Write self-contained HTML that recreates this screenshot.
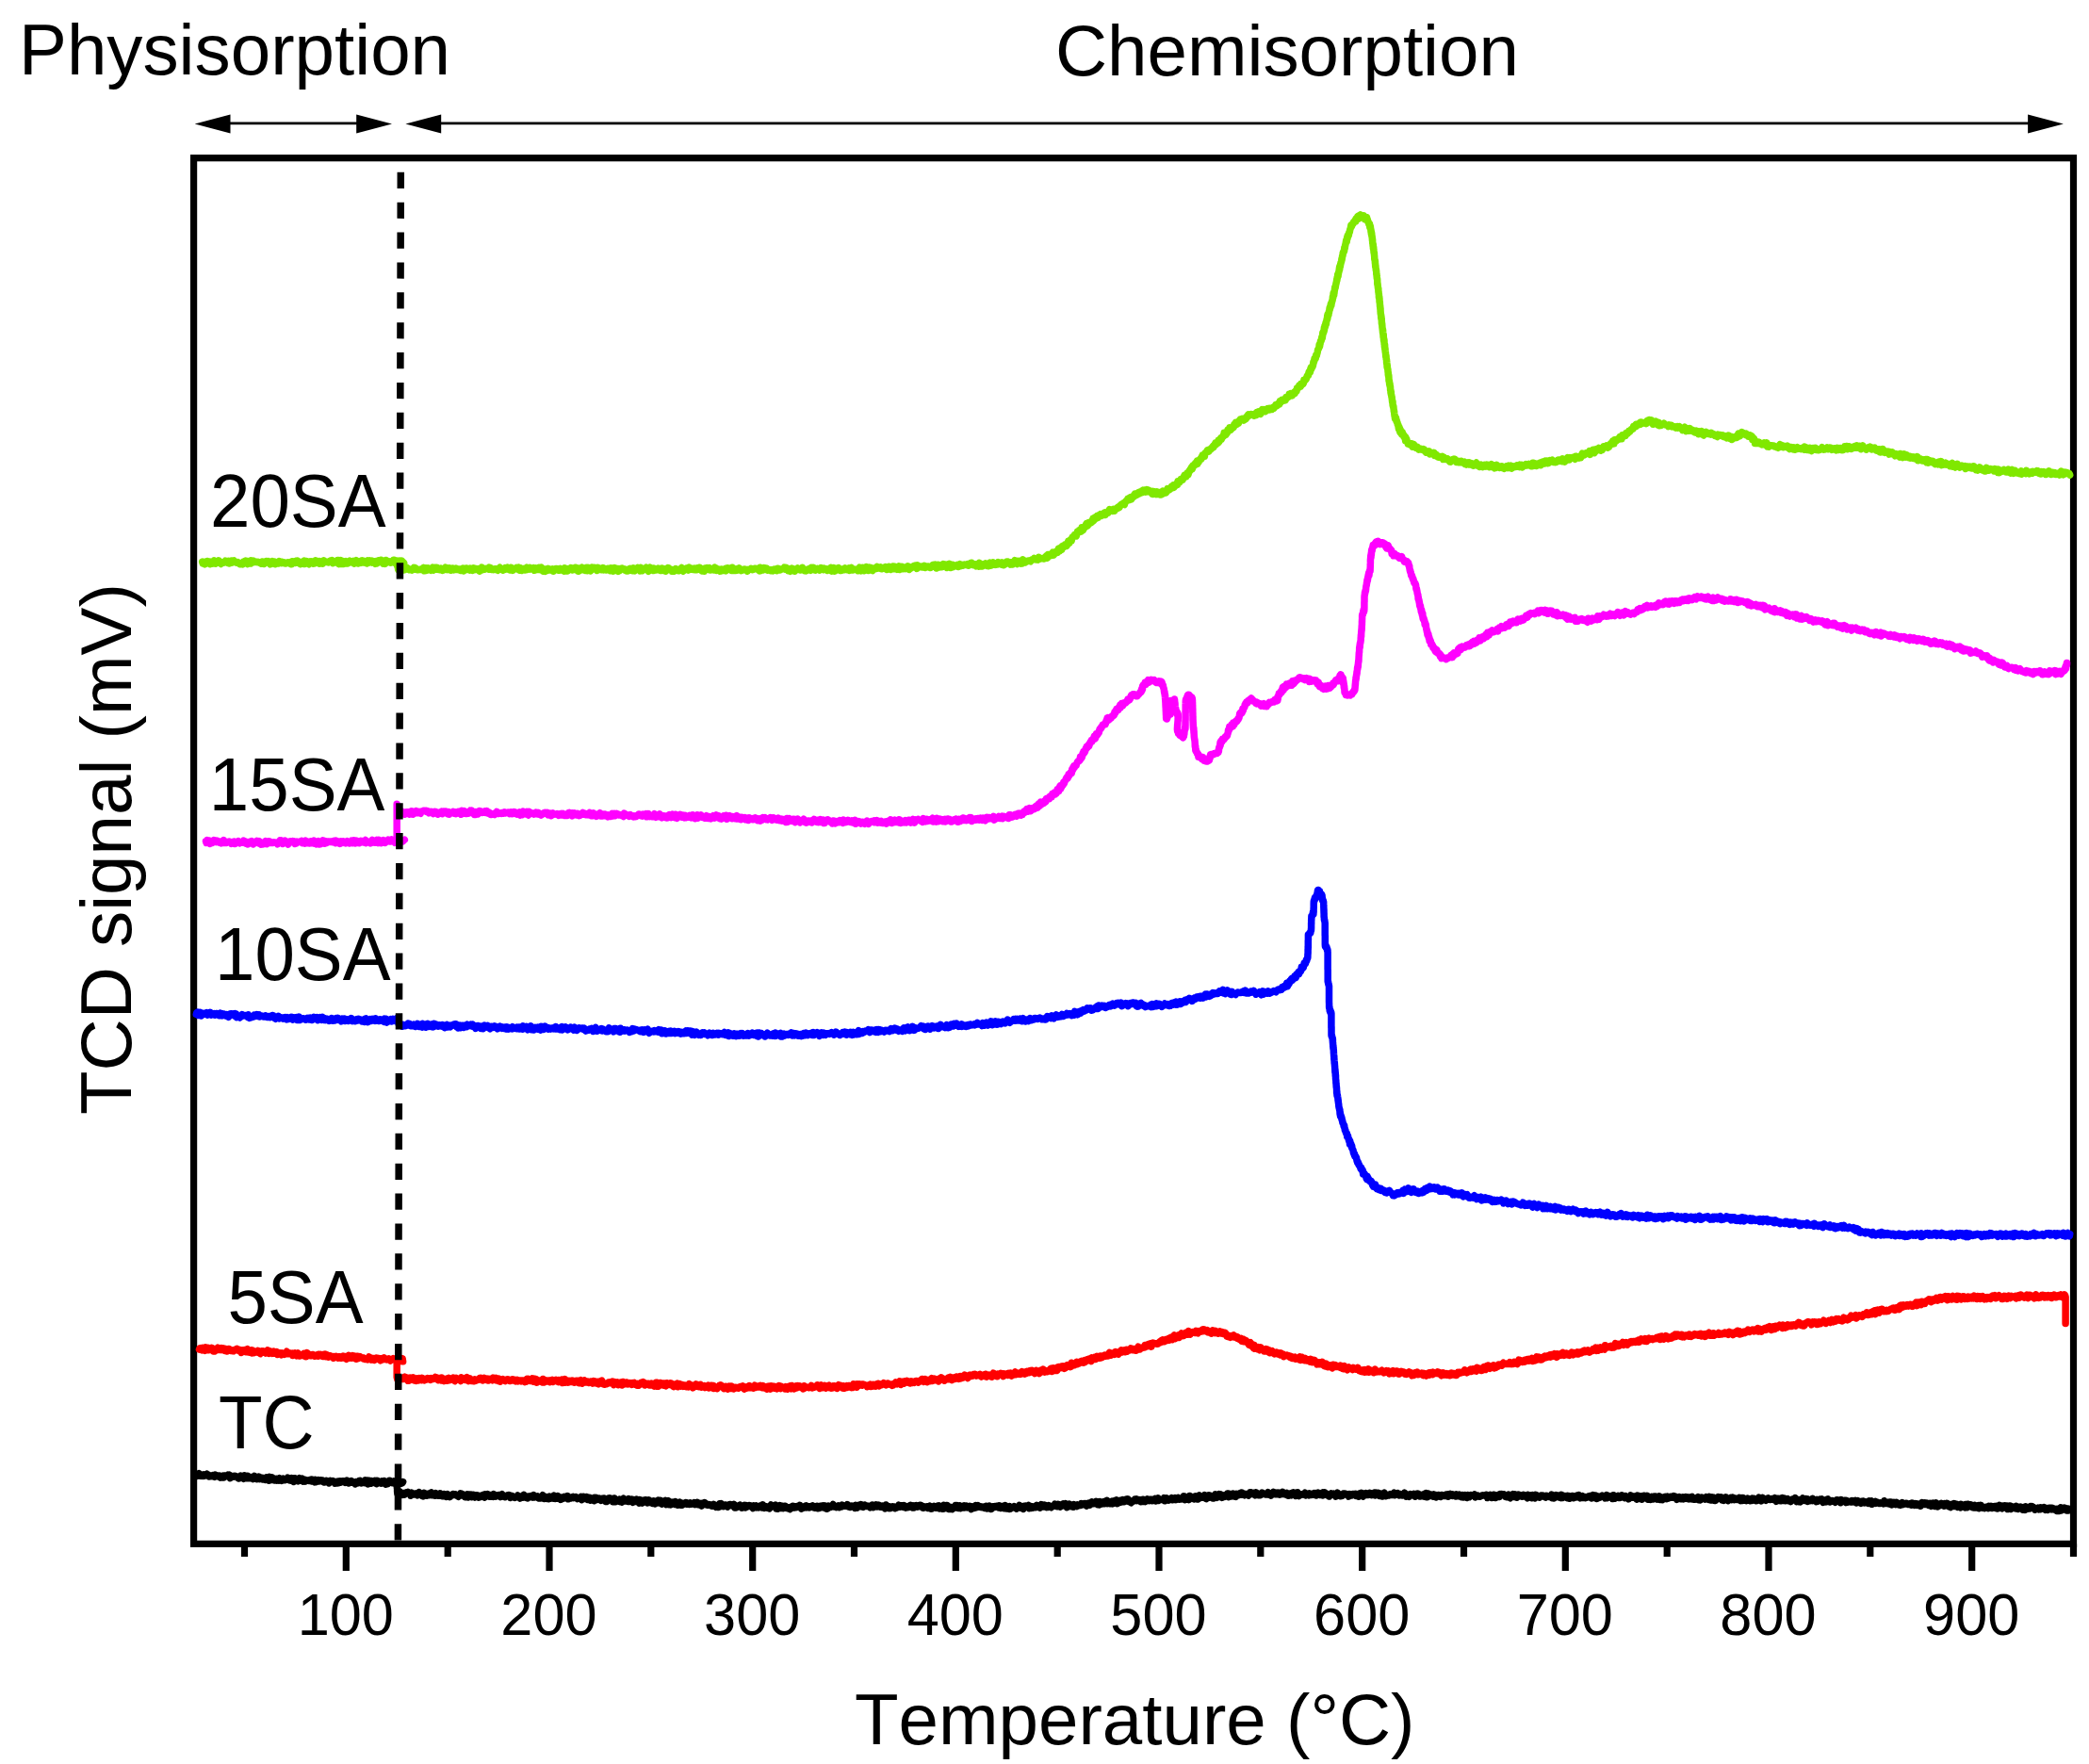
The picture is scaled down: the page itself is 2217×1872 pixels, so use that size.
<!DOCTYPE html>
<html lang="en"><head><meta charset="utf-8"><title>CO2-TPD profiles</title>
<style>
html,body{margin:0;padding:0;background:#fff}
body{width:2217px;height:1872px;overflow:hidden}
svg{display:block}
text{font-family:"Liberation Sans",Arial,Helvetica,sans-serif;fill:#000;font-kerning:none}
.big{font-size:76.3px}
.tick{font-size:61.3px;text-anchor:middle}
.curve{fill:none;stroke-width:7.5;stroke-linejoin:round;stroke-linecap:round}
</style></head><body>
<svg width="2217" height="1872" viewBox="0 0 2217 1872">
<rect x="0" y="0" width="2217" height="1872" fill="#fff"/>
<rect x="205.6" y="167.7" width="1994.9" height="1470.7" fill="none" stroke="#000" stroke-width="7.2"/>
<g stroke="#000" stroke-width="7.2">
<line x1="259.5" y1="1638.4" x2="259.5" y2="1652"/>
<line x1="367.3" y1="1638.4" x2="367.3" y2="1667"/>
<line x1="475.2" y1="1638.4" x2="475.2" y2="1652"/>
<line x1="583.0" y1="1638.4" x2="583.0" y2="1667"/>
<line x1="690.8" y1="1638.4" x2="690.8" y2="1652"/>
<line x1="798.7" y1="1638.4" x2="798.7" y2="1667"/>
<line x1="906.5" y1="1638.4" x2="906.5" y2="1652"/>
<line x1="1014.3" y1="1638.4" x2="1014.3" y2="1667"/>
<line x1="1122.2" y1="1638.4" x2="1122.2" y2="1652"/>
<line x1="1230.0" y1="1638.4" x2="1230.0" y2="1667"/>
<line x1="1337.8" y1="1638.4" x2="1337.8" y2="1652"/>
<line x1="1445.7" y1="1638.4" x2="1445.7" y2="1667"/>
<line x1="1553.5" y1="1638.4" x2="1553.5" y2="1652"/>
<line x1="1661.3" y1="1638.4" x2="1661.3" y2="1667"/>
<line x1="1769.2" y1="1638.4" x2="1769.2" y2="1652"/>
<line x1="1877.0" y1="1638.4" x2="1877.0" y2="1667"/>
<line x1="1984.8" y1="1638.4" x2="1984.8" y2="1652"/>
<line x1="2092.7" y1="1638.4" x2="2092.7" y2="1667"/>
<line x1="2200.5" y1="1638.4" x2="2200.5" y2="1652"/>
</g>
<text class="tick" transform="translate(366.8,1735.0) scale(1,1.035)">100</text>
<text class="tick" transform="translate(582.5,1735.0) scale(1,1.035)">200</text>
<text class="tick" transform="translate(798.2,1735.0) scale(1,1.035)">300</text>
<text class="tick" transform="translate(1013.8,1735.0) scale(1,1.035)">400</text>
<text class="tick" transform="translate(1229.5,1735.0) scale(1,1.035)">500</text>
<text class="tick" transform="translate(1445.2,1735.0) scale(1,1.035)">600</text>
<text class="tick" transform="translate(1660.8,1735.0) scale(1,1.035)">700</text>
<text class="tick" transform="translate(1876.5,1735.0) scale(1,1.035)">800</text>
<text class="tick" transform="translate(2092.2,1735.0) scale(1,1.035)">900</text>
<polyline class="curve" stroke="#000000" points="209.3,1564.8 209.8,1566.3 210.6,1565.2 211.4,1563.7 212.2,1566.3 213.0,1566.4 213.8,1565.2 214.6,1565.5 215.4,1566.3 216.2,1564.8 217.0,1566.2 217.8,1565.8 218.7,1564.9 219.5,1564.3 220.3,1565.7 221.1,1565.1 221.9,1566.8 222.7,1565.9 223.5,1566.7 224.3,1566.2 225.1,1566.5 225.9,1565.8 226.7,1567.0 227.5,1567.3 228.3,1565.1 229.1,1565.4 229.9,1566.1 230.7,1565.9 231.5,1566.1 232.3,1567.1 233.1,1566.2 233.9,1568.1 234.7,1567.2 235.5,1567.5 236.3,1567.9 237.1,1566.2 238.0,1567.8 238.8,1566.0 239.6,1565.9 240.4,1566.1 241.2,1566.5 242.0,1565.3 242.8,1566.7 243.6,1565.2 244.4,1568.6 245.2,1567.0 246.0,1566.5 246.8,1566.5 247.6,1567.2 248.4,1567.2 249.2,1566.2 250.0,1566.5 250.8,1567.3 251.6,1567.0 252.4,1568.5 253.2,1568.9 254.0,1567.6 254.8,1567.8 255.6,1566.1 256.4,1568.4 257.3,1567.7 258.1,1568.0 258.9,1569.2 259.7,1565.9 260.5,1568.2 261.3,1566.9 262.1,1568.7 262.9,1566.4 263.7,1567.6 264.5,1568.7 265.3,1568.8 266.1,1568.2 266.9,1567.6 267.7,1568.0 268.5,1569.5 269.3,1568.2 270.1,1566.4 270.9,1569.1 271.7,1568.9 272.5,1569.6 273.3,1568.2 274.1,1569.0 274.9,1567.2 275.8,1569.5 276.6,1568.5 277.4,1569.4 278.2,1569.9 279.0,1568.3 279.8,1569.2 280.6,1569.3 281.4,1570.4 282.2,1569.8 283.0,1567.9 283.8,1569.6 284.6,1569.5 285.4,1571.1 286.2,1567.3 287.0,1568.4 287.8,1570.6 288.6,1567.9 289.4,1568.3 290.2,1570.2 291.0,1570.9 291.8,1569.3 292.6,1570.3 293.4,1569.4 294.2,1571.0 295.1,1570.0 295.9,1570.9 296.7,1568.7 297.5,1569.6 298.3,1569.9 299.1,1571.3 299.9,1570.7 300.7,1569.1 301.5,1570.6 302.3,1570.8 303.1,1569.9 303.9,1570.1 304.7,1570.2 305.5,1568.2 306.3,1569.7 307.1,1570.7 307.9,1570.0 308.7,1571.0 309.5,1568.5 310.3,1569.7 311.1,1569.7 311.9,1572.3 312.8,1568.7 313.6,1571.1 314.4,1571.5 315.2,1571.0 316.0,1571.7 316.8,1569.3 317.6,1568.7 318.4,1571.2 319.2,1569.2 320.0,1570.0 320.8,1569.3 321.6,1572.2 322.4,1571.9 323.2,1570.2 324.0,1572.0 324.8,1571.0 325.6,1570.8 326.4,1571.2 327.2,1570.8 328.0,1571.6 328.8,1571.4 329.6,1570.6 330.5,1571.8 331.3,1570.2 332.1,1571.6 332.9,1571.9 333.7,1572.8 334.5,1570.4 335.3,1572.7 336.1,1571.4 336.9,1571.4 337.7,1570.7 338.5,1572.0 339.3,1571.7 340.1,1570.7 340.9,1570.9 341.7,1571.7 342.5,1571.2 343.3,1572.7 344.1,1573.1 344.9,1572.7 345.7,1572.2 346.5,1571.4 347.4,1571.8 348.2,1572.5 349.0,1573.9 349.8,1572.7 350.6,1571.4 351.4,1572.3 352.2,1572.0 353.0,1571.6 353.8,1571.9 354.6,1572.5 355.4,1574.2 356.2,1572.7 357.0,1573.4 357.8,1573.8 358.6,1572.1 359.4,1573.7 360.2,1572.9 361.0,1572.0 361.8,1573.1 362.6,1572.6 363.4,1571.7 364.2,1571.8 365.1,1572.5 365.9,1573.2 366.7,1572.0 367.5,1572.7 368.3,1571.1 369.1,1573.6 369.9,1574.0 370.7,1572.9 371.5,1572.9 372.3,1573.2 373.1,1571.8 373.9,1572.4 374.7,1573.5 375.5,1573.8 376.3,1573.1 377.1,1574.8 377.9,1572.6 378.7,1573.6 379.5,1573.9 380.4,1572.4 381.2,1571.6 382.0,1571.3 382.8,1572.9 383.6,1573.9 384.4,1573.1 385.2,1573.1 386.0,1572.6 386.8,1573.5 387.6,1570.9 388.4,1572.9 389.2,1572.6 390.0,1571.2 390.8,1574.9 391.6,1571.2 392.4,1571.5 393.2,1571.7 394.0,1574.2 394.8,1571.7 395.7,1573.2 396.5,1573.5 397.3,1573.2 398.1,1571.4 398.9,1572.3 399.7,1574.6 400.5,1571.3 401.3,1572.0 402.1,1572.9 402.9,1573.7 403.7,1573.2 404.5,1574.0 405.3,1571.9 406.1,1573.7 406.9,1573.6 407.7,1571.5 408.5,1574.7 409.3,1575.1 410.1,1572.3 411.0,1573.2 411.8,1574.6 412.6,1571.6 413.4,1571.2 414.2,1571.6 415.0,1572.6 415.8,1572.7 416.6,1573.7 417.4,1573.3 418.2,1571.8 419.0,1573.3 419.8,1574.7 420.6,1574.2 421.4,1574.0 422.2,1573.1 423.0,1574.4 423.8,1572.4 424.6,1573.9 425.4,1573.0 426.2,1574.2 427.1,1573.6 427.6,1572.6"/>
<polyline class="curve" stroke="#000000" points="421.2,1573.6 421.2,1574.6 421.3,1574.7 421.3,1576.8 421.4,1579.1 421.4,1578.4 421.5,1578.6 421.5,1578.7 421.6,1580.2 421.6,1582.9 421.7,1582.3 421.7,1582.8 421.8,1584.5 422.0,1585.5 422.4,1586.1 423.1,1584.8 423.9,1584.1 424.7,1583.2 425.5,1584.3 426.3,1584.9 427.1,1586.2 427.9,1585.7 428.7,1584.7 429.5,1586.1 430.3,1584.3 431.1,1584.6 431.9,1583.7 432.7,1583.4 433.5,1584.6 434.3,1584.5 435.1,1584.9 435.9,1587.2 436.7,1584.2 437.5,1584.6 438.3,1585.3 439.1,1586.1 439.9,1586.1 440.7,1585.0 441.5,1584.9 442.3,1585.5 443.1,1586.8 443.9,1584.5 444.7,1583.7 445.5,1585.7 446.3,1584.6 447.1,1585.9 447.9,1587.2 448.7,1585.7 449.5,1587.8 450.3,1584.3 451.1,1585.8 451.9,1586.2 452.7,1587.1 453.5,1585.4 454.3,1586.6 455.1,1586.8 455.9,1586.4 456.7,1584.4 457.5,1584.0 458.3,1586.6 459.1,1586.4 459.9,1586.0 460.7,1586.8 461.5,1587.2 462.3,1584.5 463.1,1586.1 463.9,1587.0 464.7,1587.2 465.5,1587.2 466.3,1587.3 467.1,1584.8 467.9,1585.6 468.7,1587.4 469.5,1587.7 470.3,1586.4 471.1,1585.7 471.9,1586.6 472.7,1587.7 473.5,1588.4 474.3,1587.2 475.1,1585.8 475.9,1587.3 476.7,1586.9 477.5,1588.5 478.3,1586.9 479.1,1586.4 479.9,1586.6 480.7,1585.5 481.5,1585.6 482.3,1586.3 483.1,1585.8 483.9,1586.7 484.7,1586.6 485.5,1587.6 486.3,1588.3 487.1,1586.7 487.9,1586.3 488.7,1584.8 489.5,1586.7 490.3,1587.0 491.1,1585.8 491.9,1586.7 492.7,1586.5 493.5,1588.6 494.3,1588.4 495.1,1588.6 495.9,1585.9 496.7,1589.0 497.5,1586.2 498.3,1586.0 499.1,1587.2 499.9,1586.2 500.7,1588.7 501.5,1586.6 502.3,1586.4 503.1,1588.1 503.9,1588.9 504.7,1586.7 505.5,1586.7 506.3,1586.7 507.1,1587.0 507.9,1589.1 508.7,1588.9 509.5,1588.6 510.3,1588.5 511.1,1587.1 511.9,1587.9 512.7,1586.8 513.5,1586.3 514.3,1589.1 515.1,1585.9 515.9,1587.8 516.7,1586.9 517.5,1585.7 518.3,1587.3 519.1,1588.1 519.9,1588.3 520.7,1586.7 521.5,1588.1 522.3,1587.6 523.1,1588.3 523.9,1585.6 524.7,1587.0 525.5,1586.7 526.3,1588.1 527.1,1587.0 527.9,1587.5 528.7,1586.8 529.5,1586.5 530.4,1586.6 531.2,1588.6 532.0,1586.4 532.8,1585.8 533.6,1588.0 534.4,1587.3 535.2,1588.6 536.0,1588.7 536.8,1587.8 537.6,1587.4 538.4,1586.9 539.2,1587.5 540.0,1586.7 540.8,1587.7 541.6,1589.3 542.4,1587.3 543.2,1587.4 544.0,1587.7 544.8,1589.0 545.6,1588.8 546.4,1589.4 547.2,1588.9 548.0,1588.3 548.8,1588.6 549.6,1587.0 550.4,1588.8 551.2,1588.0 552.0,1590.0 552.8,1589.6 553.6,1587.7 554.4,1587.9 555.2,1589.0 556.0,1586.4 556.8,1587.3 557.6,1588.9 558.4,1589.5 559.2,1589.0 560.0,1589.8 560.8,1588.0 561.6,1588.2 562.4,1588.2 563.2,1587.6 564.0,1588.6 564.8,1587.8 565.6,1589.0 566.4,1586.6 567.2,1588.9 568.0,1588.0 568.8,1588.0 569.6,1588.5 570.4,1588.0 571.2,1589.7 572.0,1590.1 572.8,1589.7 573.6,1590.0 574.4,1589.2 575.2,1588.2 576.0,1586.8 576.8,1588.3 577.6,1590.4 578.4,1589.9 579.2,1588.4 580.0,1589.1 580.8,1590.3 581.6,1589.0 582.4,1590.7 583.2,1588.1 584.0,1590.2 584.8,1590.1 585.6,1589.4 586.4,1589.9 587.2,1590.1 588.0,1587.1 588.8,1589.1 589.6,1590.3 590.4,1589.7 591.2,1590.1 592.0,1587.6 592.8,1589.1 593.6,1589.5 594.4,1589.2 595.2,1591.3 596.0,1590.8 596.8,1589.2 597.6,1590.3 598.4,1590.0 599.2,1588.4 600.0,1589.7 600.8,1589.5 601.6,1589.2 602.4,1587.6 603.2,1590.8 604.0,1590.3 604.8,1589.7 605.6,1590.1 606.4,1589.7 607.2,1588.7 608.0,1588.4 608.8,1589.6 609.6,1589.3 610.4,1589.5 611.2,1588.6 612.0,1589.3 612.8,1590.6 613.6,1589.8 614.4,1589.9 615.2,1590.2 616.0,1590.0 616.8,1588.4 617.6,1591.6 618.4,1589.2 619.2,1588.4 620.0,1590.5 620.8,1590.3 621.6,1589.4 622.4,1588.5 623.2,1588.6 624.0,1591.5 624.8,1589.7 625.6,1589.3 626.4,1592.2 627.2,1589.9 628.0,1589.9 628.8,1591.8 629.6,1591.5 630.4,1592.6 631.2,1589.3 632.0,1591.3 632.8,1589.5 633.6,1591.6 634.4,1590.1 635.2,1590.7 636.0,1590.2 636.8,1591.3 637.6,1592.2 638.4,1590.6 639.2,1590.2 640.0,1590.1 640.8,1591.5 641.6,1590.3 642.4,1593.4 643.2,1591.8 644.0,1593.4 644.8,1591.9 645.6,1590.3 646.4,1589.8 647.2,1590.6 648.0,1590.1 648.8,1591.1 649.6,1590.8 650.4,1593.7 651.2,1593.8 652.0,1590.0 652.8,1592.4 653.6,1593.6 654.4,1592.0 655.2,1591.8 656.0,1592.9 656.8,1592.5 657.6,1591.1 658.4,1593.7 659.2,1591.7 660.0,1594.2 660.8,1591.3 661.6,1590.3 662.4,1591.9 663.2,1592.9 664.0,1592.4 664.8,1592.8 665.6,1591.9 666.4,1593.3 667.2,1590.6 668.0,1593.4 668.8,1591.1 669.6,1591.8 670.4,1591.2 671.2,1591.8 672.0,1594.3 672.8,1591.6 673.6,1593.1 674.4,1591.7 675.2,1593.4 676.0,1591.2 676.8,1593.1 677.6,1594.1 678.4,1595.1 679.2,1591.6 680.0,1592.2 680.8,1593.3 681.6,1595.1 682.4,1592.6 683.2,1594.2 684.0,1592.1 684.8,1591.8 685.6,1591.8 686.4,1593.8 687.2,1594.8 688.0,1593.8 688.8,1591.9 689.6,1593.5 690.4,1594.7 691.2,1594.7 692.0,1594.1 692.8,1595.3 693.6,1592.8 694.4,1593.1 695.2,1595.9 696.0,1594.7 696.8,1593.6 697.6,1593.2 698.4,1592.1 699.2,1594.8 700.0,1592.2 700.8,1592.2 701.6,1594.3 702.4,1596.0 703.2,1593.8 704.0,1594.5 704.8,1593.2 705.6,1594.0 706.4,1592.5 707.2,1596.6 708.0,1593.4 708.8,1594.8 709.5,1592.7 710.3,1596.7 711.1,1595.5 711.9,1596.8 712.7,1594.1 713.5,1595.7 714.3,1594.4 715.1,1594.8 715.9,1596.3 716.7,1593.7 717.5,1595.6 718.3,1597.1 719.1,1597.2 719.9,1596.7 720.7,1595.6 721.5,1594.3 722.3,1597.1 723.1,1595.1 723.9,1597.2 724.7,1595.3 725.5,1595.2 726.3,1595.1 727.1,1595.7 727.9,1594.8 728.7,1596.1 729.5,1595.3 730.3,1596.3 731.1,1596.4 731.9,1596.4 732.7,1594.8 733.5,1596.2 734.3,1595.9 735.1,1596.1 735.9,1595.5 736.7,1594.8 737.5,1596.6 738.3,1594.9 739.1,1596.4 739.9,1594.3 740.7,1596.8 741.5,1596.9 742.3,1595.2 743.1,1596.7 743.9,1596.0 744.7,1598.0 745.5,1597.0 746.3,1595.1 747.1,1596.4 747.9,1594.7 748.7,1595.9 749.5,1596.8 750.3,1597.2 751.1,1596.6 751.9,1596.5 752.7,1597.3 753.5,1596.9 754.3,1597.6 755.1,1598.1 755.9,1597.2 756.7,1598.0 757.5,1596.5 758.3,1596.9 759.1,1598.0 759.9,1599.3 760.7,1598.4 761.5,1599.2 762.3,1597.8 763.1,1599.3 763.9,1595.8 764.7,1597.5 765.5,1595.6 766.3,1598.3 767.1,1597.7 767.9,1598.5 768.7,1597.6 769.5,1596.9 770.3,1597.1 771.1,1598.2 771.9,1599.1 772.7,1598.1 773.5,1596.8 774.3,1596.6 775.1,1596.6 775.9,1597.4 776.7,1597.9 777.5,1597.5 778.3,1598.0 779.1,1596.5 779.9,1599.9 780.7,1598.4 781.5,1599.7 782.3,1598.4 783.1,1598.1 783.9,1598.4 784.7,1598.2 785.5,1597.3 786.3,1598.1 787.1,1600.2 787.9,1600.0 788.7,1598.1 789.5,1599.0 790.3,1597.5 791.1,1600.0 791.9,1597.5 792.7,1599.2 793.5,1598.3 794.3,1598.5 795.1,1597.7 795.9,1598.5 796.7,1598.1 797.5,1598.0 798.3,1599.2 799.1,1600.5 799.9,1597.8 800.7,1599.3 801.5,1598.5 802.3,1598.0 803.1,1599.9 803.9,1599.1 804.7,1599.8 805.5,1598.6 806.3,1598.6 807.1,1597.8 807.9,1598.3 808.7,1599.9 809.5,1596.8 810.3,1599.1 811.1,1600.2 811.9,1599.4 812.7,1599.8 813.5,1598.9 814.3,1600.3 815.1,1600.4 815.9,1599.2 816.7,1600.8 817.5,1598.5 818.3,1597.0 819.1,1598.7 819.9,1598.7 820.7,1598.3 821.5,1598.6 822.3,1598.3 823.1,1597.1 823.9,1600.9 824.7,1599.6 825.5,1601.2 826.3,1598.9 827.1,1599.3 827.9,1597.6 828.7,1600.3 829.5,1598.0 830.3,1600.1 831.1,1600.6 832.0,1600.0 832.8,1598.2 833.6,1598.4 834.4,1600.2 835.2,1600.5 836.0,1600.8 836.8,1599.7 837.6,1599.8 838.4,1601.5 839.2,1599.3 840.0,1600.4 840.8,1599.3 841.6,1598.3 842.4,1598.6 843.2,1599.9 844.0,1599.5 844.8,1599.8 845.6,1598.8 846.4,1598.4 847.2,1599.1 848.0,1598.9 848.8,1597.4 849.6,1598.7 850.4,1601.1 851.2,1598.9 852.0,1600.5 852.8,1599.4 853.6,1599.8 854.4,1598.2 855.2,1597.9 856.0,1599.8 856.8,1598.4 857.6,1599.0 858.4,1598.7 859.2,1599.9 860.0,1598.9 860.8,1599.0 861.6,1598.3 862.4,1597.9 863.2,1598.4 864.0,1600.1 864.8,1600.2 865.6,1600.3 866.4,1599.4 867.2,1598.5 868.0,1600.7 868.8,1600.0 869.6,1600.3 870.4,1598.3 871.2,1598.3 872.0,1599.4 872.8,1599.6 873.6,1597.9 874.4,1599.3 875.2,1597.8 876.0,1600.3 876.8,1599.9 877.6,1601.2 878.4,1600.8 879.2,1598.2 879.8,1598.9 880.4,1598.5 881.0,1599.1 881.8,1599.4 882.6,1598.4 883.4,1598.0 884.2,1596.5 885.0,1599.0 885.8,1598.7 886.6,1599.0 887.4,1599.5 888.2,1598.6 889.0,1599.1 889.8,1597.9 890.6,1599.7 891.4,1598.5 892.2,1598.3 893.0,1598.9 893.8,1597.1 894.6,1597.6 895.4,1597.9 896.2,1598.2 897.0,1598.2 897.8,1598.2 898.6,1598.4 899.4,1596.6 900.2,1598.3 901.0,1599.2 901.8,1599.4 902.6,1599.4 903.4,1598.2 904.2,1598.6 905.0,1598.3 905.8,1598.0 906.6,1598.6 907.4,1600.3 908.2,1597.4 909.0,1599.0 909.8,1599.9 910.6,1597.7 911.4,1598.8 912.2,1597.2 913.0,1598.3 913.8,1596.7 914.6,1598.8 915.4,1598.1 916.2,1599.2 917.0,1597.9 917.8,1597.2 918.6,1597.9 919.4,1598.6 920.2,1598.4 921.0,1598.1 921.8,1598.2 922.6,1598.7 923.4,1599.8 924.3,1598.4 925.1,1599.1 925.9,1597.1 926.7,1599.7 927.5,1599.3 928.3,1598.5 929.1,1598.4 929.9,1597.0 930.7,1598.9 931.5,1598.6 932.3,1597.1 933.1,1598.0 933.9,1599.2 934.7,1598.8 935.5,1599.0 936.3,1598.3 937.1,1599.6 937.9,1598.5 938.7,1599.6 939.5,1600.8 940.3,1597.0 941.1,1597.9 941.9,1598.6 942.7,1598.6 943.5,1600.5 944.3,1598.8 945.1,1600.6 945.9,1599.3 946.7,1599.1 947.5,1598.7 948.3,1599.2 949.1,1599.0 949.9,1600.6 950.7,1599.6 951.5,1600.0 952.3,1599.5 953.1,1599.6 953.9,1597.2 954.7,1598.5 955.5,1599.1 956.3,1597.8 957.1,1597.8 957.9,1598.7 958.7,1599.4 959.5,1597.6 960.3,1599.5 961.1,1600.1 961.9,1599.0 962.7,1599.5 963.5,1599.7 964.3,1598.5 965.1,1599.5 965.9,1599.1 966.7,1597.5 967.5,1599.5 968.3,1599.9 969.1,1597.8 969.9,1600.0 970.7,1599.2 971.5,1598.0 972.3,1597.6 973.1,1597.8 973.9,1599.1 974.7,1597.9 975.5,1598.4 976.3,1597.6 977.1,1598.9 977.9,1597.8 978.7,1598.8 979.5,1600.3 980.3,1600.2 981.1,1598.8 981.9,1599.2 982.7,1599.6 983.5,1599.0 984.3,1600.3 985.1,1600.5 985.9,1599.2 986.7,1598.2 987.5,1599.4 988.3,1601.2 989.1,1601.0 989.9,1600.3 990.7,1600.1 991.5,1598.5 992.3,1599.2 993.1,1600.0 993.9,1599.4 994.7,1600.1 995.5,1598.0 996.3,1597.8 997.1,1600.9 997.9,1599.6 998.7,1599.9 999.5,1600.8 1000.3,1601.3 1001.1,1601.3 1001.9,1597.4 1002.7,1599.3 1003.5,1600.2 1004.3,1597.4 1005.1,1597.4 1005.9,1599.4 1006.7,1601.4 1007.5,1600.9 1008.3,1601.4 1009.1,1599.5 1009.9,1600.5 1010.7,1601.4 1011.5,1600.6 1012.3,1599.8 1013.1,1599.7 1013.9,1597.5 1014.7,1599.8 1015.5,1597.5 1016.3,1598.6 1017.1,1600.4 1017.9,1600.2 1018.7,1597.8 1019.5,1600.6 1020.3,1600.3 1021.1,1598.9 1021.9,1599.5 1022.7,1599.9 1023.5,1598.0 1024.3,1599.8 1025.1,1599.4 1025.9,1598.3 1026.7,1599.8 1027.5,1599.0 1028.3,1599.5 1029.1,1598.5 1029.9,1600.2 1030.7,1601.5 1031.5,1598.9 1032.3,1599.4 1033.1,1599.7 1033.9,1600.3 1034.7,1599.7 1035.5,1597.5 1036.3,1599.8 1037.1,1598.7 1037.9,1597.7 1038.7,1599.1 1039.5,1598.9 1040.3,1599.4 1041.1,1598.8 1041.9,1599.2 1042.7,1599.7 1043.5,1599.3 1044.3,1599.0 1045.1,1600.4 1045.9,1599.3 1046.7,1598.4 1047.5,1601.0 1048.3,1599.1 1049.1,1600.7 1050.0,1598.1 1050.8,1600.0 1051.6,1601.5 1052.4,1601.2 1053.2,1599.8 1054.0,1598.8 1054.8,1598.7 1055.6,1599.3 1056.4,1598.5 1057.2,1598.4 1058.0,1598.3 1058.8,1598.4 1059.6,1599.7 1060.4,1597.8 1061.2,1599.9 1062.0,1600.3 1062.8,1598.4 1063.6,1598.5 1064.4,1599.5 1065.2,1599.4 1066.0,1600.6 1066.8,1597.6 1067.6,1599.6 1068.4,1600.8 1069.2,1599.2 1070.0,1600.9 1070.8,1601.4 1071.6,1598.7 1072.4,1601.1 1073.2,1600.6 1074.0,1600.3 1074.8,1599.6 1075.6,1599.6 1076.4,1598.7 1077.2,1599.1 1078.0,1600.2 1078.8,1601.0 1079.6,1599.5 1080.4,1600.1 1081.2,1599.5 1082.0,1597.5 1082.8,1600.1 1083.6,1598.4 1084.4,1598.4 1085.2,1600.5 1086.0,1601.3 1086.8,1598.2 1087.6,1598.2 1088.4,1597.9 1089.2,1598.2 1090.0,1598.7 1090.8,1598.6 1091.6,1597.5 1092.4,1600.7 1093.2,1598.3 1094.0,1598.4 1094.8,1600.3 1095.6,1598.9 1096.4,1600.1 1097.2,1599.6 1098.0,1599.8 1098.8,1598.4 1099.6,1599.5 1100.4,1597.4 1101.2,1597.8 1102.0,1598.9 1102.8,1598.2 1103.6,1600.2 1104.4,1598.5 1105.2,1596.7 1106.0,1598.3 1106.8,1598.3 1107.6,1598.9 1108.4,1597.1 1109.2,1597.3 1110.0,1598.4 1110.8,1599.6 1111.6,1599.4 1112.4,1599.5 1113.2,1597.6 1114.0,1599.0 1114.8,1599.1 1115.6,1599.8 1116.4,1598.9 1117.2,1598.2 1118.0,1598.1 1118.8,1597.9 1119.6,1596.2 1120.4,1597.6 1121.2,1598.6 1122.0,1598.7 1122.8,1596.4 1123.6,1598.4 1124.4,1596.6 1125.2,1599.2 1126.0,1598.4 1126.8,1598.3 1127.6,1597.1 1128.4,1595.9 1129.2,1596.6 1130.0,1596.9 1130.8,1595.8 1131.6,1596.4 1132.4,1599.7 1133.2,1596.8 1134.0,1598.8 1134.8,1596.1 1135.6,1598.2 1136.4,1598.6 1137.2,1598.0 1138.0,1598.8 1138.8,1599.2 1139.6,1596.5 1140.4,1597.6 1141.2,1597.4 1142.0,1597.5 1142.8,1598.5 1143.6,1597.0 1144.4,1597.8 1145.2,1597.8 1146.0,1597.1 1146.8,1597.4 1147.6,1595.7 1148.3,1596.7 1149.1,1596.6 1149.9,1596.2 1150.7,1595.7 1151.5,1596.9 1152.3,1595.7 1153.1,1598.1 1153.9,1597.3 1154.7,1596.6 1155.5,1595.2 1156.3,1597.2 1157.1,1596.7 1157.9,1596.0 1158.7,1593.8 1159.5,1595.6 1160.3,1595.7 1161.1,1595.2 1161.9,1595.2 1162.7,1595.2 1163.5,1593.4 1164.3,1594.4 1165.1,1596.7 1165.9,1594.7 1166.7,1597.0 1167.5,1593.6 1168.3,1596.0 1169.1,1595.7 1169.9,1595.9 1170.7,1595.7 1171.5,1593.5 1172.3,1595.7 1173.1,1595.2 1173.9,1594.4 1174.7,1592.3 1175.5,1595.7 1176.3,1593.2 1177.1,1593.8 1177.9,1595.7 1178.7,1595.8 1179.5,1594.5 1180.3,1593.3 1181.1,1595.8 1181.9,1595.2 1182.7,1593.6 1183.5,1592.4 1184.3,1593.4 1185.1,1592.0 1185.9,1595.6 1186.7,1594.6 1187.5,1593.5 1188.3,1594.2 1189.1,1592.3 1189.9,1594.1 1190.7,1593.0 1191.5,1591.8 1192.3,1592.7 1193.1,1593.5 1193.9,1591.7 1194.7,1593.0 1195.5,1591.2 1196.3,1592.7 1197.1,1591.0 1197.9,1593.5 1198.7,1593.7 1199.5,1594.0 1200.3,1594.7 1201.1,1593.0 1201.9,1592.8 1202.7,1593.2 1203.5,1592.4 1204.3,1591.1 1205.1,1591.4 1205.9,1590.9 1206.7,1592.5 1207.5,1591.7 1208.3,1591.6 1209.1,1592.5 1209.9,1592.0 1210.7,1593.6 1211.5,1591.8 1212.3,1591.4 1213.1,1593.5 1213.9,1591.5 1214.7,1592.1 1215.5,1593.5 1216.3,1592.6 1217.0,1592.7 1217.8,1591.0 1218.6,1591.5 1219.4,1592.4 1220.2,1591.2 1221.0,1591.2 1221.8,1591.2 1222.6,1592.7 1223.4,1592.6 1224.2,1591.2 1225.0,1591.1 1225.8,1590.5 1226.6,1593.0 1227.4,1592.0 1228.2,1592.2 1229.0,1589.9 1229.8,1592.4 1230.6,1591.3 1231.4,1591.3 1232.2,1591.6 1233.0,1591.2 1233.8,1591.1 1234.6,1591.8 1235.4,1589.7 1236.2,1592.8 1237.0,1591.8 1237.8,1589.8 1238.6,1591.9 1239.4,1591.4 1240.2,1592.1 1241.0,1591.5 1241.8,1591.2 1242.6,1590.9 1243.4,1589.8 1244.2,1591.7 1245.0,1591.3 1245.8,1590.2 1246.6,1591.4 1247.4,1589.6 1248.2,1591.5 1249.0,1590.8 1249.8,1590.8 1250.6,1589.4 1251.4,1591.1 1252.2,1590.6 1253.0,1590.1 1253.8,1590.7 1254.6,1589.6 1255.4,1590.6 1256.2,1587.8 1257.0,1588.0 1257.8,1591.7 1258.6,1589.2 1259.4,1589.8 1260.2,1588.7 1261.0,1589.5 1261.8,1591.5 1262.6,1587.5 1263.4,1590.0 1264.2,1589.6 1265.0,1589.6 1265.8,1588.7 1266.6,1588.4 1267.4,1590.9 1268.2,1589.8 1269.0,1588.0 1269.8,1589.4 1270.6,1587.8 1271.4,1591.0 1272.2,1588.9 1273.0,1586.9 1273.8,1589.6 1274.6,1589.4 1275.4,1589.2 1276.2,1589.2 1277.0,1588.4 1277.8,1588.7 1278.6,1586.7 1279.4,1590.0 1280.2,1590.5 1281.0,1589.2 1281.8,1589.4 1282.6,1586.8 1283.4,1587.8 1284.2,1587.1 1285.0,1587.3 1285.8,1589.3 1286.6,1589.8 1287.4,1587.7 1288.2,1590.0 1289.0,1588.6 1289.8,1585.9 1290.6,1587.9 1291.4,1589.3 1292.2,1588.0 1293.0,1588.6 1293.8,1585.6 1294.6,1588.4 1295.4,1585.8 1296.2,1587.5 1297.0,1589.4 1297.8,1587.8 1298.6,1587.5 1299.4,1588.2 1300.2,1586.4 1301.0,1586.4 1301.8,1587.9 1302.6,1585.0 1303.4,1585.2 1304.2,1588.7 1305.0,1585.4 1305.8,1587.3 1306.6,1587.9 1307.4,1586.2 1308.2,1585.2 1309.0,1587.5 1309.8,1585.4 1310.6,1588.3 1311.4,1588.4 1312.2,1585.3 1313.0,1587.1 1313.8,1585.6 1314.6,1586.5 1315.4,1585.7 1316.2,1584.8 1317.0,1586.1 1317.8,1584.0 1318.6,1586.2 1319.4,1586.0 1320.2,1585.3 1321.0,1586.8 1321.8,1585.7 1322.6,1585.4 1323.4,1585.6 1324.2,1585.6 1325.0,1587.1 1325.8,1586.0 1326.6,1583.8 1327.4,1583.7 1328.2,1584.7 1329.0,1584.5 1329.8,1585.6 1330.6,1584.4 1331.4,1584.9 1332.2,1586.8 1333.0,1583.8 1333.8,1586.0 1334.6,1584.9 1335.4,1586.6 1336.2,1586.4 1337.0,1585.6 1337.8,1586.6 1338.6,1585.6 1339.4,1584.1 1340.2,1585.4 1341.0,1585.4 1341.8,1585.1 1342.6,1585.8 1343.4,1585.2 1344.2,1585.9 1345.0,1585.1 1345.8,1583.7 1346.6,1584.7 1347.4,1586.4 1348.2,1585.7 1349.0,1587.0 1349.8,1585.6 1350.6,1584.6 1351.4,1583.4 1352.2,1584.4 1353.0,1585.6 1353.8,1585.8 1354.6,1585.7 1355.4,1584.2 1356.2,1584.9 1357.0,1584.2 1357.8,1586.2 1358.6,1586.1 1359.4,1584.6 1360.2,1585.4 1361.0,1583.3 1361.8,1585.5 1362.6,1584.2 1363.4,1585.0 1364.2,1585.9 1365.0,1585.7 1365.8,1584.5 1366.6,1587.0 1367.4,1587.3 1368.2,1587.0 1369.0,1586.3 1369.8,1585.0 1370.6,1586.8 1371.4,1584.2 1372.2,1583.9 1373.0,1585.6 1373.8,1585.8 1374.6,1584.7 1375.4,1587.5 1376.2,1584.1 1377.0,1583.8 1377.8,1585.7 1378.6,1587.5 1379.4,1586.8 1380.2,1586.4 1381.0,1585.9 1381.8,1586.2 1382.6,1585.6 1383.4,1585.4 1384.2,1585.4 1385.0,1584.1 1385.8,1586.8 1386.6,1585.0 1387.4,1585.7 1388.2,1585.9 1389.0,1586.8 1389.8,1585.0 1390.6,1586.5 1391.4,1586.6 1392.2,1585.5 1393.0,1585.6 1393.8,1586.1 1394.6,1584.8 1395.4,1585.4 1396.2,1584.7 1397.0,1586.9 1397.8,1584.6 1398.6,1584.1 1399.4,1585.6 1400.2,1586.3 1401.0,1585.3 1401.8,1584.6 1402.6,1586.4 1403.4,1586.9 1404.2,1583.9 1405.0,1586.5 1405.8,1583.9 1406.6,1586.1 1407.4,1585.0 1408.2,1585.5 1409.0,1586.6 1409.8,1587.5 1410.6,1588.0 1411.4,1587.2 1412.2,1586.7 1413.0,1584.9 1413.8,1585.4 1414.6,1585.9 1415.4,1585.3 1416.2,1586.7 1417.0,1586.0 1417.8,1588.1 1418.6,1585.7 1419.4,1584.3 1420.2,1585.6 1421.0,1585.6 1421.8,1586.9 1422.6,1587.8 1423.4,1587.5 1424.2,1587.6 1425.0,1585.9 1425.8,1585.0 1426.6,1585.0 1427.4,1585.8 1428.2,1585.3 1429.0,1585.9 1429.8,1586.8 1430.6,1586.0 1431.4,1588.1 1432.2,1585.5 1433.0,1586.8 1433.8,1586.0 1434.6,1586.8 1435.4,1585.6 1436.2,1585.6 1437.0,1586.3 1437.8,1585.6 1438.6,1585.3 1439.4,1587.4 1440.2,1586.0 1441.0,1587.7 1441.8,1588.1 1442.6,1585.1 1443.4,1586.8 1444.2,1586.2 1445.0,1584.4 1445.8,1586.3 1446.6,1588.0 1447.4,1585.1 1448.2,1586.1 1449.0,1586.0 1449.8,1584.6 1450.6,1586.3 1451.4,1585.6 1452.2,1586.4 1453.0,1585.9 1453.8,1584.4 1454.6,1586.2 1455.4,1586.6 1456.2,1585.7 1457.1,1586.5 1457.9,1586.6 1458.7,1584.1 1459.5,1587.0 1460.3,1584.1 1461.1,1584.5 1461.9,1585.3 1462.7,1584.5 1463.5,1585.2 1464.3,1587.5 1465.1,1585.1 1465.9,1587.1 1466.7,1588.0 1467.5,1588.1 1468.3,1585.1 1469.1,1584.1 1469.9,1585.4 1470.7,1587.7 1471.5,1586.1 1472.3,1586.3 1473.1,1586.5 1473.9,1586.9 1474.7,1586.9 1475.5,1585.6 1476.3,1585.7 1477.1,1586.4 1477.9,1585.8 1478.7,1585.3 1479.5,1584.1 1480.3,1586.6 1481.1,1585.9 1481.9,1586.0 1482.7,1585.6 1483.5,1584.7 1484.3,1586.0 1485.1,1586.9 1485.9,1586.7 1486.7,1585.7 1487.5,1586.6 1488.3,1587.0 1489.1,1585.8 1489.9,1586.5 1490.7,1584.2 1491.5,1585.8 1492.3,1588.1 1493.1,1587.5 1493.9,1586.3 1494.7,1586.8 1495.5,1588.3 1496.3,1587.5 1497.1,1585.6 1497.9,1586.7 1498.7,1585.9 1499.5,1586.0 1500.3,1585.4 1501.1,1586.7 1501.9,1588.2 1502.7,1587.4 1503.5,1585.4 1504.3,1587.2 1505.1,1585.2 1505.9,1587.3 1506.7,1588.1 1507.5,1588.1 1508.3,1586.6 1509.1,1586.6 1509.9,1586.1 1510.7,1586.2 1511.5,1588.2 1512.3,1585.2 1513.1,1584.7 1513.9,1588.7 1514.7,1588.7 1515.5,1585.0 1516.3,1587.5 1517.0,1587.5 1517.8,1586.6 1518.6,1586.1 1519.4,1587.5 1520.2,1587.2 1521.0,1588.0 1521.8,1585.9 1522.6,1587.9 1523.4,1586.5 1524.2,1589.0 1525.0,1588.0 1525.8,1588.1 1526.6,1586.5 1527.4,1586.6 1528.2,1586.7 1529.0,1588.3 1529.8,1586.7 1530.6,1586.5 1531.4,1586.9 1532.2,1587.4 1533.0,1586.9 1533.8,1587.3 1534.6,1586.1 1535.4,1586.5 1536.2,1585.9 1537.0,1588.2 1537.8,1586.5 1538.6,1587.1 1539.4,1585.5 1540.2,1587.0 1541.0,1587.3 1541.8,1585.9 1542.6,1586.5 1543.4,1586.7 1544.2,1587.7 1545.0,1588.0 1545.8,1586.0 1546.6,1587.2 1547.4,1587.0 1548.2,1587.6 1549.0,1586.2 1549.8,1586.7 1550.6,1588.6 1551.4,1588.8 1552.2,1586.6 1553.0,1588.9 1553.8,1587.3 1554.6,1586.8 1555.4,1588.8 1556.2,1587.7 1557.0,1589.3 1557.8,1586.7 1558.6,1587.7 1559.4,1588.6 1560.2,1587.7 1561.0,1586.5 1561.8,1586.8 1562.6,1586.9 1563.4,1587.2 1564.2,1587.3 1565.0,1586.0 1565.8,1588.9 1566.6,1587.2 1567.4,1587.5 1568.2,1587.1 1569.0,1587.4 1569.8,1588.2 1570.6,1588.3 1571.4,1587.5 1572.2,1587.6 1573.0,1587.0 1573.8,1586.8 1574.6,1587.0 1575.4,1587.1 1576.2,1586.7 1577.0,1587.6 1577.8,1586.4 1578.6,1589.5 1579.4,1588.3 1580.2,1587.2 1581.0,1587.9 1581.8,1586.3 1582.6,1586.9 1583.4,1589.4 1584.2,1589.2 1585.0,1586.2 1585.8,1586.4 1586.6,1587.1 1587.4,1589.5 1588.2,1587.5 1589.0,1587.8 1589.8,1586.7 1590.6,1588.6 1591.4,1588.5 1592.2,1585.7 1593.0,1586.6 1593.8,1585.7 1594.6,1586.4 1595.4,1586.5 1596.2,1586.0 1597.0,1587.0 1597.8,1588.4 1598.6,1588.6 1599.4,1587.5 1600.2,1588.5 1601.0,1586.1 1601.8,1589.0 1602.6,1589.7 1603.4,1587.3 1604.2,1587.9 1605.0,1587.8 1605.8,1585.7 1606.6,1588.3 1607.4,1588.0 1608.2,1585.9 1609.0,1587.3 1609.8,1589.2 1610.6,1588.3 1611.4,1586.0 1612.2,1586.8 1613.0,1586.5 1613.8,1587.7 1614.6,1587.3 1615.4,1588.2 1616.2,1587.9 1617.0,1586.3 1617.8,1588.0 1618.6,1587.8 1619.4,1587.1 1620.2,1588.7 1621.0,1589.8 1621.8,1586.4 1622.6,1588.2 1623.4,1588.8 1624.2,1587.9 1625.0,1587.1 1625.8,1589.7 1626.6,1586.7 1627.4,1587.8 1628.2,1587.9 1629.0,1589.9 1629.8,1586.4 1630.6,1587.2 1631.4,1587.1 1632.2,1587.9 1633.0,1588.4 1633.8,1589.1 1634.6,1587.9 1635.4,1587.2 1636.2,1587.8 1637.0,1587.0 1637.9,1587.4 1638.7,1587.6 1639.5,1588.6 1640.3,1589.1 1641.1,1587.3 1641.9,1587.8 1642.7,1588.3 1643.5,1588.4 1644.3,1587.7 1645.1,1588.5 1645.9,1587.7 1646.7,1586.1 1647.5,1589.6 1648.3,1587.2 1649.1,1589.9 1649.9,1588.4 1650.7,1588.5 1651.5,1586.7 1652.3,1588.6 1653.1,1587.9 1653.9,1587.2 1654.7,1588.9 1655.5,1589.3 1656.3,1589.6 1657.1,1586.4 1657.9,1586.6 1658.7,1589.3 1659.5,1588.6 1660.3,1588.8 1661.1,1587.7 1661.9,1588.8 1662.7,1589.5 1663.5,1587.3 1664.3,1587.5 1665.1,1588.6 1665.9,1590.2 1666.7,1588.1 1667.5,1588.8 1668.3,1587.5 1669.1,1587.7 1669.9,1589.7 1670.7,1587.8 1671.5,1588.6 1672.3,1587.6 1673.1,1588.8 1673.9,1587.2 1674.7,1586.8 1675.5,1586.5 1676.3,1587.9 1677.1,1589.8 1677.9,1589.5 1678.7,1588.5 1679.5,1587.8 1680.3,1589.4 1681.1,1588.6 1681.9,1589.6 1682.7,1589.7 1683.5,1589.3 1684.3,1588.8 1685.1,1588.3 1685.9,1587.9 1686.7,1588.6 1687.5,1587.6 1688.3,1587.6 1689.1,1590.0 1689.9,1588.3 1690.7,1586.7 1691.5,1589.6 1692.3,1589.5 1693.1,1588.7 1693.9,1587.2 1694.7,1590.4 1695.5,1589.5 1696.3,1589.7 1697.1,1588.3 1697.9,1589.1 1698.7,1588.2 1699.5,1588.2 1700.3,1587.2 1701.1,1587.6 1701.9,1587.9 1702.7,1588.6 1703.5,1589.8 1704.3,1589.3 1705.1,1586.6 1705.9,1589.6 1706.7,1587.2 1707.5,1589.1 1708.3,1588.4 1709.1,1588.7 1709.9,1588.0 1710.7,1587.4 1711.5,1590.5 1712.3,1586.7 1713.1,1588.0 1713.9,1590.2 1714.7,1589.3 1715.5,1589.5 1716.3,1588.0 1717.1,1587.4 1717.9,1589.3 1718.7,1588.8 1719.5,1589.4 1720.3,1589.2 1721.1,1586.8 1721.9,1587.6 1722.7,1588.2 1723.5,1589.2 1724.3,1589.6 1725.1,1587.6 1725.9,1588.5 1726.7,1588.7 1727.5,1589.0 1728.3,1590.9 1729.1,1588.2 1729.9,1589.0 1730.7,1587.0 1731.5,1589.1 1732.3,1588.9 1733.1,1589.1 1733.9,1588.0 1734.7,1588.4 1735.5,1587.8 1736.3,1588.5 1737.1,1591.1 1737.9,1587.1 1738.7,1587.2 1739.5,1589.2 1740.3,1588.1 1741.1,1590.5 1741.9,1587.9 1742.7,1591.2 1743.5,1588.6 1744.3,1587.2 1745.1,1587.2 1745.9,1587.8 1746.7,1588.4 1747.5,1589.2 1748.3,1587.4 1749.1,1591.3 1749.9,1589.9 1750.7,1588.9 1751.5,1588.8 1752.3,1591.3 1753.1,1588.3 1753.9,1589.7 1754.7,1590.7 1755.5,1588.1 1756.3,1589.2 1757.1,1588.3 1757.9,1590.9 1758.7,1591.1 1759.5,1590.1 1760.3,1589.8 1761.1,1588.0 1761.9,1591.5 1762.7,1591.2 1763.5,1590.7 1764.3,1591.5 1765.1,1590.2 1765.9,1588.9 1766.7,1590.5 1767.5,1588.4 1768.3,1589.2 1769.1,1590.6 1769.9,1588.2 1770.7,1590.0 1771.5,1589.6 1772.3,1588.4 1773.1,1588.3 1774.0,1589.2 1774.8,1589.1 1775.6,1589.3 1776.4,1587.7 1777.2,1589.4 1778.0,1588.3 1778.8,1589.3 1779.6,1591.3 1780.4,1589.3 1781.2,1589.3 1782.0,1588.7 1782.8,1589.5 1783.6,1590.5 1784.4,1589.4 1785.2,1590.6 1786.0,1588.8 1786.8,1590.8 1787.6,1589.7 1788.4,1589.6 1789.2,1588.7 1790.0,1589.2 1790.8,1590.4 1791.6,1589.0 1792.4,1590.8 1793.2,1589.5 1794.0,1590.5 1794.8,1588.7 1795.6,1588.3 1796.4,1591.0 1797.2,1591.2 1798.0,1590.5 1798.8,1591.1 1799.6,1590.1 1800.4,1590.2 1801.2,1589.3 1802.0,1588.7 1802.8,1591.6 1803.6,1589.1 1804.4,1591.9 1805.2,1589.7 1806.0,1589.0 1806.8,1589.6 1807.6,1590.1 1808.4,1590.3 1809.2,1591.0 1810.0,1590.2 1810.8,1588.8 1811.6,1589.5 1812.4,1590.5 1813.2,1591.3 1814.0,1588.4 1814.8,1590.8 1815.6,1591.8 1816.4,1588.9 1817.2,1591.8 1818.0,1589.2 1818.8,1589.8 1819.6,1589.5 1820.4,1592.4 1821.2,1591.8 1822.0,1591.1 1822.8,1590.3 1823.6,1588.7 1824.4,1590.2 1825.2,1589.8 1826.0,1590.5 1826.8,1588.8 1827.6,1591.9 1828.4,1591.3 1829.2,1592.2 1830.0,1590.0 1830.8,1590.4 1831.6,1588.9 1832.4,1591.1 1833.2,1590.3 1834.0,1592.6 1834.8,1591.5 1835.6,1591.2 1836.4,1591.2 1837.2,1589.4 1838.0,1591.6 1838.8,1589.0 1839.6,1591.1 1840.4,1591.6 1841.2,1589.9 1842.0,1590.6 1842.8,1591.2 1843.6,1591.5 1844.4,1591.5 1845.2,1590.8 1846.0,1589.3 1846.8,1590.4 1847.6,1592.6 1848.4,1589.7 1849.2,1592.5 1850.0,1589.7 1850.8,1590.2 1851.6,1592.1 1852.4,1591.5 1853.2,1592.4 1854.0,1591.6 1854.8,1590.3 1855.6,1590.8 1856.4,1590.7 1857.2,1592.7 1858.0,1592.1 1858.8,1592.4 1859.6,1590.0 1860.4,1590.4 1861.2,1590.3 1862.0,1590.4 1862.8,1591.0 1863.6,1592.6 1864.4,1591.2 1865.2,1592.2 1866.0,1591.1 1866.8,1589.2 1867.6,1590.0 1868.4,1591.4 1869.2,1592.7 1870.0,1591.1 1870.8,1589.5 1871.6,1591.4 1872.4,1590.7 1873.2,1591.6 1874.0,1592.3 1874.8,1591.7 1875.6,1590.3 1876.4,1589.9 1877.2,1590.8 1878.0,1591.0 1878.8,1591.5 1879.6,1590.8 1880.4,1590.5 1881.2,1591.4 1882.0,1591.5 1882.8,1591.0 1883.6,1589.8 1884.4,1591.0 1885.2,1593.3 1886.0,1590.2 1886.8,1591.0 1887.6,1592.3 1888.4,1590.4 1889.2,1591.1 1890.0,1592.7 1890.8,1592.2 1891.6,1589.5 1892.4,1592.4 1893.2,1591.4 1894.0,1590.1 1894.8,1592.7 1895.6,1590.9 1896.4,1591.4 1897.2,1590.8 1898.0,1592.8 1898.8,1592.6 1899.6,1592.1 1900.4,1593.5 1901.2,1592.3 1902.0,1591.2 1902.8,1591.9 1903.6,1591.6 1904.4,1592.1 1905.2,1589.6 1906.0,1592.2 1906.8,1593.6 1907.6,1592.9 1908.4,1591.4 1909.2,1593.6 1910.0,1592.6 1910.8,1593.7 1911.6,1592.9 1912.5,1591.3 1913.3,1589.9 1914.1,1591.8 1914.9,1592.3 1915.7,1591.5 1916.5,1590.8 1917.3,1592.8 1918.1,1590.8 1918.9,1593.3 1919.7,1591.5 1920.5,1592.6 1921.3,1591.8 1922.1,1592.3 1922.9,1592.6 1923.7,1590.3 1924.5,1591.8 1925.3,1591.9 1926.1,1591.9 1926.9,1592.4 1927.7,1593.6 1928.5,1591.4 1929.3,1593.1 1930.1,1592.0 1930.9,1591.8 1931.7,1591.0 1932.5,1591.5 1933.3,1591.0 1934.1,1593.1 1934.9,1594.3 1935.7,1593.1 1936.5,1593.1 1937.3,1592.0 1938.1,1593.8 1938.9,1591.3 1939.7,1590.9 1940.5,1592.6 1941.3,1592.2 1942.1,1593.8 1942.9,1593.3 1943.7,1592.8 1944.5,1592.5 1945.3,1593.3 1946.1,1593.3 1946.9,1593.1 1947.7,1594.2 1948.5,1592.7 1949.3,1591.8 1950.1,1591.8 1950.9,1592.2 1951.7,1592.1 1952.5,1592.9 1953.3,1594.7 1954.1,1591.7 1954.9,1592.2 1955.7,1593.0 1956.5,1592.5 1957.3,1592.3 1958.1,1593.6 1958.9,1594.4 1959.7,1592.5 1960.5,1593.2 1961.3,1594.1 1962.1,1593.8 1962.9,1593.4 1963.7,1593.9 1964.5,1593.3 1965.3,1592.6 1966.1,1593.8 1966.9,1592.9 1967.7,1593.3 1968.5,1593.9 1969.3,1592.5 1970.1,1594.9 1970.9,1593.3 1971.7,1592.6 1972.5,1594.4 1973.3,1594.4 1974.1,1594.4 1974.9,1595.3 1975.7,1593.3 1976.5,1594.1 1977.3,1593.0 1978.1,1593.1 1978.9,1594.9 1979.7,1594.7 1980.5,1594.7 1981.3,1594.6 1982.1,1593.8 1982.9,1595.4 1983.7,1592.9 1984.5,1594.8 1985.3,1593.5 1986.1,1592.9 1986.9,1596.3 1987.7,1594.0 1988.5,1595.4 1989.3,1594.0 1990.1,1593.5 1990.9,1595.3 1991.7,1594.6 1992.5,1594.3 1993.3,1595.1 1994.1,1595.5 1994.9,1595.6 1995.7,1594.9 1996.5,1595.3 1997.3,1595.0 1998.1,1594.7 1998.9,1595.8 1999.7,1592.7 2000.5,1595.4 2001.3,1594.7 2002.1,1595.4 2002.9,1595.2 2003.7,1594.5 2004.5,1595.8 2005.3,1594.1 2006.1,1594.1 2006.9,1594.1 2007.7,1597.0 2008.5,1595.5 2009.3,1595.7 2010.1,1594.5 2010.9,1595.9 2011.7,1596.5 2012.5,1594.3 2013.3,1595.4 2014.1,1595.9 2014.9,1596.8 2015.7,1597.0 2016.5,1597.3 2017.3,1595.3 2018.1,1595.5 2018.9,1594.8 2019.7,1596.6 2020.5,1595.7 2021.3,1595.9 2022.1,1596.0 2022.9,1595.2 2023.7,1595.6 2024.5,1596.3 2025.3,1596.5 2026.1,1596.4 2026.9,1595.6 2027.7,1595.5 2028.5,1597.1 2029.3,1595.1 2030.1,1596.1 2030.9,1596.2 2031.7,1597.2 2032.5,1595.6 2033.3,1596.1 2034.1,1595.9 2034.9,1597.3 2035.7,1597.0 2036.5,1596.4 2037.3,1596.0 2038.1,1598.2 2038.9,1596.6 2039.7,1594.5 2040.5,1595.1 2041.3,1595.3 2042.1,1596.3 2042.9,1595.0 2043.7,1596.4 2044.5,1595.2 2045.3,1596.6 2046.1,1595.7 2046.9,1597.3 2047.7,1597.0 2048.5,1595.3 2049.3,1598.4 2050.1,1595.7 2050.9,1596.2 2051.7,1595.2 2052.5,1597.9 2053.3,1598.3 2054.1,1596.9 2054.9,1594.9 2055.7,1597.9 2056.5,1598.9 2057.3,1596.1 2058.1,1597.2 2058.9,1597.7 2059.7,1597.1 2060.5,1595.5 2061.3,1596.3 2062.1,1596.6 2062.9,1598.1 2063.7,1595.6 2064.5,1597.9 2065.3,1597.5 2066.1,1595.3 2066.9,1595.7 2067.7,1597.8 2068.5,1599.0 2069.3,1598.9 2070.1,1599.5 2070.9,1598.2 2071.7,1596.3 2072.5,1597.6 2073.3,1597.1 2074.1,1595.6 2074.9,1598.5 2075.7,1596.2 2076.5,1596.3 2077.3,1599.3 2078.1,1597.0 2078.9,1597.1 2079.7,1599.2 2080.5,1599.9 2081.3,1596.4 2082.1,1597.0 2082.9,1597.3 2083.7,1598.8 2084.5,1598.8 2085.3,1599.7 2086.1,1596.5 2086.9,1597.8 2087.7,1599.7 2088.5,1596.2 2089.3,1598.9 2090.1,1596.7 2090.9,1598.1 2091.7,1596.9 2092.5,1598.9 2093.3,1599.6 2094.1,1598.6 2094.9,1599.8 2095.7,1597.3 2096.5,1600.0 2097.3,1598.1 2098.1,1599.9 2098.9,1599.2 2099.7,1597.8 2100.5,1600.6 2101.3,1598.8 2102.1,1597.3 2102.9,1598.7 2103.7,1600.1 2104.5,1599.1 2105.3,1600.1 2106.1,1600.6 2106.9,1599.7 2107.7,1599.3 2108.5,1599.2 2109.3,1599.4 2110.1,1600.5 2110.9,1598.5 2111.7,1598.9 2112.5,1600.0 2113.3,1598.4 2114.1,1600.5 2114.9,1599.2 2115.7,1599.6 2116.5,1598.5 2117.3,1598.8 2118.1,1600.4 2118.9,1598.5 2119.7,1601.0 2120.5,1600.9 2121.3,1599.2 2122.1,1597.5 2122.9,1597.9 2123.7,1600.1 2124.5,1600.8 2125.3,1598.0 2126.1,1600.0 2126.9,1599.8 2127.7,1597.8 2128.5,1599.8 2129.3,1599.1 2130.1,1598.2 2130.9,1601.5 2131.7,1598.6 2132.5,1597.9 2133.3,1597.9 2134.1,1601.5 2134.9,1600.8 2135.7,1600.6 2136.5,1599.2 2137.3,1600.4 2138.1,1600.2 2138.9,1600.7 2139.7,1598.3 2140.5,1600.9 2141.3,1601.4 2142.1,1599.3 2142.9,1599.4 2143.7,1600.6 2144.5,1599.1 2145.3,1599.7 2146.1,1600.0 2146.9,1602.2 2147.7,1599.7 2148.5,1600.5 2149.3,1602.3 2150.1,1598.8 2150.9,1601.4 2151.7,1599.8 2152.5,1601.1 2153.3,1600.5 2154.1,1600.9 2154.9,1598.6 2155.7,1600.0 2156.5,1598.6 2157.3,1600.1 2158.1,1599.6 2158.9,1600.5 2159.7,1602.2 2160.5,1601.3 2161.3,1601.2 2162.1,1601.3 2162.9,1600.3 2163.7,1601.8 2164.5,1600.5 2165.3,1599.9 2166.1,1601.5 2166.9,1600.1 2167.7,1600.1 2168.5,1599.9 2169.3,1599.6 2170.1,1600.0 2170.9,1602.3 2171.7,1600.5 2172.5,1601.3 2173.3,1602.3 2174.1,1601.2 2174.9,1600.2 2175.7,1600.2 2176.5,1600.3 2177.3,1601.8 2178.1,1600.4 2178.9,1600.6 2179.7,1602.0 2180.5,1601.8 2181.3,1601.6 2182.1,1601.6 2182.9,1603.3 2183.7,1601.3 2184.5,1601.3 2185.3,1603.5 2186.1,1600.8 2186.9,1600.0 2187.7,1602.8 2188.5,1601.2 2189.3,1601.8 2190.1,1601.7 2190.9,1600.2 2191.7,1602.0 2192.5,1600.7 2193.3,1603.0 2194.1,1603.1 2194.9,1601.0 2195.7,1602.8 2196.2,1601.8"/>
<polyline class="curve" stroke="#ff0000" points="211.5,1432.0 212.0,1430.9 212.8,1430.5 213.6,1431.6 214.4,1432.7 215.2,1430.4 216.0,1430.7 216.8,1431.3 217.6,1433.3 218.4,1429.9 219.2,1431.7 220.0,1432.5 220.8,1430.3 221.6,1432.7 222.4,1432.0 223.2,1431.1 224.0,1432.0 224.8,1430.3 225.6,1431.2 226.4,1433.8 227.2,1431.4 228.1,1433.9 228.9,1431.8 229.7,1433.0 230.5,1432.4 231.3,1430.2 232.1,1431.7 232.9,1432.4 233.7,1431.1 234.5,1430.7 235.3,1432.6 236.1,1431.9 236.9,1430.9 237.7,1431.9 238.5,1433.2 239.3,1431.5 240.1,1433.3 240.9,1433.9 241.7,1432.2 242.5,1431.5 243.3,1431.5 244.1,1432.6 244.9,1433.4 245.7,1433.0 246.5,1433.7 247.3,1433.0 248.1,1433.7 248.9,1432.8 249.7,1433.0 250.5,1431.8 251.3,1431.4 252.1,1432.8 252.9,1432.3 253.7,1432.2 254.5,1433.9 255.3,1432.9 256.1,1435.5 256.9,1434.4 257.7,1432.9 258.5,1434.1 259.3,1433.7 260.1,1432.8 261.0,1434.7 261.8,1432.4 262.6,1431.8 263.4,1434.9 264.2,1433.4 265.0,1435.0 265.8,1433.0 266.6,1432.8 267.4,1435.8 268.2,1433.2 269.0,1434.3 269.8,1435.6 270.6,1434.4 271.4,1434.5 272.2,1434.6 273.0,1435.0 273.8,1433.3 274.6,1435.5 275.4,1435.7 276.2,1436.6 277.0,1434.7 277.8,1433.9 278.6,1435.3 279.4,1434.0 280.2,1435.0 281.0,1435.1 281.8,1435.9 282.6,1433.9 283.4,1434.8 284.2,1433.0 285.0,1434.2 285.8,1436.3 286.6,1433.9 287.4,1434.4 288.2,1434.4 289.0,1436.3 289.8,1435.7 290.6,1434.1 291.4,1436.2 292.2,1435.8 293.0,1436.4 293.9,1434.8 294.7,1437.4 295.5,1436.2 296.3,1435.8 297.1,1435.7 297.9,1436.4 298.7,1437.7 299.5,1435.9 300.3,1436.7 301.1,1436.2 301.9,1437.3 302.7,1436.7 303.5,1435.7 304.3,1434.3 305.1,1436.8 305.9,1436.8 306.7,1436.0 307.5,1436.7 308.3,1436.0 309.1,1436.6 309.9,1436.2 310.7,1438.4 311.5,1437.0 312.3,1436.6 313.1,1435.9 313.9,1437.3 314.7,1438.7 315.5,1437.3 316.3,1435.9 317.1,1438.5 317.9,1439.0 318.7,1438.5 319.5,1438.0 320.3,1438.4 321.1,1437.8 321.9,1437.9 322.7,1436.3 323.5,1439.4 324.3,1438.4 325.1,1439.6 325.9,1435.6 326.7,1437.9 327.5,1438.3 328.3,1437.5 329.1,1438.6 329.9,1438.8 330.7,1438.6 331.6,1437.5 332.4,1437.7 333.2,1438.7 334.0,1439.2 334.8,1438.2 335.6,1438.1 336.4,1438.2 337.2,1439.1 338.0,1437.2 338.8,1437.2 339.6,1438.6 340.4,1437.4 341.2,1438.3 342.0,1439.2 342.8,1439.5 343.6,1437.4 344.4,1439.5 345.2,1437.0 346.0,1439.6 346.8,1437.7 347.6,1438.2 348.4,1440.2 349.2,1439.1 350.0,1438.7 350.8,1438.9 351.6,1439.8 352.4,1439.4 353.2,1439.6 354.0,1441.2 354.8,1439.6 355.6,1439.7 356.4,1439.3 357.2,1440.8 358.0,1440.8 358.8,1441.2 359.6,1439.8 360.4,1439.7 361.2,1441.1 362.0,1439.9 362.8,1441.1 363.6,1440.9 364.4,1439.2 365.2,1439.7 366.0,1439.6 366.8,1441.7 367.6,1442.3 368.4,1440.6 369.2,1440.7 370.0,1438.4 370.9,1441.2 371.7,1440.8 372.5,1439.5 373.3,1441.1 374.1,1438.6 374.9,1440.2 375.7,1440.6 376.5,1439.3 377.3,1441.9 378.1,1442.2 378.9,1439.4 379.7,1439.2 380.5,1441.4 381.3,1440.8 382.1,1439.6 382.9,1440.7 383.7,1440.9 384.5,1440.7 385.3,1441.7 386.1,1441.1 386.9,1442.4 387.7,1442.2 388.5,1441.8 389.3,1442.7 390.1,1442.9 390.9,1441.8 391.7,1439.9 392.5,1442.2 393.3,1441.3 394.1,1443.1 394.9,1441.4 395.7,1441.6 396.5,1441.6 397.3,1443.3 398.2,1441.7 399.0,1441.2 399.8,1442.2 400.6,1441.4 401.4,1441.7 402.2,1441.5 403.0,1442.0 403.8,1443.9 404.6,1441.9 405.4,1442.2 406.2,1441.5 407.0,1442.4 407.8,1441.0 408.6,1442.0 409.4,1442.4 410.2,1442.9 411.0,1442.3 411.8,1442.1 412.6,1441.9 413.4,1443.1 414.2,1444.0 415.0,1443.0 415.8,1442.7 416.6,1443.0 417.4,1441.8 418.2,1442.4 419.0,1442.2 419.8,1442.6 420.6,1442.4 421.4,1441.6 422.2,1444.4 423.0,1444.8 423.8,1443.0 424.6,1443.6 425.5,1443.4 426.3,1444.0 427.1,1441.7 427.6,1444.8"/>
<polyline class="curve" stroke="#ff0000" points="421.2,1442.4 421.2,1443.8 421.2,1446.8 421.2,1448.0 421.2,1446.9 421.2,1448.3 421.2,1447.4 421.2,1450.4 421.2,1449.9 421.2,1451.3 421.2,1452.6 421.2,1452.3 421.2,1452.6 421.2,1454.1 421.2,1454.0 421.2,1455.0 421.2,1454.5 421.2,1456.2 421.2,1458.2 421.2,1459.7 421.2,1460.1 421.2,1459.6 421.2,1461.6 421.2,1461.3 421.4,1461.3 421.8,1463.7 422.5,1462.6 423.3,1462.6 424.1,1462.9 424.9,1463.8 425.7,1463.1 426.5,1462.7 427.3,1463.6 428.1,1463.4 428.9,1463.3 429.7,1461.2 430.5,1462.1 431.3,1462.8 432.1,1462.1 432.9,1465.2 433.7,1465.2 434.6,1464.9 435.4,1462.0 436.2,1463.5 437.0,1463.5 437.8,1463.6 438.6,1461.9 439.4,1464.8 440.2,1465.2 441.0,1464.2 441.8,1465.3 442.6,1462.9 443.4,1463.9 444.2,1464.8 445.0,1462.5 445.8,1463.3 446.6,1462.8 447.4,1464.5 448.2,1462.4 449.0,1464.1 449.8,1463.4 450.6,1464.8 451.4,1463.2 452.2,1463.4 453.0,1463.8 453.8,1462.7 454.6,1463.2 455.4,1463.1 456.2,1462.9 457.0,1464.2 457.8,1462.8 458.6,1463.6 459.4,1463.5 460.2,1463.2 461.0,1462.5 461.8,1461.5 462.6,1462.4 463.4,1463.4 464.2,1462.3 465.0,1464.6 465.8,1462.5 466.6,1463.6 467.4,1462.5 468.2,1464.9 469.0,1462.2 469.8,1463.9 470.6,1463.5 471.4,1465.5 472.2,1464.2 473.0,1463.8 473.8,1463.3 474.6,1465.2 475.4,1463.2 476.2,1462.5 477.0,1464.7 477.8,1463.7 478.6,1463.3 479.4,1464.2 480.2,1464.2 481.0,1462.0 481.8,1464.7 482.6,1465.6 483.4,1463.6 484.2,1462.4 485.0,1464.1 485.8,1463.6 486.6,1464.4 487.4,1464.5 488.2,1463.7 489.0,1465.5 489.8,1461.8 490.6,1463.2 491.4,1464.0 492.2,1464.2 493.0,1463.9 493.8,1464.3 494.6,1462.2 495.4,1461.7 496.2,1464.5 497.0,1465.4 497.8,1464.0 498.6,1462.9 499.4,1463.9 500.2,1465.3 501.0,1464.4 501.8,1465.5 502.6,1465.8 503.4,1465.7 504.2,1463.9 505.0,1465.2 505.8,1464.8 506.6,1464.5 507.4,1464.4 508.2,1464.0 509.0,1462.6 509.8,1463.7 510.6,1462.4 511.4,1463.7 512.2,1465.0 513.0,1464.9 513.8,1462.4 514.6,1463.8 515.4,1463.1 516.2,1464.4 517.0,1463.2 517.8,1464.8 518.6,1463.5 519.4,1464.7 520.2,1463.4 521.0,1463.6 521.8,1463.9 522.6,1464.7 523.4,1462.2 524.2,1464.2 525.0,1462.8 525.8,1464.5 526.6,1462.4 527.4,1463.8 528.2,1465.3 529.0,1465.5 529.8,1463.2 530.6,1466.3 531.4,1464.2 532.2,1464.9 533.0,1464.8 533.8,1463.7 534.6,1464.5 535.4,1465.0 536.2,1465.5 537.0,1464.4 537.8,1463.9 538.6,1463.8 539.4,1463.9 540.2,1464.7 541.0,1465.6 541.8,1465.4 542.6,1464.4 543.4,1464.9 544.2,1464.0 545.0,1464.8 545.8,1465.1 546.6,1464.4 547.4,1465.7 548.2,1465.2 549.0,1464.5 549.8,1465.8 550.6,1464.9 551.4,1464.9 552.2,1464.9 553.0,1465.8 553.8,1465.0 554.6,1465.0 555.4,1465.5 556.2,1465.4 557.0,1466.5 557.8,1464.4 558.6,1466.1 559.4,1463.3 560.2,1464.9 561.0,1463.5 561.8,1463.9 562.6,1465.2 563.4,1463.8 564.2,1464.5 565.0,1463.0 565.8,1466.1 566.6,1463.1 567.4,1463.9 568.2,1466.3 569.0,1463.7 569.8,1467.1 570.6,1466.4 571.4,1465.3 572.2,1465.0 573.0,1465.3 573.9,1465.8 574.7,1466.4 575.5,1466.8 576.3,1463.5 577.1,1467.0 577.9,1466.8 578.7,1464.5 579.5,1466.1 580.3,1465.9 581.1,1466.0 581.9,1465.2 582.7,1466.2 583.5,1466.6 584.3,1464.8 585.1,1464.9 585.9,1464.4 586.7,1466.4 587.5,1465.8 588.3,1465.1 589.1,1464.6 589.9,1464.4 590.7,1465.7 591.5,1466.1 592.3,1466.5 593.1,1464.6 593.9,1464.9 594.7,1465.0 595.5,1465.1 596.3,1464.2 597.1,1467.5 597.9,1466.5 598.7,1465.3 599.5,1463.7 600.3,1467.2 601.1,1466.9 601.9,1466.5 602.7,1467.1 603.5,1465.5 604.3,1466.7 605.1,1465.4 605.9,1466.4 606.7,1466.1 607.5,1465.1 608.3,1465.2 609.1,1467.2 609.9,1467.2 610.7,1466.0 611.5,1465.3 612.3,1465.4 613.1,1466.6 613.9,1465.4 614.7,1467.7 615.5,1465.5 616.3,1464.8 617.1,1465.8 617.9,1468.1 618.7,1465.7 619.5,1466.0 620.3,1465.1 621.1,1466.9 621.9,1467.1 622.7,1466.6 623.5,1466.1 624.3,1466.8 625.1,1467.4 625.9,1466.5 626.7,1466.8 627.5,1466.1 628.3,1466.2 629.1,1468.1 629.9,1465.5 630.7,1466.7 631.5,1467.6 632.3,1466.1 633.1,1467.6 633.9,1468.2 634.7,1466.3 635.5,1468.8 636.3,1466.4 637.1,1467.2 637.9,1465.3 638.7,1465.1 639.5,1466.5 640.3,1468.8 641.1,1469.2 641.9,1469.2 642.7,1468.5 643.5,1468.8 644.3,1468.4 645.1,1468.1 645.9,1467.0 646.7,1466.8 647.5,1467.6 648.3,1467.8 649.1,1466.6 649.9,1466.0 650.7,1466.6 651.5,1469.6 652.3,1466.6 653.1,1468.8 653.9,1468.5 654.7,1468.6 655.5,1467.0 656.3,1469.6 657.1,1468.0 657.9,1467.4 658.7,1467.1 659.5,1467.7 660.3,1469.9 661.1,1466.5 661.9,1467.2 662.7,1467.9 663.5,1468.6 664.3,1466.9 665.1,1466.9 665.9,1467.7 666.7,1468.9 667.5,1467.7 668.3,1467.6 669.1,1468.1 669.9,1468.2 670.7,1469.4 671.5,1467.6 672.3,1468.0 673.1,1467.5 673.9,1469.4 674.7,1469.5 675.5,1468.5 676.3,1470.2 677.1,1468.6 677.9,1470.1 678.7,1468.4 679.5,1468.7 680.3,1467.4 681.1,1467.6 681.9,1468.1 682.7,1466.7 683.5,1468.9 684.3,1469.9 685.1,1469.3 685.9,1468.6 686.7,1469.1 687.5,1468.2 688.3,1468.4 689.1,1469.8 689.9,1468.8 690.7,1469.8 691.5,1468.2 692.3,1469.3 693.1,1470.2 693.9,1469.4 694.7,1471.1 695.5,1470.8 696.3,1467.2 697.1,1471.2 697.9,1467.3 698.7,1471.3 699.5,1468.2 700.3,1467.4 701.1,1467.5 701.9,1469.7 702.7,1468.3 703.5,1468.2 704.3,1470.1 705.1,1468.2 705.9,1469.9 706.7,1470.8 707.5,1467.7 708.3,1468.3 709.1,1469.5 709.9,1469.3 710.7,1469.4 711.5,1467.8 712.3,1468.1 713.1,1470.1 713.9,1470.8 714.7,1471.5 715.5,1469.3 716.3,1468.9 717.1,1468.9 717.9,1469.1 718.7,1468.1 719.5,1471.8 720.3,1469.1 721.1,1468.5 721.9,1469.1 722.7,1471.1 723.5,1470.9 724.3,1469.8 725.1,1471.3 725.9,1470.3 726.7,1469.9 727.5,1470.3 728.3,1471.7 729.1,1471.5 729.9,1470.7 730.7,1471.7 731.5,1468.6 732.3,1471.1 733.1,1469.7 733.9,1469.9 734.7,1470.3 735.5,1472.8 736.3,1470.9 737.1,1470.7 737.9,1471.1 738.7,1468.9 739.5,1470.4 740.3,1471.3 741.1,1469.6 741.9,1471.5 742.7,1470.2 743.5,1469.4 744.3,1472.2 745.1,1471.5 745.9,1471.9 746.7,1471.7 747.5,1470.7 748.3,1472.5 749.1,1471.6 749.9,1471.5 750.7,1470.8 751.5,1470.2 752.3,1472.8 753.1,1471.9 753.9,1471.3 754.7,1470.5 755.5,1472.6 756.3,1470.4 757.1,1470.5 757.9,1473.5 758.7,1472.2 759.5,1472.4 760.3,1472.0 761.1,1473.6 761.9,1471.9 762.7,1471.8 763.5,1470.3 764.3,1471.4 765.1,1470.0 765.9,1471.4 766.7,1471.8 767.5,1472.7 768.3,1473.5 769.1,1471.5 769.9,1471.2 770.7,1472.3 771.5,1471.6 772.3,1474.1 773.1,1473.7 773.9,1471.1 774.7,1472.4 775.5,1473.4 776.3,1471.1 777.1,1471.5 777.9,1472.3 778.7,1473.9 779.5,1472.9 780.3,1472.4 781.1,1473.0 781.9,1472.4 782.7,1472.5 783.5,1473.2 784.3,1472.7 785.1,1472.3 785.9,1471.5 786.7,1471.7 787.5,1472.1 788.3,1470.9 789.1,1471.7 789.9,1474.1 790.7,1472.1 791.5,1472.5 792.3,1473.0 793.1,1471.6 793.9,1471.7 794.7,1472.5 795.5,1470.7 796.3,1472.6 797.1,1472.7 797.9,1472.3 798.7,1472.4 799.5,1473.1 800.3,1472.1 801.1,1470.2 801.9,1472.4 802.7,1471.0 803.5,1471.7 804.3,1472.0 805.1,1472.1 805.9,1470.8 806.7,1470.4 807.5,1472.2 808.3,1472.4 809.1,1472.7 809.9,1470.7 810.7,1471.6 811.5,1472.8 812.3,1471.7 813.1,1471.8 813.9,1474.1 814.7,1471.4 815.5,1471.9 816.3,1471.2 817.1,1471.9 817.9,1474.1 818.7,1470.9 819.5,1471.7 820.3,1471.4 821.1,1471.3 821.9,1473.2 822.7,1471.7 823.5,1473.2 824.3,1473.7 825.1,1471.4 825.9,1473.2 826.7,1470.6 827.5,1472.6 828.3,1473.5 829.1,1471.2 829.9,1471.9 830.7,1472.5 831.5,1472.8 832.3,1472.3 833.1,1473.9 833.9,1471.7 834.7,1473.2 835.5,1474.1 836.3,1471.5 837.1,1471.4 837.9,1471.0 838.7,1472.9 839.5,1473.7 840.3,1470.5 841.1,1471.1 841.9,1471.4 842.7,1474.0 843.5,1471.6 844.3,1472.3 845.1,1470.8 845.9,1472.8 846.7,1470.7 847.5,1472.1 848.3,1470.8 849.2,1471.2 850.0,1471.5 850.8,1472.7 851.6,1472.8 852.4,1473.8 853.2,1470.7 854.0,1473.1 854.8,1472.5 855.6,1471.8 856.4,1472.0 857.2,1471.9 858.0,1472.7 858.8,1472.7 859.6,1472.5 860.4,1472.4 861.2,1470.5 862.0,1472.9 862.8,1472.7 863.6,1471.8 864.4,1472.1 865.2,1471.1 866.0,1471.7 866.8,1471.8 867.6,1469.8 868.4,1471.3 869.2,1471.6 870.0,1473.3 870.8,1471.4 871.6,1470.0 872.4,1471.9 873.2,1472.5 874.0,1470.7 874.8,1470.4 875.6,1471.3 876.4,1473.0 877.2,1470.9 878.0,1470.8 878.8,1471.5 879.4,1470.7 879.9,1470.3 880.4,1472.7 881.1,1472.6 881.9,1473.1 882.7,1472.3 883.5,1472.8 884.3,1471.0 885.1,1472.1 885.9,1471.0 886.7,1472.4 887.5,1471.4 888.3,1473.4 889.1,1470.8 889.9,1469.7 890.7,1471.8 891.5,1471.0 892.3,1470.4 893.1,1471.6 893.9,1472.9 894.7,1470.9 895.5,1470.8 896.3,1473.2 897.1,1472.8 897.9,1471.5 898.7,1470.8 899.5,1472.3 900.3,1470.6 901.1,1470.6 901.9,1470.6 902.7,1472.1 903.5,1472.6 904.3,1470.8 905.1,1472.4 905.9,1468.9 906.7,1470.5 907.5,1469.2 908.3,1472.1 909.1,1472.2 909.9,1468.8 910.7,1469.5 911.5,1470.3 912.3,1468.9 913.1,1469.6 913.9,1469.2 914.7,1470.1 915.5,1469.2 916.3,1469.0 917.1,1469.4 917.9,1469.8 918.7,1470.0 919.5,1470.0 920.3,1471.7 921.1,1470.1 921.9,1470.1 922.7,1470.2 923.5,1469.2 924.3,1471.5 925.1,1471.2 925.9,1471.2 926.7,1469.3 927.5,1469.7 928.3,1470.4 929.1,1471.1 929.9,1469.1 930.6,1469.2 931.4,1468.4 932.2,1468.3 933.0,1471.0 933.8,1469.3 934.6,1469.4 935.4,1469.7 936.2,1468.6 937.0,1469.0 937.8,1467.8 938.6,1468.3 939.4,1469.4 940.2,1469.9 941.0,1469.3 941.8,1467.9 942.6,1467.9 943.4,1469.0 944.2,1468.9 945.0,1469.5 945.8,1469.3 946.6,1470.2 947.4,1468.9 948.2,1469.8 949.0,1468.7 949.8,1468.2 950.6,1466.9 951.4,1468.2 952.2,1468.8 953.0,1468.1 953.8,1466.9 954.6,1466.0 955.4,1467.7 956.2,1469.4 957.0,1466.2 957.8,1467.0 958.6,1467.4 959.4,1468.1 960.2,1465.8 961.0,1466.4 961.8,1466.8 962.6,1465.5 963.4,1467.2 964.2,1466.0 964.9,1467.4 965.7,1468.0 966.5,1467.5 967.3,1465.8 968.1,1467.5 968.9,1467.3 969.7,1466.4 970.5,1467.2 971.3,1466.3 972.1,1465.6 972.9,1465.6 973.7,1466.3 974.5,1467.1 975.3,1465.6 976.1,1466.2 976.9,1465.5 977.7,1464.6 978.5,1463.6 979.3,1463.6 980.1,1466.3 980.9,1463.9 981.7,1463.6 982.5,1463.9 983.3,1465.0 984.1,1466.7 984.9,1465.4 985.7,1464.3 986.5,1464.7 987.3,1465.5 988.1,1464.9 988.9,1462.7 989.7,1465.4 990.5,1465.2 991.3,1463.0 992.1,1463.8 992.9,1464.8 993.6,1464.5 994.4,1463.9 995.2,1464.5 996.0,1465.9 996.8,1463.2 997.6,1464.4 998.4,1463.9 999.2,1461.9 1000.0,1463.3 1000.8,1463.5 1001.6,1464.7 1002.4,1465.2 1003.2,1464.4 1004.0,1463.4 1004.8,1463.6 1005.6,1463.8 1006.4,1462.0 1007.2,1461.9 1008.0,1463.5 1008.8,1461.5 1009.6,1462.6 1010.4,1464.5 1011.2,1463.3 1012.0,1463.0 1012.8,1461.9 1013.6,1463.2 1014.4,1461.1 1015.2,1461.0 1016.0,1461.6 1016.8,1461.3 1017.6,1463.3 1018.3,1461.6 1019.1,1460.8 1019.9,1462.8 1020.7,1462.2 1021.5,1462.3 1022.3,1460.2 1023.1,1460.9 1023.9,1459.1 1024.7,1461.4 1025.5,1461.3 1026.3,1461.0 1027.1,1462.5 1027.9,1459.7 1028.7,1459.5 1029.5,1459.1 1030.3,1459.2 1031.1,1460.4 1031.9,1460.2 1032.7,1459.6 1033.5,1458.5 1034.3,1458.3 1035.1,1459.3 1035.9,1460.0 1036.7,1459.1 1037.5,1459.6 1038.3,1459.7 1039.1,1458.9 1039.9,1458.4 1040.7,1459.6 1041.5,1461.0 1042.3,1459.9 1043.1,1459.6 1043.9,1459.0 1044.7,1458.7 1045.5,1460.5 1046.3,1458.3 1047.1,1461.1 1047.9,1459.4 1048.7,1459.7 1049.5,1459.1 1050.3,1460.4 1051.1,1460.4 1051.9,1459.1 1052.7,1461.2 1053.5,1459.1 1054.3,1457.2 1055.1,1459.3 1055.9,1459.4 1056.7,1459.5 1057.5,1460.4 1058.3,1460.7 1059.1,1458.1 1059.9,1458.8 1060.7,1458.7 1061.5,1458.9 1062.3,1457.3 1063.1,1459.1 1063.9,1458.7 1064.7,1460.6 1065.5,1457.9 1066.3,1458.3 1067.1,1458.9 1067.9,1458.2 1068.7,1459.2 1069.5,1459.4 1070.3,1457.3 1071.1,1458.5 1071.9,1458.7 1072.7,1457.1 1073.5,1460.1 1074.3,1459.1 1075.1,1459.2 1075.9,1457.3 1076.7,1457.3 1077.5,1455.9 1078.3,1458.7 1079.1,1457.3 1079.9,1457.8 1080.7,1458.2 1081.5,1458.0 1082.3,1457.1 1083.1,1458.4 1083.9,1456.6 1084.7,1455.6 1085.4,1455.9 1086.2,1457.8 1087.0,1458.1 1087.8,1456.0 1088.6,1456.2 1089.4,1457.2 1090.2,1455.4 1091.0,1456.3 1091.8,1455.3 1092.6,1456.6 1093.4,1454.5 1094.2,1454.6 1095.0,1454.3 1095.8,1456.0 1096.6,1456.6 1097.4,1455.7 1098.2,1457.6 1099.0,1455.4 1099.8,1454.5 1100.6,1455.3 1101.4,1456.5 1102.2,1456.2 1103.0,1457.5 1103.8,1455.3 1104.6,1454.1 1105.4,1453.9 1106.2,1455.8 1107.0,1453.2 1107.8,1455.4 1108.6,1456.0 1109.3,1454.5 1110.1,1454.9 1110.9,1455.8 1111.7,1455.6 1112.5,1455.3 1113.3,1454.9 1114.1,1453.7 1114.9,1452.5 1115.7,1452.1 1116.5,1455.4 1117.2,1454.2 1118.0,1451.8 1118.8,1454.4 1119.6,1452.6 1120.3,1452.5 1121.1,1452.0 1121.9,1454.4 1122.6,1450.7 1123.4,1450.6 1124.2,1452.1 1125.0,1451.8 1125.7,1451.6 1126.5,1450.1 1127.3,1450.6 1128.1,1449.8 1128.8,1450.3 1129.6,1452.3 1130.4,1450.6 1131.1,1451.2 1131.9,1449.0 1132.7,1448.6 1133.5,1449.3 1134.2,1450.1 1135.0,1448.8 1135.8,1450.6 1136.6,1450.4 1137.3,1446.3 1138.1,1447.8 1138.9,1448.6 1139.7,1447.4 1140.4,1448.7 1141.2,1446.9 1142.0,1447.3 1142.7,1445.3 1143.5,1447.7 1144.3,1446.0 1145.1,1446.7 1145.8,1445.4 1146.6,1444.9 1147.4,1445.8 1148.2,1444.3 1148.9,1444.8 1149.7,1446.2 1150.5,1446.1 1151.2,1443.6 1152.0,1445.1 1152.8,1443.7 1153.6,1442.9 1154.3,1443.9 1155.1,1443.8 1155.9,1442.2 1156.7,1443.9 1157.4,1442.7 1158.2,1444.5 1159.0,1440.8 1159.7,1442.2 1160.5,1441.9 1161.3,1441.0 1162.1,1440.2 1162.8,1442.4 1163.6,1441.2 1164.4,1439.4 1165.2,1440.5 1165.9,1440.8 1166.7,1441.2 1167.5,1439.0 1168.3,1441.1 1169.0,1439.0 1169.8,1440.3 1170.6,1439.9 1171.3,1438.8 1172.1,1438.2 1172.9,1439.1 1173.7,1439.2 1174.4,1439.0 1175.2,1439.0 1176.0,1439.1 1176.8,1436.2 1177.5,1435.4 1178.3,1435.8 1179.1,1438.1 1179.8,1436.6 1180.6,1436.2 1181.4,1437.3 1182.2,1437.4 1183.0,1435.1 1183.7,1434.6 1184.5,1435.5 1185.3,1435.9 1186.1,1435.2 1186.9,1437.2 1187.7,1436.2 1188.5,1434.4 1189.2,1435.3 1190.0,1432.9 1190.8,1435.0 1191.6,1433.9 1192.4,1433.5 1193.2,1432.9 1194.0,1434.7 1194.7,1433.4 1195.5,1432.6 1196.3,1434.1 1197.1,1432.8 1197.9,1433.1 1198.7,1431.9 1199.4,1432.7 1200.2,1430.9 1201.0,1431.9 1201.8,1432.6 1202.6,1431.5 1203.4,1431.6 1204.2,1432.9 1204.9,1431.6 1205.7,1433.2 1206.5,1432.1 1207.3,1431.0 1208.1,1429.1 1208.9,1432.1 1209.7,1432.0 1210.4,1430.8 1211.2,1430.8 1212.0,1430.6 1212.8,1429.8 1213.6,1429.6 1214.4,1429.9 1215.1,1427.5 1215.9,1428.4 1216.7,1428.9 1217.4,1427.0 1218.2,1428.2 1218.9,1426.6 1219.7,1426.2 1220.4,1428.0 1221.2,1425.8 1221.9,1429.2 1222.7,1426.5 1223.5,1425.1 1224.2,1425.2 1225.0,1425.5 1225.7,1425.8 1226.5,1425.8 1227.2,1425.7 1228.0,1426.2 1228.8,1426.2 1229.5,1425.0 1230.3,1425.2 1231.0,1423.7 1231.8,1423.2 1232.5,1422.6 1233.3,1424.0 1234.0,1421.9 1234.8,1422.8 1235.6,1422.7 1236.3,1423.5 1237.1,1421.6 1237.8,1421.3 1238.6,1422.4 1239.3,1421.2 1240.1,1420.5 1240.8,1422.2 1241.6,1420.6 1242.4,1419.4 1243.1,1420.7 1243.9,1421.6 1244.7,1419.1 1245.4,1418.1 1246.2,1417.0 1247.0,1420.8 1247.8,1417.9 1248.5,1417.9 1249.3,1417.4 1250.1,1418.1 1250.8,1417.0 1251.6,1419.4 1252.4,1418.3 1253.1,1416.3 1253.9,1415.0 1254.7,1417.0 1255.4,1415.5 1256.2,1417.5 1257.0,1416.4 1257.8,1416.0 1258.5,1414.5 1259.3,1415.9 1260.1,1414.1 1260.8,1416.2 1261.6,1412.6 1262.4,1414.0 1263.1,1416.1 1263.9,1413.6 1264.7,1414.3 1265.5,1414.1 1266.3,1413.6 1267.1,1413.3 1267.9,1414.5 1268.7,1414.4 1269.5,1412.4 1270.3,1414.5 1271.1,1414.8 1271.9,1412.7 1272.7,1413.6 1273.5,1413.4 1274.3,1413.3 1275.1,1412.1 1275.9,1411.1 1276.7,1412.7 1277.5,1411.0 1278.3,1412.2 1279.1,1411.5 1279.9,1412.8 1280.7,1413.2 1281.5,1411.7 1282.3,1414.1 1283.1,1414.1 1283.8,1413.6 1284.6,1414.0 1285.4,1415.1 1286.2,1414.4 1287.0,1411.8 1287.8,1413.8 1288.6,1413.5 1289.4,1414.5 1290.2,1412.5 1291.0,1414.1 1291.8,1414.0 1292.6,1415.1 1293.4,1413.5 1294.2,1414.4 1294.9,1413.0 1295.7,1415.0 1296.5,1415.1 1297.3,1413.8 1298.1,1415.4 1298.9,1414.1 1299.7,1415.7 1300.4,1414.5 1301.2,1415.5 1302.0,1418.1 1302.7,1417.4 1303.5,1418.6 1304.3,1418.8 1305.0,1417.8 1305.8,1419.3 1306.6,1418.0 1307.3,1417.6 1308.1,1417.4 1308.9,1417.0 1309.6,1418.8 1310.4,1417.7 1311.2,1418.7 1311.9,1419.0 1312.7,1420.1 1313.5,1419.0 1314.2,1420.0 1315.0,1421.0 1315.8,1421.7 1316.5,1420.9 1317.2,1420.4 1317.9,1423.2 1318.6,1423.0 1319.3,1421.1 1320.0,1423.7 1320.7,1423.5 1321.4,1422.3 1322.1,1423.8 1322.8,1423.1 1323.5,1424.7 1324.2,1425.3 1324.8,1425.8 1325.5,1427.1 1326.2,1425.0 1326.9,1424.6 1327.6,1428.1 1328.3,1427.1 1329.0,1428.8 1329.7,1429.3 1330.4,1430.5 1331.1,1427.3 1331.8,1431.3 1332.6,1430.3 1333.3,1429.7 1334.1,1431.6 1334.8,1431.8 1335.6,1429.7 1336.4,1430.7 1337.1,1432.8 1337.9,1429.8 1338.7,1432.0 1339.4,1432.1 1340.2,1431.6 1341.0,1432.0 1341.7,1433.9 1342.5,1432.6 1343.2,1431.8 1344.0,1433.8 1344.8,1432.0 1345.5,1433.5 1346.3,1434.7 1347.1,1432.9 1347.8,1435.7 1348.6,1434.5 1349.4,1434.3 1350.1,1433.8 1350.9,1435.8 1351.6,1435.8 1352.4,1436.7 1353.2,1435.5 1353.9,1436.4 1354.7,1435.1 1355.5,1435.4 1356.2,1436.9 1357.0,1436.1 1357.8,1437.6 1358.6,1437.9 1359.4,1436.0 1360.2,1437.2 1361.0,1436.7 1361.7,1437.1 1362.5,1439.6 1363.3,1438.3 1364.1,1438.8 1364.9,1438.3 1365.7,1438.1 1366.5,1438.4 1367.3,1439.0 1368.0,1438.8 1368.8,1440.3 1369.6,1439.3 1370.4,1439.4 1371.2,1441.4 1372.0,1440.1 1372.8,1440.9 1373.6,1441.1 1374.3,1440.3 1375.1,1442.2 1375.9,1441.1 1376.7,1440.9 1377.5,1441.0 1378.3,1441.8 1379.1,1442.8 1379.8,1439.8 1380.6,1443.4 1381.4,1440.2 1382.2,1441.0 1383.0,1442.7 1383.8,1442.1 1384.5,1443.5 1385.3,1441.4 1386.1,1442.8 1386.9,1443.8 1387.7,1442.6 1388.4,1443.0 1389.2,1444.0 1390.0,1444.9 1390.8,1442.4 1391.5,1444.4 1392.3,1444.4 1393.1,1445.6 1393.9,1443.3 1394.6,1444.8 1395.4,1443.8 1396.2,1444.6 1397.0,1445.7 1397.8,1447.8 1398.5,1446.6 1399.3,1447.0 1400.1,1446.1 1400.9,1447.7 1401.6,1447.1 1402.4,1447.7 1403.2,1445.4 1404.0,1446.5 1404.7,1448.7 1405.5,1449.7 1406.3,1449.9 1407.1,1447.0 1407.8,1447.7 1408.6,1448.3 1409.4,1450.7 1410.2,1448.6 1411.0,1449.1 1411.7,1450.3 1412.5,1450.8 1413.3,1449.2 1414.1,1451.8 1414.8,1448.3 1415.6,1450.8 1416.4,1449.9 1417.2,1448.7 1418.0,1450.1 1418.8,1450.4 1419.6,1450.0 1420.4,1450.5 1421.2,1450.5 1422.0,1451.2 1422.8,1449.2 1423.6,1450.4 1424.3,1451.2 1425.1,1452.6 1425.9,1452.7 1426.7,1449.6 1427.5,1450.7 1428.3,1451.8 1429.1,1452.6 1429.9,1453.7 1430.7,1451.7 1431.5,1451.0 1432.3,1452.3 1433.1,1452.5 1433.9,1452.1 1434.7,1452.1 1435.5,1453.5 1436.3,1451.4 1437.1,1452.4 1437.9,1453.0 1438.7,1452.7 1439.5,1453.2 1440.2,1452.7 1441.0,1451.4 1441.8,1452.8 1442.6,1454.7 1443.4,1454.8 1444.2,1455.3 1445.0,1454.4 1445.8,1455.5 1446.6,1454.0 1447.4,1454.7 1448.2,1456.2 1449.0,1453.7 1449.8,1454.0 1450.6,1455.9 1451.4,1455.4 1452.2,1452.8 1453.0,1456.1 1453.8,1453.9 1454.6,1453.9 1455.4,1455.7 1456.2,1455.5 1457.0,1455.9 1457.8,1456.7 1458.6,1456.1 1459.4,1453.2 1460.2,1455.7 1461.0,1456.0 1461.8,1455.4 1462.6,1455.2 1463.4,1455.7 1464.2,1455.8 1465.0,1455.3 1465.8,1455.0 1466.5,1454.2 1467.3,1455.7 1468.1,1455.1 1468.9,1456.9 1469.7,1455.4 1470.5,1455.5 1471.3,1454.8 1472.1,1455.9 1472.9,1456.6 1473.7,1454.9 1474.5,1457.8 1475.3,1457.0 1476.1,1456.6 1476.9,1457.4 1477.7,1456.9 1478.5,1454.7 1479.3,1457.6 1480.1,1457.1 1480.9,1456.6 1481.7,1455.0 1482.5,1455.0 1483.3,1455.1 1484.1,1458.0 1484.9,1458.2 1485.7,1457.2 1486.5,1456.8 1487.3,1455.3 1488.1,1456.9 1488.9,1455.9 1489.7,1457.0 1490.5,1456.4 1491.3,1458.1 1492.1,1457.1 1492.9,1458.2 1493.7,1457.5 1494.5,1456.5 1495.3,1455.9 1496.1,1456.4 1496.9,1456.5 1497.7,1457.4 1498.5,1459.8 1499.3,1458.6 1500.1,1458.4 1500.9,1459.2 1501.7,1456.8 1502.5,1458.4 1503.3,1458.5 1504.1,1456.1 1504.9,1458.6 1505.7,1457.9 1506.5,1458.4 1507.3,1458.0 1508.1,1458.3 1508.9,1457.2 1509.7,1459.0 1510.5,1459.5 1511.3,1457.5 1512.1,1459.0 1512.9,1458.6 1513.7,1460.0 1514.5,1458.0 1515.3,1459.2 1516.0,1458.7 1516.6,1456.8 1517.2,1459.1 1517.8,1458.3 1518.6,1456.7 1519.4,1458.5 1520.2,1458.7 1521.0,1456.2 1521.8,1457.5 1522.6,1457.2 1523.4,1457.3 1524.2,1457.6 1525.0,1457.4 1525.8,1455.9 1526.6,1457.7 1527.4,1456.4 1528.2,1457.6 1529.0,1458.8 1529.8,1459.7 1530.6,1459.0 1531.4,1456.8 1532.2,1457.2 1533.0,1459.1 1533.8,1458.5 1534.6,1459.0 1535.4,1457.6 1536.2,1459.1 1537.0,1458.8 1537.8,1459.4 1538.6,1459.7 1539.4,1457.4 1540.2,1459.1 1541.0,1457.2 1541.8,1457.6 1542.6,1458.8 1543.4,1457.8 1544.2,1458.5 1545.0,1459.4 1545.8,1459.4 1546.5,1458.2 1547.3,1456.4 1548.1,1457.6 1548.9,1456.4 1549.7,1456.2 1550.5,1456.8 1551.3,1456.2 1552.1,1456.5 1552.8,1456.3 1553.6,1455.9 1554.4,1453.8 1555.2,1455.4 1556.0,1455.3 1556.8,1456.8 1557.6,1455.8 1558.4,1455.0 1559.1,1454.1 1559.9,1455.2 1560.7,1453.0 1561.5,1455.4 1562.3,1453.7 1563.1,1452.9 1563.9,1454.6 1564.7,1453.5 1565.5,1453.3 1566.2,1452.3 1567.0,1455.1 1567.8,1451.3 1568.6,1453.6 1569.4,1453.4 1570.2,1453.7 1571.0,1452.4 1571.8,1452.1 1572.5,1454.5 1573.3,1453.0 1574.1,1453.4 1574.9,1450.7 1575.7,1453.0 1576.5,1453.5 1577.3,1452.7 1578.1,1449.6 1578.8,1450.1 1579.6,1449.2 1580.4,1451.4 1581.2,1452.2 1582.0,1451.5 1582.8,1450.7 1583.6,1449.8 1584.4,1451.1 1585.1,1448.9 1585.9,1451.9 1586.7,1450.6 1587.5,1451.3 1588.3,1449.5 1589.1,1449.0 1589.9,1449.9 1590.6,1448.2 1591.4,1448.7 1592.2,1449.0 1593.0,1448.0 1593.8,1449.1 1594.6,1447.1 1595.4,1446.3 1596.2,1447.4 1596.9,1447.5 1597.7,1447.2 1598.5,1447.4 1599.3,1447.3 1600.1,1447.6 1600.9,1447.6 1601.7,1447.5 1602.5,1445.7 1603.2,1447.4 1604.0,1447.6 1604.8,1446.3 1605.6,1445.9 1606.4,1447.3 1607.2,1445.3 1608.0,1445.8 1608.8,1445.9 1609.5,1446.6 1610.3,1447.5 1611.1,1445.1 1611.9,1443.2 1612.7,1444.6 1613.5,1443.6 1614.3,1445.2 1615.0,1445.0 1615.8,1445.4 1616.6,1444.2 1617.4,1445.1 1618.2,1443.4 1619.0,1444.7 1619.8,1442.8 1620.6,1442.6 1621.3,1443.2 1622.1,1444.1 1622.9,1442.5 1623.7,1443.1 1624.5,1443.4 1625.3,1443.5 1626.1,1441.5 1626.9,1444.4 1627.6,1441.9 1628.4,1442.7 1629.2,1443.9 1630.0,1441.5 1630.8,1439.8 1631.6,1442.9 1632.4,1440.0 1633.1,1441.6 1633.9,1440.4 1634.7,1442.9 1635.5,1441.4 1636.3,1442.7 1637.1,1441.4 1637.9,1440.1 1638.7,1441.2 1639.5,1439.0 1640.3,1439.4 1641.1,1440.6 1641.9,1440.4 1642.6,1438.8 1643.4,1439.9 1644.2,1439.6 1645.0,1437.9 1645.8,1440.1 1646.6,1437.5 1647.4,1439.0 1648.2,1438.8 1649.0,1438.9 1649.8,1436.7 1650.6,1439.3 1651.4,1438.1 1652.2,1440.3 1652.9,1436.9 1653.7,1439.0 1654.5,1438.6 1655.3,1437.3 1656.1,1438.0 1656.9,1438.2 1657.7,1436.2 1658.5,1435.4 1659.3,1436.9 1660.1,1438.3 1660.9,1437.8 1661.7,1437.0 1662.5,1436.1 1663.2,1436.5 1664.0,1437.9 1664.8,1437.2 1665.6,1438.2 1666.4,1436.9 1667.2,1436.0 1668.0,1435.2 1668.8,1435.9 1669.6,1437.8 1670.4,1435.5 1671.2,1435.6 1672.0,1436.2 1672.8,1436.3 1673.5,1436.9 1674.3,1434.9 1675.1,1437.0 1675.9,1435.1 1676.7,1435.1 1677.5,1434.9 1678.3,1435.9 1679.1,1435.0 1679.9,1434.2 1680.7,1433.3 1681.5,1433.1 1682.3,1434.7 1683.1,1434.5 1683.8,1434.0 1684.6,1434.3 1685.4,1432.9 1686.2,1433.8 1687.0,1435.1 1687.8,1434.3 1688.6,1433.4 1689.3,1432.9 1690.1,1433.4 1690.9,1431.6 1691.7,1431.9 1692.5,1431.4 1693.3,1430.3 1694.1,1433.3 1694.8,1432.3 1695.6,1430.3 1696.4,1433.2 1697.2,1430.7 1698.0,1431.7 1698.8,1430.0 1699.6,1432.2 1700.3,1431.3 1701.1,1431.6 1701.9,1431.6 1702.7,1432.0 1703.5,1427.8 1704.3,1429.1 1705.0,1429.8 1705.8,1430.0 1706.6,1429.1 1707.4,1429.0 1708.2,1429.8 1709.0,1429.8 1709.8,1428.3 1710.5,1430.2 1711.3,1428.5 1712.1,1428.2 1712.9,1429.9 1713.7,1429.3 1714.5,1425.6 1715.3,1428.2 1716.0,1428.5 1716.8,1428.0 1717.6,1426.5 1718.4,1428.3 1719.2,1426.4 1720.0,1427.3 1720.7,1426.1 1721.5,1426.0 1722.3,1424.4 1723.1,1427.3 1723.9,1425.0 1724.7,1425.2 1725.5,1424.7 1726.2,1426.7 1727.0,1427.1 1727.8,1425.4 1728.6,1425.2 1729.4,1425.4 1730.2,1423.9 1731.0,1423.5 1731.7,1423.8 1732.5,1424.5 1733.3,1423.6 1734.1,1423.6 1734.9,1423.6 1735.7,1424.4 1736.5,1423.9 1737.3,1422.9 1738.1,1423.5 1738.9,1422.1 1739.6,1424.2 1740.4,1423.3 1741.2,1422.9 1742.0,1420.9 1742.8,1422.4 1743.6,1422.8 1744.4,1422.2 1745.2,1423.0 1746.0,1420.5 1746.8,1422.8 1747.6,1423.4 1748.4,1421.5 1749.2,1421.4 1750.0,1420.3 1750.8,1421.6 1751.5,1420.8 1752.3,1421.3 1753.1,1420.7 1753.9,1421.6 1754.7,1421.1 1755.5,1421.1 1756.3,1420.5 1757.1,1420.8 1757.9,1419.6 1758.7,1419.2 1759.5,1419.8 1760.3,1419.9 1761.1,1418.7 1761.9,1421.5 1762.7,1421.4 1763.5,1418.0 1764.2,1418.9 1765.0,1418.6 1765.8,1421.1 1766.6,1418.8 1767.4,1419.6 1768.2,1417.7 1769.0,1418.2 1769.8,1419.4 1770.6,1420.8 1771.4,1418.8 1772.2,1419.8 1773.0,1420.2 1773.8,1420.1 1774.6,1419.9 1775.4,1417.5 1776.2,1419.0 1776.9,1418.1 1777.7,1416.0 1778.5,1418.4 1779.3,1417.2 1780.1,1416.1 1780.9,1417.7 1781.7,1416.5 1782.5,1417.1 1783.3,1416.7 1784.1,1418.4 1784.9,1416.3 1785.7,1418.8 1786.5,1417.9 1787.3,1418.8 1788.1,1417.5 1788.9,1417.0 1789.7,1416.9 1790.5,1417.6 1791.3,1417.3 1792.1,1418.1 1792.9,1416.1 1793.7,1418.2 1794.5,1418.4 1795.3,1417.5 1796.1,1417.5 1796.9,1417.3 1797.7,1416.2 1798.5,1415.6 1799.3,1416.6 1800.1,1416.8 1800.9,1416.2 1801.7,1417.1 1802.5,1416.2 1803.3,1416.7 1804.1,1415.6 1804.9,1415.3 1805.7,1417.9 1806.5,1416.4 1807.3,1416.2 1808.1,1415.8 1808.9,1417.2 1809.7,1418.4 1810.5,1415.6 1811.3,1415.8 1812.1,1416.6 1812.9,1415.0 1813.7,1414.3 1814.5,1417.1 1815.3,1415.9 1816.1,1417.2 1816.9,1417.2 1817.7,1416.6 1818.5,1414.8 1819.3,1417.2 1820.1,1416.4 1820.9,1416.3 1821.7,1416.1 1822.5,1415.8 1823.3,1416.1 1824.1,1414.5 1824.9,1416.2 1825.7,1415.1 1826.5,1415.2 1827.3,1415.9 1828.1,1415.0 1828.9,1415.2 1829.7,1415.0 1830.5,1414.2 1831.3,1415.6 1832.1,1415.5 1832.9,1414.4 1833.7,1414.0 1834.5,1416.3 1835.3,1413.3 1836.1,1415.4 1836.9,1414.1 1837.7,1415.6 1838.5,1414.5 1839.3,1416.5 1840.1,1415.0 1840.8,1414.1 1841.6,1413.6 1842.4,1415.2 1843.2,1414.2 1844.0,1412.2 1844.8,1412.4 1845.6,1412.4 1846.4,1416.0 1847.2,1415.9 1848.0,1414.2 1848.8,1415.1 1849.6,1413.4 1850.4,1413.3 1851.2,1413.6 1852.0,1414.4 1852.8,1412.9 1853.6,1413.6 1854.4,1412.8 1855.2,1411.1 1856.0,1411.3 1856.8,1413.4 1857.6,1412.1 1858.4,1411.6 1859.2,1411.8 1859.9,1411.1 1860.7,1411.4 1861.5,1412.7 1862.3,1411.3 1863.1,1411.9 1863.9,1412.5 1864.7,1411.8 1865.5,1409.5 1866.3,1413.0 1867.1,1410.1 1867.9,1410.3 1868.7,1411.7 1869.5,1413.0 1870.2,1412.1 1871.0,1411.1 1871.8,1410.3 1872.6,1409.8 1873.4,1409.4 1874.2,1411.3 1875.0,1410.0 1875.8,1410.1 1876.6,1408.4 1877.4,1409.8 1878.2,1407.7 1879.0,1409.8 1879.8,1411.4 1880.5,1408.2 1881.3,1407.8 1882.1,1410.7 1882.9,1408.9 1883.7,1410.4 1884.5,1407.2 1885.3,1408.7 1886.1,1409.1 1886.9,1408.3 1887.7,1406.9 1888.5,1406.2 1889.3,1407.7 1890.0,1407.3 1890.8,1408.0 1891.6,1409.4 1892.4,1406.1 1893.2,1407.1 1894.0,1407.6 1894.8,1409.0 1895.6,1407.2 1896.4,1408.2 1897.2,1405.8 1898.0,1407.0 1898.8,1407.0 1899.6,1407.4 1900.3,1406.3 1901.1,1406.0 1901.9,1407.3 1902.7,1406.3 1903.5,1405.7 1904.3,1406.1 1905.1,1405.9 1905.9,1407.0 1906.7,1406.3 1907.5,1404.6 1908.3,1405.4 1909.1,1403.4 1909.9,1403.8 1910.7,1404.9 1911.5,1406.4 1912.3,1405.7 1913.1,1406.7 1913.9,1405.1 1914.7,1406.8 1915.5,1405.8 1916.3,1404.0 1917.1,1403.6 1917.9,1403.9 1918.6,1402.8 1919.4,1402.7 1920.2,1403.2 1921.0,1404.0 1921.8,1403.7 1922.6,1405.8 1923.4,1404.9 1924.2,1403.0 1925.0,1404.3 1925.8,1402.8 1926.6,1403.0 1927.4,1403.9 1928.2,1405.4 1929.0,1403.5 1929.8,1405.2 1930.6,1402.8 1931.4,1404.2 1932.2,1404.6 1933.0,1403.9 1933.8,1403.8 1934.6,1402.7 1935.4,1401.3 1936.2,1403.1 1937.0,1402.9 1937.8,1404.4 1938.6,1402.8 1939.3,1402.6 1940.1,1402.6 1940.9,1401.4 1941.7,1402.6 1942.5,1403.4 1943.3,1401.7 1944.1,1400.4 1944.9,1401.4 1945.7,1402.8 1946.5,1401.8 1947.3,1400.9 1948.1,1402.1 1948.9,1399.6 1949.7,1401.0 1950.5,1400.8 1951.3,1399.7 1952.1,1400.2 1952.9,1401.4 1953.7,1401.5 1954.4,1400.8 1955.2,1401.8 1956.0,1400.6 1956.8,1398.2 1957.6,1400.4 1958.4,1399.5 1959.1,1399.5 1959.9,1399.3 1960.7,1400.7 1961.5,1398.8 1962.3,1399.9 1963.1,1398.9 1963.8,1397.9 1964.6,1396.2 1965.4,1398.2 1966.2,1397.1 1967.0,1397.6 1967.8,1397.5 1968.5,1396.6 1969.3,1395.6 1970.1,1399.0 1970.9,1398.3 1971.7,1397.6 1972.5,1396.5 1973.2,1395.9 1974.0,1396.3 1974.8,1396.6 1975.6,1396.3 1976.4,1397.3 1977.2,1394.9 1977.9,1394.7 1978.7,1395.0 1979.5,1395.4 1980.3,1394.9 1981.1,1392.8 1981.9,1395.0 1982.6,1395.4 1983.4,1393.7 1984.2,1395.0 1985.0,1394.2 1985.8,1392.8 1986.6,1394.5 1987.3,1393.0 1988.1,1391.6 1988.9,1394.1 1989.7,1390.9 1990.5,1394.7 1991.2,1390.5 1992.0,1391.6 1992.8,1390.3 1993.6,1392.3 1994.4,1393.0 1995.2,1389.9 1995.9,1391.4 1996.7,1389.4 1997.5,1389.2 1998.3,1390.5 1999.1,1391.6 1999.9,1390.8 2000.6,1391.1 2001.4,1391.6 2002.2,1390.4 2003.0,1391.0 2003.8,1391.4 2004.6,1390.8 2005.4,1390.1 2006.1,1389.6 2006.9,1389.0 2007.7,1389.3 2008.5,1388.5 2009.3,1389.6 2010.1,1388.3 2010.8,1390.3 2011.6,1390.1 2012.4,1387.9 2013.2,1387.6 2014.0,1389.4 2014.8,1388.2 2015.6,1389.5 2016.3,1385.7 2017.1,1385.2 2017.9,1386.9 2018.7,1387.3 2019.5,1386.5 2020.3,1384.9 2021.1,1386.4 2021.8,1385.6 2022.6,1386.3 2023.4,1386.0 2024.2,1384.6 2025.0,1384.8 2025.8,1386.0 2026.5,1385.0 2027.3,1384.3 2028.1,1384.4 2028.9,1386.3 2029.7,1386.4 2030.5,1384.4 2031.3,1385.1 2032.0,1385.3 2032.8,1384.9 2033.6,1382.1 2034.4,1385.7 2035.2,1383.4 2035.7,1384.1 2035.8,1384.5 2035.7,1382.9 2035.8,1382.0 2036.5,1383.8 2037.3,1383.3 2038.0,1383.8 2038.8,1384.6 2039.6,1381.3 2040.4,1381.4 2041.1,1382.7 2041.9,1383.5 2042.7,1383.5 2043.5,1381.0 2044.2,1381.2 2045.0,1380.8 2045.8,1379.8 2046.5,1380.6 2047.3,1378.9 2048.1,1380.8 2048.9,1379.1 2049.6,1381.6 2050.4,1379.0 2051.2,1380.6 2052.0,1380.5 2052.7,1378.8 2053.5,1379.6 2054.3,1379.0 2055.1,1377.4 2055.8,1378.0 2056.6,1380.1 2057.4,1378.2 2058.2,1378.6 2059.0,1376.5 2059.8,1376.5 2060.6,1379.1 2061.4,1378.0 2062.2,1376.6 2063.0,1376.8 2063.8,1376.9 2064.6,1375.8 2065.4,1378.6 2066.2,1375.8 2067.0,1379.7 2067.8,1375.7 2068.6,1376.3 2069.4,1377.8 2070.2,1377.8 2071.0,1378.9 2071.8,1376.9 2072.6,1375.5 2073.4,1378.3 2074.2,1376.7 2075.0,1378.0 2075.8,1379.0 2076.6,1379.2 2077.4,1375.4 2078.2,1377.6 2079.0,1375.5 2079.8,1376.4 2080.6,1376.2 2081.4,1378.8 2082.2,1377.0 2083.0,1376.0 2083.8,1378.0 2084.6,1375.9 2085.4,1378.5 2086.2,1376.7 2087.0,1377.7 2087.8,1378.4 2088.6,1376.1 2089.4,1378.1 2090.2,1378.0 2091.0,1377.9 2091.8,1376.3 2092.6,1377.8 2093.4,1376.9 2094.2,1377.8 2095.0,1375.2 2095.8,1377.0 2096.6,1376.4 2097.4,1376.1 2098.2,1378.4 2099.0,1375.6 2099.8,1375.9 2100.6,1377.2 2101.4,1375.9 2102.2,1378.3 2103.0,1376.0 2103.8,1375.6 2104.6,1376.5 2105.4,1376.9 2106.2,1378.8 2107.0,1378.1 2107.8,1377.0 2108.6,1378.5 2109.4,1376.7 2110.2,1377.7 2111.0,1376.8 2111.8,1376.4 2112.6,1378.4 2113.4,1377.3 2114.2,1377.1 2115.0,1375.1 2115.8,1376.4 2116.6,1377.1 2117.4,1374.7 2118.2,1377.7 2119.0,1376.6 2119.8,1376.7 2120.6,1375.4 2121.4,1374.8 2122.2,1376.2 2123.0,1376.1 2123.8,1376.2 2124.6,1378.5 2125.4,1376.3 2126.2,1378.3 2127.0,1375.4 2127.8,1376.9 2128.6,1375.7 2129.4,1376.5 2130.2,1378.3 2131.0,1377.6 2131.8,1375.1 2132.6,1377.3 2133.4,1377.6 2134.2,1376.8 2135.0,1375.5 2135.8,1375.9 2136.6,1376.6 2137.4,1376.5 2138.2,1376.7 2139.0,1375.5 2139.8,1377.9 2140.6,1376.4 2141.4,1374.9 2142.2,1374.8 2143.0,1377.2 2143.8,1376.1 2144.6,1374.1 2145.4,1376.3 2146.2,1376.0 2147.0,1375.3 2147.8,1375.7 2148.6,1377.1 2149.4,1375.0 2150.2,1375.2 2151.0,1374.1 2151.8,1375.9 2152.6,1377.5 2153.4,1376.3 2154.2,1374.3 2155.0,1375.6 2155.8,1376.2 2156.6,1375.3 2157.4,1376.8 2158.2,1376.0 2159.0,1377.8 2159.8,1374.8 2160.6,1373.9 2161.4,1375.7 2162.2,1377.2 2163.0,1376.2 2163.8,1377.3 2164.6,1376.2 2165.4,1376.9 2166.2,1375.3 2167.0,1374.5 2167.8,1374.3 2168.6,1374.6 2169.4,1375.7 2170.2,1376.9 2171.0,1375.0 2171.8,1376.5 2172.6,1374.9 2173.4,1376.6 2174.2,1374.7 2175.1,1375.2 2175.9,1376.0 2176.7,1375.1 2177.5,1377.4 2178.3,1376.0 2179.1,1376.3 2179.9,1374.0 2180.7,1374.5 2181.5,1376.7 2182.3,1376.8 2183.1,1376.0 2183.9,1375.9 2184.7,1374.8 2185.5,1375.7 2186.3,1374.7 2187.1,1374.0 2187.8,1374.8 2188.6,1376.6 2189.4,1374.8 2190.2,1375.5 2191.0,1373.9 2191.6,1374.6 2192.0,1376.3 2192.1,1376.1 2192.1,1376.4 2192.1,1378.8 2192.1,1378.0 2192.1,1379.2 2192.1,1381.3 2192.1,1382.2 2192.1,1379.6 2192.1,1381.8 2192.1,1381.7 2192.1,1383.7 2192.1,1385.0 2192.1,1384.9 2192.1,1387.3 2192.1,1386.5 2192.1,1385.9 2192.1,1388.6 2192.1,1387.8 2192.1,1389.2 2192.1,1389.6 2192.1,1391.4 2192.1,1390.5 2192.1,1392.7 2192.1,1394.2 2192.1,1394.1 2192.1,1393.9 2192.1,1396.7 2192.1,1396.6 2192.1,1396.3 2192.1,1397.3 2192.1,1399.2 2192.1,1400.8 2192.1,1399.7 2192.1,1401.2 2192.1,1404.1 2192.1,1403.2 2192.1,1404.1 2192.1,1404.5"/>
<polyline class="curve" stroke="#0000ff" points="208.3,1076.5 208.8,1074.7 209.6,1074.2 210.4,1077.4 211.2,1076.0 212.0,1076.4 212.8,1074.4 213.6,1078.0 214.4,1077.3 215.2,1076.0 216.0,1075.3 216.8,1076.0 217.6,1076.3 218.4,1075.9 219.3,1074.6 220.1,1077.2 220.9,1075.9 221.7,1076.1 222.5,1076.2 223.3,1074.4 224.1,1077.1 224.9,1076.1 225.7,1076.1 226.5,1076.8 227.3,1075.7 228.1,1077.2 228.9,1075.6 229.7,1075.5 230.5,1075.5 231.3,1076.6 232.1,1077.5 232.9,1076.2 233.7,1075.1 234.5,1077.7 235.3,1075.5 236.1,1077.8 236.9,1076.6 237.7,1076.1 238.5,1076.4 239.3,1077.9 240.2,1078.2 241.0,1076.7 241.8,1078.0 242.6,1079.3 243.4,1077.0 244.2,1076.0 245.0,1075.8 245.8,1075.7 246.6,1076.9 247.4,1076.9 248.2,1076.1 249.0,1078.1 249.8,1075.7 250.6,1076.0 251.4,1079.7 252.2,1079.2 253.0,1079.0 253.8,1079.1 254.6,1079.9 255.4,1078.9 256.2,1078.3 257.0,1076.7 257.8,1078.1 258.6,1077.6 259.4,1077.5 260.2,1077.4 261.1,1078.3 261.9,1078.0 262.7,1079.2 263.5,1076.9 264.3,1078.2 265.1,1080.3 265.9,1078.4 266.7,1079.7 267.5,1079.3 268.3,1079.3 269.1,1079.0 269.9,1077.2 270.7,1078.3 271.5,1077.9 272.3,1076.7 273.1,1078.1 273.9,1077.1 274.7,1076.9 275.5,1079.0 276.3,1078.6 277.1,1078.0 277.9,1077.9 278.7,1078.4 279.5,1078.8 280.3,1079.0 281.1,1079.0 281.9,1078.1 282.8,1079.0 283.6,1079.5 284.4,1079.6 285.2,1078.6 286.0,1078.6 286.8,1079.6 287.6,1078.9 288.4,1079.2 289.2,1077.5 290.0,1077.6 290.8,1080.2 291.6,1080.6 292.4,1081.3 293.2,1080.4 294.0,1080.3 294.8,1080.0 295.6,1078.3 296.4,1080.9 297.2,1079.3 298.0,1080.2 298.8,1079.8 299.6,1080.0 300.4,1081.0 301.2,1079.8 302.0,1079.8 302.8,1079.5 303.7,1080.1 304.5,1081.9 305.3,1079.7 306.1,1081.3 306.9,1080.7 307.7,1080.6 308.5,1081.1 309.3,1079.3 310.1,1080.7 310.9,1082.1 311.7,1079.9 312.5,1080.6 313.3,1080.0 314.1,1081.1 314.9,1079.8 315.7,1082.5 316.5,1080.5 317.3,1079.1 318.1,1082.5 318.9,1081.4 319.7,1081.0 320.5,1081.4 321.4,1080.7 322.2,1080.9 323.0,1081.5 323.8,1081.6 324.6,1082.2 325.4,1081.4 326.2,1080.3 327.0,1080.8 327.8,1082.0 328.6,1081.9 329.4,1080.1 330.2,1080.4 331.0,1082.5 331.8,1081.7 332.6,1081.5 333.4,1079.5 334.2,1080.4 335.0,1080.2 335.8,1081.4 336.6,1079.7 337.4,1082.6 338.2,1081.1 339.0,1081.2 339.9,1079.7 340.7,1080.9 341.5,1082.2 342.3,1079.3 343.1,1082.0 343.9,1082.4 344.7,1080.6 345.5,1082.5 346.3,1081.2 347.1,1082.2 347.9,1081.5 348.7,1081.6 349.5,1083.4 350.3,1082.4 351.1,1082.8 351.9,1080.5 352.7,1081.6 353.5,1083.2 354.3,1082.6 355.1,1081.6 355.9,1082.9 356.7,1080.6 357.5,1081.6 358.4,1080.5 359.2,1082.3 360.0,1081.6 360.8,1081.2 361.6,1081.7 362.4,1083.8 363.2,1081.1 364.0,1081.7 364.8,1083.1 365.6,1081.0 366.4,1083.5 367.2,1082.3 368.0,1081.8 368.8,1081.7 369.6,1083.4 370.4,1082.8 371.2,1082.8 372.0,1082.3 372.8,1080.6 373.6,1081.4 374.4,1083.6 375.2,1083.1 376.0,1083.4 376.9,1083.7 377.7,1082.2 378.5,1083.0 379.3,1081.7 380.1,1082.8 380.9,1081.4 381.7,1081.9 382.5,1082.7 383.3,1082.4 384.1,1083.8 384.9,1083.4 385.7,1083.3 386.5,1084.4 387.3,1081.2 388.1,1080.9 388.9,1082.8 389.7,1083.4 390.5,1084.6 391.3,1082.8 392.1,1083.0 392.9,1081.8 393.7,1083.4 394.5,1083.1 395.4,1081.3 396.2,1081.7 397.0,1082.8 397.8,1083.3 398.6,1080.8 399.4,1082.7 400.2,1083.2 401.0,1083.1 401.8,1083.5 402.6,1083.6 403.4,1081.8 404.2,1083.0 405.0,1082.5 405.8,1082.1 406.6,1083.3 407.4,1084.2 408.2,1081.1 409.0,1081.2 409.8,1081.3 410.6,1085.1 411.4,1082.8 412.2,1083.2 413.0,1082.6 413.9,1082.7 414.7,1081.7 415.5,1084.0 416.3,1083.9 417.1,1081.4 417.9,1082.3 418.7,1082.7 419.2,1083.4"/>
<polyline class="curve" stroke="#0000ff" points="421.9,1080.0 422.0,1080.3 422.2,1079.8 422.4,1083.4 422.6,1083.3 422.8,1084.3 422.9,1084.6 423.1,1086.5 423.3,1085.8 423.5,1087.0 423.7,1086.7 424.2,1086.6 424.8,1087.3 425.6,1087.0 426.4,1087.6 427.2,1089.2 428.0,1087.4 428.8,1087.7 429.6,1088.7 430.4,1088.7 431.2,1087.4 432.0,1087.3 432.8,1086.3 433.6,1087.8 434.4,1086.3 435.2,1086.9 436.0,1088.5 436.8,1087.5 437.6,1088.7 438.4,1088.5 439.2,1087.3 440.0,1088.0 440.8,1089.4 441.6,1088.5 442.4,1088.1 443.2,1086.4 444.0,1087.7 444.8,1089.3 445.6,1087.7 446.4,1088.5 447.2,1089.4 448.0,1090.0 448.8,1086.3 449.6,1089.5 450.4,1089.8 451.2,1088.5 452.0,1090.1 452.8,1086.8 453.6,1086.4 454.4,1088.2 455.2,1089.3 456.0,1087.2 456.8,1088.0 457.6,1087.2 458.4,1089.7 459.2,1087.5 460.0,1089.8 460.8,1086.3 461.6,1088.4 462.4,1088.7 463.2,1087.3 464.0,1088.5 464.8,1089.1 465.6,1088.1 466.4,1087.7 467.2,1088.1 468.0,1088.9 468.8,1089.1 469.6,1087.7 470.4,1089.2 471.2,1088.3 472.0,1090.6 472.8,1088.5 473.6,1088.7 474.4,1087.5 475.2,1090.0 476.0,1088.2 476.8,1089.1 477.6,1089.8 478.4,1088.1 479.2,1088.9 480.0,1088.5 480.8,1087.8 481.6,1087.1 482.4,1086.9 483.2,1087.8 484.0,1086.9 484.8,1089.6 485.6,1087.7 486.4,1090.9 487.2,1088.9 488.0,1088.3 488.8,1090.6 489.6,1089.0 490.4,1088.2 491.2,1088.4 492.0,1090.4 492.8,1088.3 493.6,1088.0 494.4,1089.2 495.2,1089.6 496.0,1087.2 496.8,1087.9 497.6,1087.7 498.4,1087.9 499.2,1088.6 500.0,1087.3 500.8,1087.9 501.6,1087.3 502.4,1089.5 503.2,1088.3 504.0,1090.2 504.8,1091.4 505.6,1090.0 506.4,1089.5 507.2,1088.5 508.0,1088.6 508.8,1089.9 509.6,1090.4 510.4,1091.4 511.2,1088.9 512.0,1088.9 512.8,1091.6 513.6,1089.9 514.4,1088.1 515.2,1090.1 516.0,1089.3 516.8,1089.2 517.6,1088.5 518.4,1090.8 519.2,1090.9 520.0,1091.8 520.8,1090.3 521.6,1089.5 522.4,1090.1 523.2,1090.5 524.0,1089.9 524.8,1088.8 525.6,1089.2 526.4,1090.2 527.2,1089.8 528.0,1091.8 528.8,1090.1 529.6,1089.6 530.4,1089.1 531.2,1090.6 532.0,1089.8 532.8,1091.2 533.6,1090.6 534.4,1091.3 535.2,1090.2 536.0,1091.4 536.8,1091.8 537.6,1090.0 538.4,1092.0 539.2,1090.1 540.0,1092.0 540.8,1091.3 541.6,1091.4 542.4,1091.3 543.2,1091.8 544.0,1089.7 544.8,1091.5 545.6,1090.6 546.4,1091.0 547.2,1090.9 548.0,1091.6 548.8,1090.0 549.6,1090.3 550.4,1090.1 551.2,1091.8 552.0,1090.4 552.8,1091.6 553.6,1092.0 554.4,1092.2 555.2,1088.9 556.0,1091.0 556.8,1090.8 557.6,1089.9 558.4,1089.5 559.2,1091.6 560.0,1092.7 560.8,1090.0 561.6,1091.0 562.4,1091.7 563.3,1088.8 564.1,1092.8 564.9,1090.7 565.7,1092.3 566.5,1092.9 567.3,1091.7 568.1,1090.5 568.9,1091.4 569.7,1090.8 570.5,1092.1 571.3,1090.2 572.1,1092.0 572.9,1090.3 573.7,1093.1 574.5,1089.4 575.3,1092.0 576.1,1089.7 576.9,1092.5 577.7,1090.9 578.5,1089.2 579.3,1090.0 580.1,1090.9 580.9,1090.6 581.7,1092.1 582.5,1090.9 583.3,1091.8 584.1,1092.1 584.9,1091.2 585.7,1090.9 586.5,1090.9 587.3,1091.7 588.1,1090.8 588.9,1091.7 589.7,1089.5 590.5,1090.3 591.3,1091.9 592.1,1091.3 592.9,1091.4 593.7,1091.4 594.5,1092.6 595.3,1090.1 596.1,1089.6 596.9,1092.9 597.7,1092.1 598.5,1090.8 599.3,1090.0 600.1,1089.7 600.9,1090.8 601.7,1091.6 602.5,1092.9 603.3,1091.1 604.1,1091.7 604.9,1091.1 605.7,1090.2 606.5,1091.9 607.3,1092.0 608.1,1092.1 608.9,1093.1 609.7,1090.2 610.5,1091.7 611.3,1092.0 612.1,1093.4 612.9,1091.7 613.7,1091.6 614.5,1090.9 615.3,1091.7 616.1,1091.6 616.9,1091.6 617.7,1090.9 618.5,1090.9 619.3,1092.4 620.1,1091.3 620.9,1093.1 621.7,1094.1 622.5,1093.8 623.3,1093.0 624.1,1093.2 624.9,1093.3 625.7,1092.1 626.5,1091.8 627.3,1092.1 628.1,1091.4 628.9,1091.7 629.7,1094.3 630.5,1091.4 631.3,1091.3 632.1,1090.5 632.9,1092.9 633.7,1094.2 634.5,1093.8 635.3,1092.3 636.1,1093.0 636.9,1092.6 637.7,1093.1 638.5,1091.6 639.3,1093.9 640.1,1092.1 640.9,1093.0 641.7,1093.4 642.5,1093.9 643.3,1094.8 644.1,1094.6 644.9,1092.5 645.7,1094.5 646.5,1090.9 647.3,1091.8 648.1,1093.0 648.9,1093.6 649.7,1093.1 650.5,1093.1 651.3,1094.9 652.1,1091.5 652.9,1092.8 653.7,1091.8 654.5,1092.8 655.3,1092.7 656.1,1093.7 656.9,1094.8 657.7,1095.2 658.5,1091.2 659.3,1092.5 660.1,1094.3 660.9,1093.2 661.7,1092.7 662.5,1092.7 663.3,1094.0 664.1,1093.0 664.9,1093.4 665.7,1093.1 666.5,1093.4 667.3,1093.7 668.1,1095.4 668.9,1095.0 669.7,1094.0 670.5,1094.5 671.3,1091.7 672.1,1093.2 672.9,1093.8 673.7,1092.2 674.5,1092.9 675.3,1092.7 676.1,1092.9 676.9,1093.2 677.7,1093.6 678.5,1094.3 679.3,1093.4 680.1,1094.8 680.9,1094.6 681.7,1092.9 682.5,1093.6 683.3,1095.4 684.1,1092.8 684.9,1094.0 685.7,1093.6 686.5,1093.2 687.3,1092.2 688.1,1095.2 688.9,1096.3 689.7,1094.2 690.5,1095.3 691.3,1094.4 692.1,1094.4 692.9,1094.2 693.7,1094.9 694.5,1093.6 695.3,1094.8 696.1,1094.8 696.9,1094.5 697.7,1093.5 698.5,1095.1 699.3,1092.7 700.1,1093.0 700.9,1095.2 701.7,1093.1 702.5,1096.8 703.3,1093.7 704.1,1094.7 704.9,1096.4 705.7,1093.9 706.5,1097.0 707.3,1096.8 708.1,1096.5 708.9,1095.3 709.7,1096.4 710.5,1094.4 711.3,1095.6 712.1,1094.2 712.8,1096.4 713.6,1095.8 714.4,1095.6 715.2,1096.1 716.0,1094.4 716.8,1096.6 717.6,1095.3 718.4,1095.5 719.2,1096.1 720.0,1094.8 720.8,1096.1 721.6,1095.2 722.4,1097.1 723.2,1096.9 724.0,1095.3 724.8,1096.5 725.6,1095.7 726.4,1096.5 727.2,1095.0 728.0,1093.9 728.8,1096.5 729.6,1093.9 730.4,1095.0 731.2,1094.2 732.0,1096.4 732.8,1094.0 733.6,1097.1 734.4,1098.1 735.2,1094.6 736.0,1097.5 736.8,1098.2 737.6,1095.3 738.4,1096.3 739.2,1095.2 740.0,1096.2 740.8,1096.5 741.6,1098.4 742.4,1096.9 743.2,1098.4 744.0,1098.4 744.8,1097.4 745.6,1095.9 746.4,1096.1 747.2,1095.8 748.0,1097.4 748.8,1097.1 749.6,1097.3 750.4,1097.3 751.2,1098.8 752.0,1096.6 752.8,1096.1 753.6,1097.1 754.4,1097.3 755.2,1098.3 756.0,1098.5 756.8,1096.3 757.6,1097.9 758.4,1096.9 759.2,1097.8 760.0,1097.0 760.8,1096.4 761.6,1097.3 762.4,1098.1 763.2,1096.4 764.0,1097.6 764.8,1097.0 765.6,1096.8 766.4,1097.6 767.2,1097.7 768.0,1096.7 768.8,1095.5 769.6,1096.2 770.4,1098.5 771.2,1096.3 772.0,1098.2 772.8,1095.9 773.6,1099.5 774.4,1096.3 775.2,1098.3 776.0,1097.6 776.8,1098.4 777.6,1099.1 778.4,1098.0 779.2,1097.1 780.0,1099.2 780.8,1097.5 781.6,1099.6 782.4,1097.2 783.2,1097.4 784.0,1098.9 784.8,1099.3 785.6,1098.6 786.4,1096.7 787.2,1098.3 788.0,1096.6 788.8,1099.1 789.6,1098.2 790.4,1098.9 791.2,1097.7 792.0,1098.0 792.8,1098.8 793.6,1096.6 794.4,1097.4 795.2,1099.0 796.0,1098.4 796.8,1097.3 797.6,1097.1 798.4,1096.2 799.2,1097.0 800.0,1098.4 800.8,1098.0 801.6,1096.8 802.4,1097.5 803.2,1099.3 804.0,1096.1 804.8,1100.0 805.6,1096.0 806.4,1097.7 807.2,1096.4 808.0,1096.5 808.8,1097.2 809.6,1098.4 810.4,1097.7 811.2,1097.8 812.0,1100.0 812.8,1098.2 813.6,1097.4 814.4,1096.1 815.2,1097.7 816.0,1098.2 816.8,1098.8 817.6,1098.0 818.4,1097.9 819.2,1097.5 820.0,1099.2 820.8,1096.8 821.6,1098.7 822.4,1099.4 823.2,1096.1 824.0,1099.2 824.9,1098.3 825.7,1098.2 826.5,1097.0 827.3,1096.9 828.1,1096.5 828.9,1100.0 829.7,1097.2 830.5,1100.0 831.3,1098.3 832.1,1097.2 832.9,1098.8 833.7,1097.9 834.5,1097.4 835.3,1097.5 836.1,1098.2 836.9,1097.1 837.7,1097.0 838.5,1097.6 839.3,1097.9 840.1,1095.9 840.9,1098.8 841.7,1096.3 842.5,1097.6 843.3,1098.9 844.1,1097.7 844.9,1096.8 845.7,1097.3 846.5,1097.9 847.3,1099.1 848.1,1097.8 848.9,1099.1 849.7,1097.8 850.5,1099.6 851.3,1098.1 852.1,1099.1 852.9,1096.5 853.7,1097.9 854.5,1098.6 855.3,1096.1 856.1,1097.5 856.9,1096.9 857.7,1098.5 858.5,1096.8 859.3,1097.8 860.1,1097.6 860.9,1097.6 861.7,1096.1 862.5,1098.5 863.3,1095.5 864.1,1098.4 864.9,1097.3 865.7,1096.1 866.5,1097.1 867.3,1095.8 868.1,1097.0 868.9,1097.6 869.7,1099.3 870.5,1096.2 871.3,1097.5 872.1,1096.0 872.9,1096.9 873.7,1098.3 874.5,1096.2 875.3,1097.4 876.1,1098.3 876.9,1096.8 877.7,1096.8 878.5,1096.7 879.3,1097.3 880.1,1097.4 880.9,1096.3 881.7,1096.7 882.5,1095.6 883.3,1097.0 884.1,1097.0 884.9,1098.1 885.7,1097.1 886.5,1096.9 887.3,1095.1 888.1,1097.3 888.9,1097.1 889.7,1096.7 890.5,1097.5 891.3,1098.4 892.1,1097.8 892.9,1097.3 893.7,1097.5 894.5,1095.7 895.3,1096.4 896.1,1097.1 896.9,1095.2 897.7,1096.5 898.5,1098.2 899.3,1095.7 900.1,1096.5 900.9,1096.5 901.7,1097.5 902.5,1095.3 903.3,1097.4 904.1,1098.3 904.9,1096.8 905.7,1095.3 906.4,1097.9 907.2,1096.9 908.0,1096.7 908.8,1097.6 909.6,1096.4 910.4,1095.1 911.2,1093.8 912.0,1097.4 912.8,1095.8 913.6,1095.4 914.4,1095.7 915.2,1096.3 916.0,1094.6 916.8,1095.5 917.6,1094.7 918.4,1094.1 919.2,1094.5 920.0,1094.5 920.8,1094.2 921.6,1092.8 922.4,1093.7 923.2,1095.6 924.0,1093.2 924.8,1094.5 925.6,1093.2 926.4,1093.7 927.2,1094.5 928.0,1094.9 928.8,1094.7 929.6,1092.9 930.4,1095.3 931.2,1092.6 932.0,1095.3 932.8,1092.6 933.6,1093.2 934.4,1094.7 935.2,1093.1 936.0,1094.1 936.8,1093.9 937.6,1093.9 938.4,1095.0 939.1,1093.6 939.9,1093.3 940.7,1094.0 941.5,1093.5 942.3,1093.6 943.1,1094.0 943.9,1094.6 944.7,1092.9 945.5,1091.8 946.3,1093.6 947.1,1093.8 947.9,1092.9 948.7,1091.4 949.5,1091.1 950.3,1091.2 951.1,1093.0 951.9,1091.9 952.7,1093.5 953.5,1094.2 954.3,1093.3 955.1,1093.1 955.9,1092.8 956.7,1093.3 957.5,1094.4 958.3,1092.1 959.1,1091.0 959.9,1092.8 960.7,1093.7 961.5,1090.9 962.3,1090.4 963.1,1090.0 963.9,1092.0 964.7,1090.9 965.5,1093.7 966.3,1090.6 967.1,1092.9 967.9,1091.5 968.7,1089.5 969.5,1091.6 970.3,1093.4 971.1,1092.6 971.9,1090.9 972.7,1091.1 973.5,1091.5 974.3,1091.4 975.1,1091.2 975.9,1090.4 976.7,1089.9 977.5,1088.8 978.3,1090.5 979.1,1090.2 979.9,1089.2 980.7,1091.8 981.5,1090.0 982.3,1092.4 983.1,1090.4 983.9,1089.4 984.7,1090.5 985.4,1089.1 986.2,1091.7 987.0,1092.1 987.8,1089.9 988.6,1090.2 989.4,1088.7 990.2,1090.2 991.0,1090.9 991.8,1089.3 992.6,1090.2 993.4,1089.9 994.2,1089.2 995.0,1091.2 995.8,1091.5 996.6,1088.7 997.4,1090.4 998.2,1087.3 999.0,1089.3 999.8,1089.8 1000.6,1089.2 1001.4,1089.2 1002.2,1089.4 1003.0,1090.5 1003.8,1088.5 1004.6,1087.7 1005.4,1089.2 1006.2,1090.7 1007.0,1088.3 1007.8,1090.3 1008.6,1089.2 1009.4,1087.1 1010.2,1088.0 1011.0,1087.5 1011.8,1088.9 1012.6,1086.4 1013.4,1088.1 1014.2,1088.2 1015.0,1086.1 1015.8,1088.0 1016.6,1087.4 1017.4,1089.3 1018.2,1088.7 1019.0,1089.2 1019.8,1088.3 1020.6,1086.8 1021.4,1089.3 1022.2,1089.0 1023.0,1088.0 1023.8,1088.2 1024.6,1089.4 1025.4,1089.5 1026.2,1088.2 1027.0,1087.6 1027.8,1088.8 1028.6,1087.5 1029.4,1087.1 1030.2,1087.9 1031.0,1087.3 1031.8,1087.8 1032.6,1087.3 1033.4,1087.8 1034.2,1087.9 1035.0,1086.5 1035.8,1086.4 1036.6,1087.0 1037.4,1085.5 1038.2,1086.7 1039.0,1087.0 1039.8,1087.0 1040.6,1086.9 1041.4,1086.8 1042.2,1088.6 1043.0,1085.6 1043.8,1086.2 1044.6,1088.2 1045.4,1086.5 1046.2,1086.6 1047.0,1085.3 1047.7,1086.5 1048.5,1088.0 1049.3,1086.0 1050.1,1084.9 1050.9,1085.5 1051.7,1083.9 1052.5,1084.7 1053.3,1087.7 1054.1,1084.6 1054.9,1084.4 1055.7,1085.3 1056.5,1084.0 1057.3,1084.9 1058.1,1087.2 1058.9,1087.0 1059.7,1084.4 1060.5,1085.9 1061.3,1085.8 1062.1,1086.5 1062.9,1084.6 1063.7,1084.9 1064.5,1084.3 1065.3,1085.6 1066.1,1085.2 1066.9,1085.8 1067.7,1084.9 1068.5,1083.9 1069.2,1082.1 1070.0,1083.9 1070.8,1084.4 1071.6,1085.3 1072.4,1084.5 1073.2,1084.1 1074.0,1083.2 1074.8,1082.7 1075.6,1081.6 1076.4,1082.8 1077.2,1083.2 1078.0,1081.5 1078.8,1082.8 1079.6,1081.4 1080.4,1083.0 1081.2,1083.0 1082.0,1081.1 1082.8,1081.0 1083.6,1082.9 1084.4,1083.7 1085.2,1083.2 1086.0,1080.7 1086.8,1083.1 1087.6,1082.2 1088.4,1083.9 1089.2,1082.9 1090.0,1082.1 1090.8,1082.5 1091.6,1083.5 1092.4,1082.9 1093.2,1080.5 1094.0,1082.0 1094.8,1082.7 1095.6,1082.0 1096.4,1081.9 1097.2,1082.0 1098.0,1080.4 1098.8,1080.4 1099.6,1081.1 1100.4,1080.7 1101.2,1081.4 1101.9,1080.7 1102.7,1080.7 1103.5,1080.1 1104.3,1080.7 1105.1,1081.0 1105.9,1081.8 1106.7,1081.4 1107.5,1081.0 1108.3,1081.3 1109.1,1082.1 1109.9,1081.9 1110.7,1080.4 1111.4,1078.5 1112.2,1078.9 1113.0,1079.3 1113.8,1079.7 1114.6,1079.0 1115.4,1080.5 1116.2,1077.9 1117.0,1079.7 1117.8,1079.4 1118.6,1080.7 1119.4,1079.5 1120.2,1078.0 1120.9,1077.0 1121.7,1077.5 1122.5,1079.3 1123.3,1078.3 1124.1,1079.0 1124.9,1078.4 1125.7,1077.4 1126.5,1078.5 1127.3,1076.5 1128.1,1077.5 1128.8,1078.4 1129.6,1077.6 1130.4,1077.6 1131.2,1076.4 1132.0,1075.6 1132.8,1076.7 1133.6,1076.9 1134.4,1075.8 1135.2,1075.6 1135.9,1075.7 1136.7,1076.6 1137.5,1077.6 1138.3,1076.2 1139.1,1075.4 1139.9,1077.2 1140.7,1073.4 1141.5,1075.7 1142.3,1074.9 1143.0,1075.5 1143.8,1076.7 1144.6,1073.7 1145.4,1073.4 1146.1,1074.3 1146.9,1075.1 1147.7,1072.7 1148.4,1072.9 1149.2,1073.0 1149.9,1071.8 1150.7,1073.1 1151.5,1072.3 1152.2,1072.1 1153.0,1072.0 1153.8,1069.8 1154.5,1070.9 1155.3,1070.4 1156.0,1070.3 1156.8,1069.8 1157.6,1070.7 1158.3,1072.1 1159.1,1070.4 1159.9,1071.8 1160.7,1070.3 1161.5,1070.2 1162.3,1070.5 1163.1,1068.8 1163.9,1068.8 1164.7,1067.6 1165.5,1070.5 1166.2,1067.0 1167.0,1068.5 1167.8,1067.8 1168.6,1068.3 1169.4,1067.3 1170.2,1068.2 1171.0,1068.4 1171.8,1067.3 1172.6,1067.6 1173.4,1069.3 1174.2,1068.9 1174.9,1068.2 1175.7,1068.4 1176.5,1067.2 1177.3,1066.4 1178.1,1066.3 1178.9,1067.7 1179.7,1065.8 1180.4,1066.7 1181.2,1065.1 1182.0,1065.7 1182.8,1067.0 1183.6,1066.1 1184.4,1065.4 1185.2,1064.5 1186.0,1064.7 1186.8,1064.4 1187.6,1065.7 1188.4,1065.0 1189.2,1066.2 1190.0,1064.2 1190.8,1067.7 1191.6,1066.0 1192.4,1066.5 1193.2,1066.6 1194.0,1065.0 1194.8,1064.6 1195.6,1064.7 1196.4,1065.2 1197.2,1067.7 1198.0,1066.0 1198.8,1066.2 1199.6,1064.6 1200.4,1065.4 1201.2,1065.5 1202.0,1063.9 1202.8,1064.0 1203.6,1065.5 1204.4,1064.9 1205.2,1064.5 1206.0,1067.6 1206.8,1068.1 1207.6,1065.2 1208.4,1067.9 1209.2,1066.8 1210.0,1065.0 1210.8,1064.5 1211.5,1066.2 1212.3,1065.5 1213.1,1067.1 1213.9,1067.6 1214.7,1066.8 1215.5,1068.6 1216.3,1067.7 1217.1,1068.0 1217.9,1067.7 1218.8,1067.3 1219.6,1067.4 1220.4,1068.0 1221.2,1066.4 1222.0,1068.6 1222.8,1065.6 1223.6,1068.5 1224.4,1067.3 1225.2,1067.9 1226.0,1065.4 1226.8,1065.0 1227.6,1067.7 1228.4,1066.8 1229.2,1065.6 1230.0,1065.2 1230.8,1065.5 1231.5,1065.9 1232.3,1067.3 1233.1,1068.3 1233.9,1067.3 1234.7,1067.2 1235.5,1066.6 1236.3,1065.0 1237.1,1065.9 1237.9,1066.2 1238.7,1066.8 1239.5,1065.7 1240.3,1067.3 1241.1,1067.5 1241.9,1067.4 1242.7,1066.8 1243.5,1064.6 1244.3,1065.4 1245.1,1066.0 1245.9,1064.2 1246.7,1064.7 1247.4,1065.7 1248.2,1063.1 1249.0,1066.3 1249.8,1064.7 1250.6,1064.2 1251.4,1063.7 1252.1,1063.0 1252.9,1065.5 1253.7,1064.6 1254.5,1063.0 1255.3,1063.9 1256.1,1063.0 1256.9,1062.1 1257.6,1061.4 1258.4,1063.4 1259.2,1062.0 1260.0,1062.0 1260.7,1060.4 1261.5,1060.9 1262.3,1059.4 1263.0,1060.5 1263.8,1061.1 1264.6,1060.8 1265.3,1062.4 1266.1,1060.1 1266.9,1059.5 1267.6,1059.0 1268.4,1060.3 1269.2,1059.5 1269.9,1058.3 1270.7,1058.8 1271.5,1057.8 1272.2,1057.7 1273.0,1057.4 1273.8,1059.2 1274.6,1057.5 1275.3,1058.0 1276.1,1057.2 1276.9,1059.0 1277.7,1056.7 1278.5,1058.0 1279.3,1055.2 1280.1,1058.0 1280.8,1055.0 1281.6,1055.7 1282.4,1056.6 1283.2,1057.2 1284.0,1055.5 1284.8,1056.6 1285.6,1055.6 1286.3,1055.8 1287.1,1053.6 1287.9,1054.3 1288.7,1053.8 1289.4,1054.8 1290.2,1054.5 1291.0,1054.2 1291.8,1053.6 1292.5,1054.4 1293.3,1052.9 1294.1,1052.0 1294.8,1053.2 1295.6,1053.2 1296.4,1052.9 1297.1,1051.8 1297.9,1050.3 1298.7,1053.9 1299.5,1053.1 1300.3,1054.6 1301.1,1052.1 1301.9,1052.3 1302.7,1050.9 1303.5,1052.2 1304.2,1053.2 1305.0,1053.4 1305.8,1055.4 1306.6,1055.5 1307.4,1052.4 1308.2,1053.7 1309.0,1054.6 1309.8,1054.2 1310.6,1054.6 1311.4,1055.5 1312.2,1054.0 1313.0,1053.9 1313.8,1053.0 1314.6,1053.3 1315.4,1053.5 1316.2,1053.3 1317.0,1053.4 1317.8,1052.7 1318.6,1052.6 1319.4,1052.0 1320.2,1053.3 1321.0,1053.0 1321.8,1051.1 1322.6,1054.1 1323.4,1054.1 1324.2,1053.9 1325.0,1054.0 1325.8,1053.8 1326.6,1053.1 1327.4,1052.3 1328.2,1053.1 1329.0,1052.7 1329.8,1052.8 1330.6,1051.5 1331.4,1053.3 1332.2,1053.6 1333.0,1055.2 1333.8,1053.5 1334.6,1054.0 1335.4,1053.4 1336.2,1054.0 1337.0,1052.6 1337.8,1054.3 1338.6,1055.8 1339.4,1053.5 1340.2,1051.8 1341.0,1055.1 1341.8,1054.6 1342.6,1052.7 1343.3,1053.8 1344.1,1052.6 1344.9,1054.1 1345.7,1051.8 1346.5,1052.7 1347.3,1054.2 1348.1,1053.3 1348.9,1053.6 1349.7,1053.0 1350.4,1052.2 1351.2,1052.2 1351.9,1051.5 1352.7,1052.0 1353.4,1051.8 1354.2,1052.7 1354.9,1051.1 1355.7,1050.6 1356.5,1050.0 1357.2,1050.0 1358.0,1049.7 1358.7,1050.4 1359.4,1049.4 1360.1,1050.0 1360.8,1047.5 1361.5,1047.5 1362.2,1046.9 1362.9,1048.0 1363.6,1046.2 1364.3,1047.3 1365.0,1046.0 1365.7,1043.2 1366.4,1046.8 1367.0,1044.6 1367.6,1043.5 1368.2,1043.7 1368.7,1041.3 1369.3,1041.8 1369.8,1040.5 1370.4,1039.1 1371.0,1038.5 1371.5,1040.3 1372.1,1039.2 1372.6,1039.0 1373.2,1038.0 1373.7,1036.2 1374.2,1037.0 1374.7,1036.6 1375.3,1037.4 1375.8,1034.2 1376.3,1034.8 1376.8,1033.1 1377.3,1032.8 1377.9,1031.7 1378.4,1033.9 1378.9,1032.6 1379.3,1030.7 1379.8,1031.2 1380.3,1030.9 1380.8,1029.8 1381.3,1026.4 1381.7,1028.6 1382.2,1026.7 1382.7,1026.2 1383.2,1026.8 1383.6,1025.1 1384.1,1022.4 1384.5,1022.6 1385.0,1022.7 1385.4,1022.6 1385.8,1021.2 1386.3,1018.9 1386.7,1019.7 1387.1,1017.9 1387.4,1016.8 1387.6,1016.5 1387.7,1016.3 1387.7,1016.1 1387.8,1015.4 1387.8,1016.4 1387.9,1014.8 1387.9,1014.5 1387.9,1012.8 1388.0,1012.8 1388.0,1012.9 1388.1,1011.0 1388.1,1008.6 1388.1,1007.6 1388.2,1007.4 1388.2,1007.5 1388.2,1005.4 1388.2,1004.3 1388.3,1005.4 1388.3,1005.7 1388.3,1002.8 1388.3,1002.7 1388.3,1001.6 1388.3,1000.1 1388.3,1000.1 1388.3,1000.6 1388.3,997.9 1388.3,998.5 1388.4,997.7 1388.4,996.8 1388.4,995.0 1388.4,992.1 1388.4,993.8 1388.6,993.0 1388.9,992.0 1389.4,990.8 1389.8,990.1 1390.2,990.7 1390.7,990.2 1391.1,988.1 1391.4,987.4 1391.5,986.9 1391.5,985.4 1391.5,985.2 1391.6,985.5 1391.6,983.9 1391.6,982.8 1391.6,982.8 1391.6,979.4 1391.6,979.5 1391.7,980.4 1391.7,979.6 1391.7,976.8 1391.7,979.1 1391.7,978.3 1391.7,975.9 1391.8,976.6 1391.8,975.5 1391.9,972.2 1392.1,973.1 1392.5,971.7 1392.8,971.3 1393.1,970.3 1393.5,967.7 1393.8,968.9 1393.9,970.1 1394.0,967.1 1394.1,967.9 1394.1,964.3 1394.1,966.4 1394.1,963.6 1394.1,964.0 1394.2,963.4 1394.2,960.1 1394.2,960.7 1394.2,961.1 1394.2,959.5 1394.3,956.6 1394.4,958.0 1394.6,955.6 1394.9,955.9 1395.2,953.7 1395.4,952.8 1395.7,954.6 1396.0,952.4 1396.3,953.4 1396.5,952.4 1396.8,951.6 1397.1,951.9 1397.4,949.7 1397.7,949.8 1398.0,948.4 1398.4,945.4 1398.8,946.8 1399.1,944.5 1399.5,945.8 1400.0,947.5 1400.5,945.7 1400.9,948.1 1401.4,948.8 1401.9,950.8 1402.3,950.3 1402.5,948.9 1402.8,950.7 1403.0,949.7 1403.2,952.3 1403.4,953.2 1403.6,955.4 1403.8,954.7 1404.0,955.1 1404.3,955.9 1404.5,956.9 1404.6,956.7 1404.7,958.8 1404.7,959.6 1404.8,960.2 1404.8,960.1 1404.8,961.5 1404.8,962.7 1404.9,964.3 1404.9,964.1 1404.9,966.1 1404.9,964.6 1405.0,968.1 1405.0,965.5 1405.0,967.1 1405.0,969.0 1405.1,969.3 1405.1,971.0 1405.1,971.8 1405.1,972.9 1405.2,973.1 1405.3,973.5 1405.4,976.0 1405.6,975.8 1405.8,976.7 1405.9,977.8 1406.0,978.2 1406.1,979.0 1406.2,979.7 1406.2,979.7 1406.2,979.7 1406.2,982.5 1406.2,982.6 1406.2,983.6 1406.2,985.0 1406.2,984.7 1406.2,986.3 1406.2,987.2 1406.2,988.9 1406.2,990.2 1406.2,989.3 1406.2,989.9 1406.2,989.9 1406.2,992.8 1406.3,992.8 1406.3,993.9 1406.3,995.0 1406.3,996.6 1406.3,995.5 1406.3,995.1 1406.3,996.8 1406.3,996.1 1406.3,1000.6 1406.3,998.8 1406.3,999.3 1406.3,1002.5 1406.3,1001.6 1406.4,1004.1 1406.5,1002.3 1406.8,1002.4 1407.2,1005.3 1407.6,1004.4 1408.0,1005.2 1408.4,1007.9 1408.7,1007.0 1408.9,1008.3 1409.0,1008.5 1409.0,1010.7 1409.1,1010.2 1409.1,1010.7 1409.1,1011.1 1409.1,1012.9 1409.1,1014.6 1409.1,1013.4 1409.1,1016.3 1409.1,1015.7 1409.1,1017.3 1409.1,1018.9 1409.1,1018.3 1409.1,1017.7 1409.1,1018.9 1409.1,1022.3 1409.1,1023.2 1409.1,1024.7 1409.1,1023.1 1409.1,1025.1 1409.1,1025.1 1409.1,1025.0 1409.1,1027.8 1409.1,1028.6 1409.2,1029.4 1409.2,1029.4 1409.2,1030.9 1409.2,1030.8 1409.2,1032.5 1409.2,1032.4 1409.2,1032.9 1409.2,1035.7 1409.2,1036.3 1409.2,1036.1 1409.2,1035.5 1409.2,1037.3 1409.2,1035.9 1409.2,1037.6 1409.2,1041.5 1409.2,1038.3 1409.2,1041.3 1409.3,1042.1 1409.5,1041.3 1409.8,1044.3 1410.0,1043.8 1410.3,1046.1 1410.4,1045.8 1410.5,1046.4 1410.5,1047.5 1410.5,1049.6 1410.5,1048.1 1410.5,1050.2 1410.5,1049.5 1410.5,1051.4 1410.5,1052.9 1410.5,1052.9 1410.5,1054.1 1410.5,1054.5 1410.5,1057.3 1410.5,1056.8 1410.5,1056.7 1410.5,1058.2 1410.5,1058.7 1410.5,1060.9 1410.5,1058.6 1410.5,1059.5 1410.5,1060.2 1410.5,1063.1 1410.6,1065.3 1410.6,1065.8 1410.6,1064.9 1410.6,1065.9 1410.6,1067.2 1410.6,1067.4 1410.6,1067.6 1410.6,1069.1 1410.7,1068.6 1410.9,1068.5 1411.3,1073.2 1411.6,1073.3 1412.0,1072.3 1412.3,1075.4 1412.6,1073.8 1412.8,1075.3 1412.9,1075.4 1412.9,1076.5 1412.9,1075.6 1412.9,1078.2 1412.9,1079.4 1412.9,1079.1 1412.9,1080.9 1412.9,1081.9 1412.9,1082.6 1412.9,1082.9 1412.9,1084.5 1412.9,1085.1 1412.9,1084.9 1412.9,1084.0 1412.9,1088.5 1412.9,1087.3 1412.9,1088.9 1412.9,1090.4 1413.0,1089.7 1413.0,1091.6 1413.0,1091.1 1413.0,1092.5 1413.0,1092.1 1413.0,1095.8 1413.0,1095.8 1413.0,1094.2 1413.0,1097.1 1413.0,1098.4 1413.0,1098.1 1413.0,1097.3 1413.1,1099.2 1413.4,1098.5 1413.8,1100.9 1414.1,1102.2 1414.2,1101.7 1414.3,1104.6 1414.4,1102.8 1414.4,1106.1 1414.5,1106.4 1414.5,1106.5 1414.6,1108.2 1414.7,1108.4 1414.7,1110.6 1414.8,1109.8 1414.9,1109.6 1414.9,1112.3 1415.0,1111.3 1415.1,1111.7 1415.1,1112.9 1415.2,1113.6 1415.2,1114.2 1415.3,1113.9 1415.4,1117.7 1415.4,1116.8 1415.5,1118.5 1415.6,1119.7 1415.6,1120.7 1415.7,1120.2 1415.8,1121.4 1415.8,1124.0 1415.9,1123.2 1415.9,1123.9 1416.0,1125.3 1416.1,1126.2 1416.1,1126.5 1416.2,1128.7 1416.3,1127.6 1416.3,1127.5 1416.4,1129.1 1416.5,1131.2 1416.5,1131.0 1416.6,1131.1 1416.6,1132.5 1416.7,1133.2 1416.8,1135.5 1416.8,1134.8 1416.9,1137.8 1417.0,1135.5 1417.0,1137.0 1417.1,1138.6 1417.2,1138.7 1417.2,1137.8 1417.3,1141.9 1417.4,1141.3 1417.4,1141.1 1417.5,1141.3 1417.5,1143.9 1417.6,1145.4 1417.7,1145.8 1417.7,1146.1 1417.8,1146.7 1417.9,1149.6 1417.9,1149.5 1418.0,1149.7 1418.1,1149.9 1418.1,1151.4 1418.2,1152.8 1418.2,1153.5 1418.3,1152.5 1418.4,1153.5 1418.4,1153.9 1418.5,1154.5 1418.6,1157.7 1418.6,1159.4 1418.7,1158.2 1418.8,1158.2 1418.9,1160.8 1419.0,1162.6 1419.1,1161.2 1419.3,1162.6 1419.4,1162.1 1419.5,1163.9 1419.6,1163.5 1419.7,1164.3 1419.9,1165.5 1420.0,1167.6 1420.1,1166.9 1420.2,1167.9 1420.3,1169.5 1420.5,1170.7 1420.6,1171.7 1420.7,1171.6 1420.8,1173.6 1420.9,1174.5 1421.0,1174.5 1421.2,1176.0 1421.3,1176.1 1421.4,1176.3 1421.5,1177.0 1421.6,1178.0 1421.8,1177.7 1421.9,1177.6 1422.0,1180.7 1422.1,1182.3 1422.3,1180.6 1422.5,1184.3 1422.8,1182.6 1423.0,1184.3 1423.3,1184.6 1423.5,1185.0 1423.7,1186.7 1424.0,1186.2 1424.2,1188.7 1424.5,1189.1 1424.7,1189.4 1424.9,1191.6 1425.2,1191.8 1425.4,1191.9 1425.7,1192.8 1425.9,1193.6 1426.1,1194.8 1426.4,1194.0 1426.6,1194.3 1426.9,1196.7 1427.1,1197.3 1427.3,1199.0 1427.6,1198.7 1427.8,1199.6 1428.1,1200.7 1428.3,1201.5 1428.6,1202.1 1428.8,1202.9 1429.1,1203.6 1429.4,1202.5 1429.7,1206.3 1430.0,1205.6 1430.2,1206.0 1430.5,1205.2 1430.8,1207.4 1431.1,1208.7 1431.4,1209.7 1431.6,1210.5 1431.9,1209.2 1432.2,1210.0 1432.5,1214.2 1432.8,1211.3 1433.0,1213.6 1433.3,1214.3 1433.6,1214.7 1433.9,1214.0 1434.2,1216.3 1434.5,1217.7 1434.7,1216.3 1435.0,1218.9 1435.3,1219.4 1435.6,1219.9 1435.9,1220.3 1436.1,1220.8 1436.4,1223.5 1436.7,1223.6 1437.0,1224.2 1437.3,1225.6 1437.6,1224.6 1438.0,1227.1 1438.3,1227.1 1438.6,1227.8 1439.0,1227.5 1439.3,1229.1 1439.6,1229.1 1440.0,1231.6 1440.3,1231.5 1440.6,1233.4 1441.0,1233.2 1441.3,1233.4 1441.7,1235.2 1442.0,1236.3 1442.3,1235.8 1442.7,1237.0 1443.0,1237.1 1443.3,1238.3 1443.7,1238.4 1444.0,1240.0 1444.3,1239.6 1444.7,1239.2 1445.0,1241.3 1445.3,1240.9 1445.7,1242.0 1446.2,1242.0 1446.6,1245.9 1447.1,1245.0 1447.6,1245.4 1448.1,1245.5 1448.6,1246.9 1449.1,1247.1 1449.6,1248.2 1450.1,1250.4 1450.6,1251.5 1451.1,1248.1 1451.6,1250.2 1452.0,1251.5 1452.5,1251.0 1453.0,1252.1 1453.5,1253.3 1454.0,1253.8 1454.5,1253.1 1455.0,1253.2 1455.5,1253.8 1456.1,1256.0 1456.7,1257.7 1457.4,1259.1 1458.1,1258.1 1458.8,1257.1 1459.5,1257.1 1460.1,1260.2 1460.8,1259.1 1461.5,1261.7 1462.2,1261.1 1462.8,1260.7 1463.5,1262.5 1464.2,1261.3 1464.9,1262.0 1465.6,1261.5 1466.2,1263.3 1466.9,1262.6 1467.7,1263.5 1468.4,1263.2 1469.2,1264.7 1469.9,1265.3 1470.7,1264.8 1471.5,1265.9 1472.2,1264.1 1473.0,1264.7 1473.8,1264.4 1474.5,1263.5 1475.3,1264.6 1476.1,1265.8 1476.8,1265.9 1477.6,1266.8 1478.4,1268.7 1479.1,1267.0 1479.9,1268.8 1480.7,1267.7 1481.4,1267.0 1482.2,1267.3 1482.9,1265.8 1483.7,1266.0 1484.4,1265.6 1485.2,1266.8 1485.9,1265.8 1486.7,1265.7 1487.4,1264.9 1488.1,1265.2 1488.9,1263.4 1489.6,1266.4 1490.4,1263.8 1491.1,1262.1 1491.9,1264.7 1492.6,1263.1 1493.3,1264.4 1494.1,1262.7 1494.8,1261.0 1495.6,1262.9 1496.4,1262.5 1497.2,1265.1 1497.9,1265.3 1498.7,1262.4 1499.5,1264.7 1500.3,1261.9 1501.1,1263.8 1501.8,1264.1 1502.6,1265.4 1503.4,1264.2 1504.2,1264.1 1504.9,1264.2 1505.7,1266.4 1506.5,1266.1 1507.2,1265.7 1508.0,1265.0 1508.7,1264.1 1509.4,1265.8 1510.1,1263.3 1510.8,1265.2 1511.5,1264.3 1512.3,1261.6 1513.0,1263.4 1513.7,1263.5 1514.4,1262.8 1515.1,1260.3 1515.8,1262.2 1516.5,1261.6 1517.3,1259.1 1518.0,1260.0 1518.7,1261.6 1519.5,1260.4 1520.3,1261.2 1521.1,1260.0 1521.8,1259.8 1522.6,1261.2 1523.4,1262.0 1524.2,1261.7 1524.9,1261.1 1525.7,1260.2 1526.5,1262.5 1527.3,1262.4 1528.0,1264.2 1528.8,1263.0 1529.6,1264.1 1530.4,1262.2 1531.1,1264.2 1531.9,1261.8 1532.7,1261.8 1533.5,1263.9 1534.2,1263.2 1535.0,1264.3 1535.8,1264.1 1536.6,1263.1 1537.3,1264.5 1538.1,1263.8 1538.9,1265.2 1539.7,1264.3 1540.5,1265.5 1541.3,1265.6 1542.0,1267.8 1542.8,1265.7 1543.6,1267.9 1544.4,1266.0 1545.2,1267.5 1546.0,1267.2 1546.7,1266.6 1547.5,1267.8 1548.3,1266.4 1549.1,1267.0 1549.9,1268.0 1550.7,1267.2 1551.4,1265.9 1552.2,1267.1 1553.0,1269.8 1553.8,1269.0 1554.6,1268.5 1555.3,1267.7 1556.1,1268.1 1556.9,1267.7 1557.7,1270.0 1558.5,1269.6 1559.3,1271.3 1560.0,1271.4 1560.8,1270.1 1561.6,1270.5 1562.4,1270.5 1563.2,1271.0 1564.0,1269.8 1564.7,1268.8 1565.5,1270.5 1566.3,1271.3 1567.1,1272.6 1567.9,1270.4 1568.7,1270.5 1569.5,1270.9 1570.3,1271.1 1571.1,1272.7 1571.9,1270.2 1572.7,1273.9 1573.4,1272.4 1574.2,1273.4 1575.0,1272.2 1575.8,1272.9 1576.6,1271.0 1577.4,1273.1 1578.2,1272.2 1579.0,1272.9 1579.8,1272.1 1580.6,1272.9 1581.4,1273.8 1582.2,1272.4 1583.0,1274.0 1583.8,1275.4 1584.6,1273.3 1585.4,1274.9 1586.1,1273.4 1586.9,1275.4 1587.7,1275.3 1588.5,1273.6 1589.3,1273.6 1590.1,1274.7 1590.9,1274.7 1591.7,1274.3 1592.5,1274.1 1593.3,1273.2 1594.1,1274.3 1594.9,1274.6 1595.7,1276.9 1596.5,1276.1 1597.3,1274.3 1598.1,1275.2 1598.8,1274.2 1599.6,1276.0 1600.4,1277.5 1601.2,1275.8 1602.0,1275.9 1602.8,1277.0 1603.6,1275.4 1604.4,1277.9 1605.2,1277.3 1606.0,1275.1 1606.8,1275.5 1607.6,1275.8 1608.4,1276.5 1609.2,1277.0 1609.9,1277.3 1610.7,1277.7 1611.5,1277.8 1612.3,1278.0 1613.1,1278.4 1613.9,1278.9 1614.7,1278.0 1615.5,1278.0 1616.3,1276.2 1617.1,1277.5 1617.9,1278.1 1618.7,1279.3 1619.5,1278.6 1620.3,1277.8 1621.0,1279.3 1621.8,1279.1 1622.6,1278.9 1623.4,1277.1 1624.2,1278.4 1625.0,1278.2 1625.8,1278.5 1626.6,1281.1 1627.4,1278.6 1628.2,1277.5 1629.0,1280.5 1629.8,1279.4 1630.6,1280.4 1631.4,1281.5 1632.1,1280.2 1632.9,1278.1 1633.7,1279.1 1634.5,1279.7 1635.3,1280.1 1636.1,1279.6 1636.9,1279.4 1637.7,1282.6 1638.5,1280.9 1639.3,1280.9 1640.1,1282.5 1640.9,1279.4 1641.7,1279.8 1642.4,1282.6 1643.2,1281.8 1644.0,1281.7 1644.8,1282.6 1645.6,1280.4 1646.4,1282.1 1647.2,1282.8 1648.0,1282.7 1648.8,1283.2 1649.6,1281.6 1650.4,1280.4 1651.2,1283.9 1652.0,1282.9 1652.8,1282.0 1653.6,1281.2 1654.4,1281.4 1655.1,1281.8 1655.9,1282.0 1656.7,1284.0 1657.5,1283.5 1658.3,1283.8 1659.1,1284.1 1659.9,1283.2 1660.7,1284.2 1661.5,1284.0 1662.3,1284.7 1663.1,1285.3 1663.9,1283.6 1664.7,1283.3 1665.5,1285.0 1666.3,1284.7 1667.1,1285.5 1667.8,1284.3 1668.6,1284.4 1669.4,1283.3 1670.2,1284.6 1671.0,1284.3 1671.8,1285.5 1672.6,1284.3 1673.4,1285.0 1674.2,1285.6 1675.0,1287.6 1675.8,1286.2 1676.6,1286.4 1677.4,1285.7 1678.2,1286.0 1679.0,1285.7 1679.8,1286.2 1680.6,1288.0 1681.4,1285.7 1682.2,1285.3 1682.9,1285.1 1683.7,1287.6 1684.5,1286.5 1685.3,1286.5 1686.1,1288.2 1686.9,1288.8 1687.7,1287.3 1688.5,1286.4 1689.3,1288.3 1690.1,1287.2 1690.9,1288.6 1691.7,1287.8 1692.5,1287.1 1693.3,1286.7 1694.1,1287.7 1694.9,1287.1 1695.7,1288.6 1696.5,1286.8 1697.3,1287.4 1698.1,1286.3 1698.9,1287.4 1699.7,1289.0 1700.5,1288.0 1701.3,1289.1 1702.1,1287.5 1702.9,1288.0 1703.7,1288.7 1704.5,1290.0 1705.3,1288.4 1706.1,1286.5 1706.9,1289.7 1707.7,1289.5 1708.5,1288.8 1709.3,1290.8 1710.1,1289.4 1710.8,1289.6 1711.6,1288.8 1712.4,1288.9 1713.2,1289.1 1714.0,1289.9 1714.8,1291.3 1715.6,1291.3 1716.4,1290.5 1717.2,1290.7 1718.0,1289.7 1718.8,1288.4 1719.6,1288.2 1720.4,1287.6 1721.2,1290.0 1722.0,1290.9 1722.8,1290.1 1723.6,1290.5 1724.4,1290.6 1725.2,1291.0 1726.0,1289.0 1726.8,1290.1 1727.6,1291.4 1728.4,1289.7 1729.2,1290.0 1730.0,1290.3 1730.8,1290.0 1731.6,1290.8 1732.4,1291.9 1733.2,1291.3 1734.0,1289.4 1734.8,1291.3 1735.6,1290.3 1736.4,1291.1 1737.2,1290.5 1738.0,1291.8 1738.8,1289.7 1739.6,1291.5 1740.4,1292.7 1741.2,1291.0 1742.0,1290.1 1742.8,1290.2 1743.6,1292.2 1744.4,1291.0 1745.2,1291.3 1746.0,1291.1 1746.8,1290.9 1747.6,1293.1 1748.4,1289.2 1749.2,1292.3 1750.0,1292.7 1750.8,1291.3 1751.6,1289.8 1752.4,1291.9 1753.2,1291.0 1754.0,1291.6 1754.8,1292.7 1755.6,1291.0 1756.4,1290.9 1757.2,1293.4 1758.0,1291.4 1758.8,1291.7 1759.6,1292.9 1760.4,1290.9 1761.2,1292.1 1762.0,1290.9 1762.8,1291.1 1763.6,1290.8 1764.4,1291.0 1765.2,1293.7 1766.0,1292.4 1766.8,1290.4 1767.6,1290.7 1768.4,1291.3 1769.2,1292.3 1770.0,1290.1 1770.8,1292.6 1771.6,1290.5 1772.4,1290.0 1773.2,1291.3 1774.0,1290.6 1774.8,1289.9 1775.6,1291.4 1776.4,1291.4 1777.2,1292.0 1778.0,1291.7 1778.8,1292.0 1779.6,1293.0 1780.4,1290.6 1781.2,1292.3 1782.0,1291.8 1782.8,1292.2 1783.6,1292.5 1784.4,1291.3 1785.2,1292.9 1786.0,1292.3 1786.8,1291.4 1787.6,1292.5 1788.4,1290.9 1789.2,1294.2 1790.0,1291.2 1790.8,1293.2 1791.6,1291.9 1792.4,1292.6 1793.2,1292.8 1794.0,1291.4 1794.8,1291.2 1795.6,1293.2 1796.4,1292.1 1797.2,1291.6 1798.0,1293.9 1798.8,1294.3 1799.6,1291.4 1800.4,1293.2 1801.2,1292.9 1802.0,1291.9 1802.8,1292.9 1803.6,1290.4 1804.4,1294.2 1805.2,1294.3 1806.0,1294.0 1806.8,1291.9 1807.6,1293.0 1808.4,1292.3 1809.2,1291.5 1810.0,1291.2 1810.8,1291.2 1811.6,1291.5 1812.4,1291.0 1813.2,1293.1 1814.0,1293.0 1814.8,1294.0 1815.6,1292.9 1816.4,1293.7 1817.2,1294.0 1818.0,1291.3 1818.8,1293.9 1819.6,1291.4 1820.4,1293.3 1821.2,1292.7 1822.0,1291.5 1822.8,1293.5 1823.6,1291.3 1824.4,1291.8 1825.2,1292.0 1826.0,1290.8 1826.8,1294.5 1827.6,1294.4 1828.4,1293.6 1829.2,1294.0 1830.0,1293.1 1830.8,1292.6 1831.6,1292.4 1832.4,1290.8 1833.2,1292.9 1834.0,1291.4 1834.8,1292.7 1835.6,1292.1 1836.4,1291.8 1837.2,1294.9 1838.0,1294.8 1838.8,1291.9 1839.6,1292.2 1840.4,1291.9 1841.2,1293.8 1842.0,1295.0 1842.8,1293.9 1843.6,1295.3 1844.4,1292.7 1845.2,1292.8 1846.0,1293.3 1846.8,1295.6 1847.6,1294.4 1848.4,1291.7 1849.2,1291.7 1850.0,1293.3 1850.8,1295.9 1851.6,1294.4 1852.4,1292.4 1853.2,1294.2 1854.0,1293.1 1854.8,1294.5 1855.6,1294.2 1856.4,1293.9 1857.2,1292.9 1858.0,1295.6 1858.8,1295.6 1859.6,1294.9 1860.4,1293.1 1861.2,1294.1 1862.0,1294.8 1862.8,1295.3 1863.6,1294.3 1864.4,1294.3 1865.2,1295.4 1866.0,1295.5 1866.8,1294.0 1867.6,1296.4 1868.3,1293.6 1869.1,1296.0 1869.9,1294.8 1870.7,1296.5 1871.5,1293.7 1872.3,1295.3 1873.1,1294.6 1873.9,1293.9 1874.7,1295.9 1875.5,1293.7 1876.3,1296.7 1877.1,1296.5 1877.9,1295.5 1878.7,1294.8 1879.5,1295.2 1880.3,1296.4 1881.1,1295.3 1881.9,1295.0 1882.7,1297.7 1883.5,1297.7 1884.3,1294.8 1885.1,1296.2 1885.9,1297.1 1886.7,1297.5 1887.5,1296.4 1888.3,1297.9 1889.1,1298.6 1889.9,1296.9 1890.7,1297.5 1891.5,1297.4 1892.2,1297.5 1893.0,1298.2 1893.8,1297.0 1894.6,1296.4 1895.4,1298.5 1896.2,1296.3 1897.0,1298.1 1897.8,1297.7 1898.6,1297.7 1899.4,1299.3 1900.2,1297.1 1901.0,1298.9 1901.8,1298.4 1902.6,1297.4 1903.4,1299.0 1904.2,1297.6 1905.0,1296.9 1905.8,1297.6 1906.6,1297.7 1907.4,1298.0 1908.2,1299.3 1909.0,1298.2 1909.8,1300.6 1910.6,1298.3 1911.4,1300.5 1912.2,1299.6 1913.0,1298.5 1913.8,1298.7 1914.6,1299.5 1915.4,1299.3 1916.2,1299.5 1917.0,1300.2 1917.8,1297.9 1918.6,1300.0 1919.4,1299.8 1920.2,1300.1 1921.0,1300.2 1921.8,1299.9 1922.6,1299.3 1923.4,1299.1 1924.2,1300.4 1925.0,1301.3 1925.7,1298.4 1926.5,1299.7 1927.3,1299.8 1928.1,1299.7 1928.9,1301.1 1929.7,1301.4 1930.5,1300.2 1931.3,1301.0 1932.1,1300.6 1932.9,1300.0 1933.7,1302.1 1934.5,1302.6 1935.3,1300.8 1936.1,1298.8 1936.9,1299.7 1937.7,1300.9 1938.5,1300.6 1939.3,1301.5 1940.1,1300.9 1940.9,1300.4 1941.7,1300.0 1942.5,1302.4 1943.3,1301.6 1944.1,1301.4 1944.9,1301.4 1945.7,1301.0 1946.5,1303.0 1947.3,1301.2 1948.1,1303.7 1948.9,1302.3 1949.7,1301.6 1950.5,1301.5 1951.3,1302.7 1952.1,1302.1 1952.9,1301.4 1953.7,1300.7 1954.5,1300.6 1955.3,1303.2 1956.1,1302.8 1956.9,1300.4 1957.7,1303.2 1958.5,1302.2 1959.3,1302.8 1960.1,1303.1 1960.9,1303.6 1961.6,1302.4 1962.4,1302.0 1963.2,1302.9 1964.0,1303.0 1964.7,1303.2 1965.5,1303.8 1966.3,1303.9 1967.1,1302.6 1967.8,1305.3 1968.6,1304.8 1969.4,1306.0 1970.2,1303.5 1971.0,1304.8 1971.7,1305.3 1972.5,1304.8 1973.3,1307.9 1974.1,1307.2 1974.8,1308.0 1975.6,1306.7 1976.4,1307.4 1977.2,1307.4 1977.9,1307.5 1978.7,1308.3 1979.5,1308.8 1980.3,1307.1 1981.0,1308.3 1981.8,1307.9 1982.6,1307.4 1983.4,1307.8 1984.2,1308.3 1985.0,1309.5 1985.8,1310.0 1986.6,1310.6 1987.4,1307.5 1988.2,1308.2 1989.0,1308.9 1989.8,1309.2 1990.6,1310.9 1991.4,1309.8 1992.2,1309.9 1993.0,1309.6 1993.8,1308.4 1994.6,1309.7 1995.3,1308.4 1996.1,1311.0 1996.9,1307.5 1997.7,1310.2 1998.5,1308.8 1999.3,1310.7 2000.1,1308.6 2000.9,1310.5 2001.7,1310.6 2002.5,1309.7 2003.3,1308.8 2004.1,1310.2 2004.9,1309.2 2005.7,1310.4 2006.5,1309.5 2007.3,1311.0 2008.1,1309.6 2008.9,1309.2 2009.7,1309.2 2010.5,1310.5 2011.3,1311.7 2012.1,1311.6 2012.9,1310.1 2013.7,1310.4 2014.5,1309.8 2015.3,1309.2 2016.1,1311.4 2016.9,1310.5 2017.7,1309.8 2018.5,1311.2 2019.3,1310.3 2020.1,1311.7 2020.9,1309.5 2021.7,1312.3 2022.5,1311.9 2023.3,1311.0 2024.1,1312.1 2024.9,1310.0 2025.7,1311.9 2026.5,1310.0 2027.3,1309.3 2028.1,1309.3 2028.9,1310.1 2029.7,1309.1 2030.5,1311.0 2031.3,1310.3 2032.1,1310.0 2032.9,1311.1 2033.7,1309.5 2034.5,1308.9 2035.3,1309.2 2036.1,1310.5 2036.9,1310.2 2037.7,1310.8 2038.5,1312.4 2039.3,1308.8 2040.1,1312.4 2040.9,1311.3 2041.7,1311.4 2042.5,1310.4 2043.3,1310.3 2044.1,1308.9 2044.9,1310.1 2045.7,1308.7 2046.5,1309.8 2047.3,1311.0 2048.1,1308.9 2048.9,1311.0 2049.7,1311.1 2050.5,1311.1 2051.3,1310.3 2052.1,1309.1 2052.9,1308.5 2053.7,1308.5 2054.5,1308.5 2055.3,1311.3 2056.1,1310.0 2056.9,1309.2 2057.7,1310.4 2058.5,1310.0 2059.3,1311.1 2060.1,1310.0 2060.9,1308.5 2061.7,1309.8 2062.5,1309.1 2063.3,1310.9 2064.1,1310.5 2064.9,1310.0 2065.7,1311.3 2066.5,1310.3 2067.3,1311.2 2068.1,1310.6 2068.9,1309.4 2069.7,1311.6 2070.5,1312.5 2071.3,1309.0 2072.1,1309.5 2072.9,1309.6 2073.7,1310.4 2074.6,1312.5 2075.4,1310.3 2076.2,1309.5 2077.0,1308.6 2077.8,1308.8 2078.6,1311.1 2079.4,1309.9 2080.2,1308.6 2081.0,1309.2 2081.8,1308.8 2082.6,1310.2 2083.4,1311.5 2084.2,1310.8 2085.0,1309.1 2085.8,1310.5 2086.6,1312.5 2087.4,1308.6 2088.2,1311.0 2089.0,1312.5 2089.8,1309.2 2090.6,1309.1 2091.4,1311.4 2092.2,1311.2 2093.0,1310.1 2093.8,1311.2 2094.6,1310.0 2095.4,1310.0 2096.2,1310.8 2097.0,1310.3 2097.8,1309.6 2098.6,1309.3 2099.4,1310.5 2100.2,1310.1 2101.0,1310.0 2101.8,1309.8 2102.6,1311.7 2103.4,1312.5 2104.2,1312.1 2105.0,1310.7 2105.8,1309.7 2106.6,1310.7 2107.4,1311.7 2108.2,1311.1 2109.0,1309.6 2109.8,1309.7 2110.6,1311.5 2111.4,1310.5 2112.2,1308.6 2113.0,1310.4 2113.8,1309.0 2114.6,1311.1 2115.4,1309.8 2116.2,1310.5 2117.0,1310.4 2117.8,1310.6 2118.6,1309.7 2119.4,1311.1 2120.2,1312.2 2121.0,1309.8 2121.8,1309.7 2122.6,1309.1 2123.4,1310.4 2124.2,1309.6 2125.0,1312.1 2125.8,1311.0 2126.6,1310.6 2127.4,1309.8 2128.2,1312.0 2129.0,1309.0 2129.8,1311.9 2130.6,1311.5 2131.4,1310.1 2132.2,1310.4 2133.0,1309.8 2133.8,1311.8 2134.6,1310.3 2135.4,1310.1 2136.2,1309.2 2137.0,1312.5 2137.8,1310.0 2138.6,1308.7 2139.4,1310.9 2140.2,1311.0 2141.0,1309.4 2141.8,1311.4 2142.6,1310.0 2143.4,1311.5 2144.2,1310.0 2145.0,1309.1 2145.8,1309.0 2146.6,1311.0 2147.4,1309.6 2148.2,1311.0 2149.0,1311.8 2149.8,1309.6 2150.6,1310.3 2151.4,1312.2 2152.2,1310.6 2153.0,1311.4 2153.8,1310.4 2154.6,1311.7 2155.4,1309.5 2156.2,1309.6 2157.0,1310.9 2157.8,1309.1 2158.6,1308.4 2159.4,1309.8 2160.2,1311.7 2161.0,1310.7 2161.8,1309.8 2162.6,1310.9 2163.4,1310.9 2164.2,1311.0 2165.0,1310.3 2165.8,1310.3 2166.6,1310.8 2167.4,1309.7 2168.2,1310.8 2169.0,1311.4 2169.8,1310.3 2170.6,1310.2 2171.4,1309.7 2172.2,1308.7 2173.0,1309.0 2173.8,1308.7 2174.6,1310.1 2175.4,1310.8 2176.2,1308.8 2177.0,1310.7 2177.8,1309.6 2178.6,1309.8 2179.4,1309.7 2180.2,1308.9 2181.0,1310.1 2181.8,1311.6 2182.6,1309.1 2183.4,1308.8 2184.2,1311.0 2185.0,1310.6 2185.8,1309.2 2186.6,1309.9 2187.4,1309.6 2188.2,1309.7 2189.0,1311.0 2189.8,1308.4 2190.6,1309.4 2191.4,1311.9 2192.2,1311.9 2193.0,1309.0 2193.8,1309.1 2194.6,1308.4 2195.4,1311.2 2196.2,1311.8 2196.7,1309.6"/>
<polyline class="curve" stroke="#ff00ff" points="218.5,892.7 219.0,894.4 219.8,891.7 220.6,892.9 221.4,893.1 222.2,892.1 223.0,895.4 223.8,894.9 224.6,892.8 225.4,894.4 226.2,894.0 227.0,891.5 227.8,893.5 228.6,893.4 229.5,893.6 230.3,892.1 231.1,892.7 231.9,892.7 232.7,894.0 233.5,893.3 234.3,893.1 235.1,894.9 235.9,893.0 236.7,893.3 237.5,891.6 238.3,894.5 239.1,894.2 239.9,894.6 240.7,894.2 241.5,893.4 242.3,893.5 243.1,893.0 243.9,893.3 244.7,893.9 245.5,895.3 246.3,894.3 247.1,893.8 247.9,893.1 248.7,893.0 249.5,895.5 250.3,894.2 251.1,893.6 252.0,893.5 252.8,892.8 253.6,893.7 254.4,894.8 255.2,893.5 256.0,893.8 256.8,894.2 257.6,894.3 258.4,892.0 259.2,893.6 260.0,893.2 260.8,895.0 261.6,893.3 262.4,894.7 263.2,895.9 264.0,894.0 264.8,893.4 265.6,894.1 266.4,893.9 267.2,892.8 268.0,894.2 268.8,895.8 269.6,893.8 270.4,894.2 271.2,893.2 272.0,894.1 272.8,892.4 273.6,892.7 274.5,894.9 275.3,892.7 276.1,895.2 276.9,896.0 277.7,894.6 278.5,894.6 279.3,895.9 280.1,893.9 280.9,893.7 281.7,892.7 282.5,894.0 283.3,895.6 284.1,895.0 284.9,892.8 285.7,892.8 286.5,893.3 287.3,894.4 288.1,894.1 288.9,894.6 289.7,894.5 290.5,893.8 291.3,894.1 292.1,894.5 292.9,894.2 293.7,894.5 294.5,895.8 295.3,894.4 296.1,893.4 297.0,892.0 297.8,894.0 298.6,892.0 299.4,892.8 300.2,895.4 301.0,894.8 301.8,893.6 302.6,892.3 303.4,893.8 304.2,893.3 305.0,894.7 305.8,896.0 306.6,894.4 307.4,893.0 308.2,892.7 309.0,893.8 309.8,893.6 310.6,892.6 311.4,894.1 312.2,893.0 313.0,895.4 313.8,895.1 314.6,895.0 315.4,893.2 316.2,893.9 317.0,893.4 317.8,893.3 318.7,893.3 319.5,892.4 320.3,892.3 321.1,894.7 321.9,893.8 322.7,894.4 323.5,895.0 324.3,892.0 325.1,893.5 325.9,894.7 326.7,894.6 327.5,893.5 328.3,894.9 329.1,894.1 329.9,892.8 330.7,893.1 331.5,894.7 332.3,894.2 333.1,892.0 333.9,895.2 334.7,894.8 335.5,895.7 336.3,893.8 337.1,893.7 337.9,892.6 338.7,896.0 339.5,893.6 340.4,895.5 341.2,893.2 342.0,893.8 342.8,892.0 343.6,893.4 344.4,895.2 345.2,892.5 346.0,894.7 346.8,894.4 347.6,893.0 348.4,893.1 349.2,893.1 350.0,893.4 350.8,892.9 351.6,893.0 352.4,893.6 353.2,892.7 354.0,892.4 354.8,893.7 355.6,894.6 356.4,892.0 357.2,893.3 358.0,892.8 358.8,892.9 359.6,894.8 360.4,893.2 361.2,895.3 362.0,892.8 362.9,894.0 363.7,893.6 364.5,892.9 365.3,894.3 366.1,893.7 366.9,894.7 367.7,894.0 368.5,892.7 369.3,893.3 370.1,893.4 370.9,894.9 371.7,893.1 372.5,893.8 373.3,892.1 374.1,894.7 374.9,892.9 375.7,892.0 376.5,893.7 377.3,894.9 378.1,892.0 378.9,892.6 379.7,893.1 380.5,892.9 381.3,894.7 382.1,893.2 382.9,892.5 383.7,893.7 384.5,892.6 385.4,893.8 386.2,892.5 387.0,892.2 387.8,891.5 388.6,894.7 389.4,892.9 390.2,893.7 391.0,893.4 391.8,893.5 392.6,893.1 393.4,894.9 394.2,892.0 395.0,891.4 395.8,891.9 396.6,891.9 397.4,894.3 398.2,894.2 399.0,892.1 399.8,891.5 400.6,892.5 401.4,894.5 402.2,891.3 403.0,893.7 403.8,892.2 404.6,894.7 405.4,892.5 406.2,892.9 407.0,891.6 407.9,892.2 408.7,894.4 409.5,893.5 410.3,892.4 411.1,892.2 411.9,891.1 412.7,892.5 413.5,893.0 414.3,893.1 415.1,892.6 415.9,891.0 416.7,892.0 417.5,891.7 418.3,893.0 419.1,894.3 419.9,892.8 420.7,891.9 421.5,892.2 422.3,891.7 423.1,892.0 423.9,892.7 424.7,891.5 425.5,893.1 426.3,892.5 427.1,893.0 427.9,892.5 428.7,891.6 429.3,891.2"/>
<polyline class="curve" stroke="#ff00ff" points="421.2,891.8 421.2,890.6 421.2,892.9 421.2,889.6 421.2,888.2 421.2,890.0 421.2,887.2 421.2,888.5 421.2,887.2 421.2,886.9 421.2,885.4 421.2,883.7 421.2,883.9 421.2,883.1 421.2,882.6 421.2,881.9 421.2,880.2 421.2,879.0 421.2,878.8 421.2,878.1 421.2,879.4 421.2,877.0 421.2,876.2 421.2,876.0 421.2,874.6 421.2,875.1 421.2,872.0 421.2,871.8 421.2,869.9 421.2,870.2 421.2,868.2 421.2,866.6 421.2,867.2 421.2,868.5 421.2,867.2 421.2,866.5 421.2,863.8 421.2,864.8 421.2,863.1 421.2,861.0 421.2,860.4 421.2,861.1 421.2,858.4 421.2,860.0 421.2,860.0 421.2,856.1 421.2,856.3 421.2,855.8 421.2,854.7 421.2,853.9 421.2,854.1 421.2,853.6 421.2,853.3 421.3,853.5 421.4,854.9 421.5,855.9 421.6,856.5 421.7,856.4 421.8,856.6 422.0,858.8 422.1,859.0 422.2,859.2 422.3,860.5 422.4,863.3 422.7,861.0 423.2,861.9 424.0,863.3 424.8,862.4 425.6,860.7 426.4,863.1 427.2,861.4 428.0,862.7 428.8,862.6 429.6,864.2 430.4,862.7 431.2,861.9 432.0,862.6 432.8,861.8 433.6,861.7 434.4,864.2 435.2,863.6 436.0,862.7 436.8,860.8 437.6,861.9 438.4,864.2 439.2,863.4 440.0,863.0 440.8,862.8 441.6,860.6 442.4,862.0 443.2,862.8 444.0,862.4 444.8,861.6 445.6,862.5 446.4,863.2 447.2,861.2 448.0,861.0 448.8,861.1 449.6,860.3 450.4,860.8 451.2,860.6 452.0,860.3 452.8,861.3 453.6,860.6 454.4,860.8 455.2,862.8 456.0,862.5 456.8,862.1 457.6,861.3 458.4,861.5 459.2,862.2 460.0,863.6 460.8,861.4 461.6,861.3 462.4,861.5 463.2,862.7 464.0,862.4 464.8,864.1 465.6,863.0 466.4,862.3 467.2,863.3 468.0,863.3 468.8,861.1 469.6,863.6 470.4,863.0 471.2,861.0 472.0,861.3 472.8,861.0 473.6,862.9 474.4,863.1 475.2,863.7 476.0,861.6 476.8,864.2 477.6,863.0 478.4,862.2 479.2,862.1 480.0,862.4 480.8,861.6 481.6,863.0 482.4,861.6 483.2,862.6 484.0,863.6 484.8,862.2 485.6,862.3 486.4,861.4 487.2,863.2 488.0,861.3 488.8,861.8 489.6,864.2 490.4,860.3 491.2,863.3 492.0,862.5 492.8,860.6 493.6,862.2 494.4,863.4 495.2,861.9 496.0,863.2 496.8,861.6 497.6,863.0 498.4,862.1 499.2,860.2 500.0,862.1 500.8,860.2 501.6,862.5 502.4,862.9 503.2,864.2 504.0,862.6 504.8,861.8 505.6,864.3 506.4,862.5 507.2,863.9 508.0,862.3 508.8,860.5 509.6,860.8 510.4,861.1 511.2,862.5 512.0,862.5 512.8,861.5 513.6,861.9 514.4,860.9 515.2,862.5 516.0,862.3 516.8,860.6 517.6,862.9 518.4,863.2 519.2,862.2 520.0,863.7 520.8,864.5 521.6,864.5 522.4,863.8 523.2,863.6 524.0,864.3 524.8,864.6 525.6,863.1 526.4,863.2 527.2,861.5 528.0,863.6 528.8,863.6 529.6,863.1 530.4,863.0 531.2,862.7 532.0,863.3 532.8,862.5 533.6,862.6 534.4,863.1 535.2,862.0 536.0,862.9 536.8,862.3 537.6,862.6 538.4,862.4 539.2,862.1 540.0,862.9 540.8,863.6 541.6,863.0 542.4,862.1 543.2,863.6 544.0,863.2 544.8,863.4 545.6,861.6 546.4,862.3 547.2,862.1 548.0,862.5 548.8,864.1 549.6,863.8 550.4,863.0 551.2,862.0 552.0,865.1 552.8,862.9 553.6,862.9 554.4,864.6 555.3,861.1 556.1,863.7 556.9,863.1 557.7,862.7 558.5,863.9 559.3,861.3 560.1,862.2 560.9,865.1 561.7,861.3 562.5,863.2 563.3,862.9 564.1,863.2 564.9,862.9 565.7,863.0 566.5,864.0 567.3,863.2 568.1,863.4 568.9,862.1 569.7,863.9 570.5,864.0 571.3,862.4 572.1,864.0 572.9,863.5 573.7,863.4 574.5,865.0 575.3,864.3 576.1,864.0 576.9,862.9 577.7,863.3 578.5,862.4 579.3,863.1 580.1,863.5 580.9,862.4 581.7,864.8 582.5,864.1 583.3,864.2 584.1,863.2 584.9,865.6 585.7,863.4 586.5,863.0 587.3,864.4 588.1,864.2 588.9,864.0 589.7,863.9 590.5,864.2 591.3,863.5 592.1,863.9 592.9,865.2 593.7,863.9 594.5,864.3 595.3,864.8 596.1,863.3 596.9,864.7 597.7,863.5 598.5,865.4 599.3,865.4 600.1,865.4 600.9,865.1 601.7,863.9 602.5,865.2 603.3,862.7 604.1,862.3 604.9,863.4 605.7,862.9 606.5,864.4 607.3,865.7 608.1,862.9 608.9,863.5 609.7,862.9 610.5,864.8 611.3,864.9 612.1,864.2 612.9,863.4 613.7,864.4 614.5,865.6 615.3,865.4 616.1,865.1 616.9,864.0 617.7,863.6 618.5,862.4 619.3,864.1 620.1,863.4 620.9,863.2 621.7,864.7 622.5,864.0 623.3,863.9 624.1,864.7 624.9,863.3 625.7,862.4 626.5,864.7 627.3,865.5 628.1,863.2 628.9,865.7 629.7,862.8 630.5,863.5 631.3,864.8 632.1,864.5 632.9,866.3 633.7,865.8 634.5,864.0 635.3,863.7 636.1,865.0 636.9,862.7 637.7,865.9 638.5,865.2 639.3,865.9 640.1,865.0 640.9,864.2 641.7,865.7 642.5,864.3 643.3,865.9 644.1,866.1 644.9,866.7 645.7,864.9 646.5,865.7 647.3,866.0 648.1,866.5 648.9,865.8 649.7,863.4 650.5,866.0 651.3,865.1 652.1,863.3 652.9,865.7 653.7,864.2 654.5,863.5 655.3,864.8 656.1,864.9 656.9,864.4 657.7,865.0 658.5,864.8 659.3,864.9 660.1,865.6 660.9,865.5 661.7,866.4 662.5,863.1 663.3,865.3 664.1,864.1 664.9,864.5 665.7,865.1 666.5,865.6 667.3,866.3 668.1,865.0 668.9,864.5 669.7,865.2 670.5,866.1 671.3,866.3 672.1,866.8 672.9,866.0 673.7,866.7 674.5,866.7 675.3,866.5 676.1,865.3 676.9,865.3 677.7,864.1 678.5,864.1 679.3,865.5 680.1,865.6 680.9,865.9 681.7,866.1 682.5,864.2 683.3,865.6 684.1,865.6 684.9,866.1 685.7,863.6 686.5,866.8 687.3,865.6 688.1,863.6 688.9,864.6 689.7,866.5 690.5,865.5 691.3,865.8 692.1,866.7 692.9,866.8 693.7,865.0 694.5,863.7 695.3,865.8 696.1,867.3 696.9,865.2 697.7,865.9 698.5,865.4 699.3,866.6 700.1,863.9 700.9,865.8 701.7,866.0 702.5,867.9 703.3,866.7 704.1,865.7 704.9,865.9 705.7,866.5 706.5,866.2 707.3,868.0 708.1,868.0 708.9,865.5 709.7,866.1 710.5,864.6 711.3,866.5 712.1,867.4 712.9,865.5 713.7,864.1 714.5,867.3 715.3,865.3 716.1,867.6 716.9,864.2 717.7,867.1 718.5,868.2 719.3,867.1 720.1,866.2 720.9,866.4 721.7,864.3 722.5,865.1 723.3,867.1 724.1,867.3 724.9,865.1 725.7,865.5 726.5,867.8 727.3,865.3 728.1,867.7 728.9,866.5 729.7,867.2 730.5,866.6 731.3,867.0 732.1,865.4 732.9,866.0 733.7,867.9 734.5,866.8 735.3,864.8 736.1,867.5 736.9,867.0 737.7,868.6 738.5,867.1 739.3,866.7 740.1,864.8 740.9,868.1 741.7,866.5 742.5,866.0 743.3,866.4 744.1,865.0 744.9,866.5 745.7,867.4 746.5,867.1 747.3,867.7 748.1,868.2 748.9,867.1 749.7,865.8 750.5,867.9 751.3,868.5 752.1,868.2 752.9,866.8 753.7,867.6 754.5,868.9 755.3,867.2 756.1,866.9 756.9,865.8 757.7,866.7 758.5,868.1 759.3,866.2 760.1,865.0 760.9,866.2 761.7,867.7 762.5,865.7 763.3,866.5 764.1,868.6 764.9,867.3 765.7,869.1 766.5,867.6 767.3,867.8 768.1,865.8 768.9,867.1 769.7,865.4 770.5,865.3 771.3,869.3 772.1,866.7 772.9,866.2 773.7,867.8 774.5,865.7 775.3,867.4 776.1,866.9 776.9,868.7 777.7,866.5 778.5,868.0 779.3,866.9 780.1,868.7 780.9,866.3 781.7,865.8 782.5,869.0 783.3,866.6 784.1,869.0 784.9,867.5 785.7,867.3 786.5,869.7 787.3,867.4 788.1,868.1 788.9,868.1 789.7,868.4 790.5,867.8 791.3,869.8 792.1,869.2 792.9,869.3 793.7,868.1 794.5,870.5 795.3,867.9 796.1,869.0 796.9,869.2 797.7,868.9 798.5,869.6 799.3,868.8 800.1,869.7 800.9,869.3 801.7,868.0 802.5,868.6 803.3,868.6 804.1,870.7 804.9,869.2 805.7,869.9 806.5,868.9 807.3,871.1 808.1,869.3 808.9,870.1 809.7,867.6 810.5,868.8 811.3,869.0 812.1,867.8 812.9,869.5 813.7,868.8 814.5,869.9 815.3,869.1 816.1,869.0 816.9,869.1 817.7,867.6 818.5,869.2 819.3,870.3 820.1,868.1 820.9,867.8 821.7,868.4 822.5,869.6 823.3,869.0 824.1,870.0 824.9,868.6 825.7,868.1 826.5,869.8 827.3,870.7 828.1,870.3 828.9,869.1 829.7,871.1 830.5,869.4 831.3,870.5 832.1,871.4 832.9,869.4 833.7,869.2 834.5,872.5 835.3,868.5 836.1,872.3 836.9,869.6 837.7,868.7 838.5,869.9 839.3,871.0 840.1,871.3 840.9,869.4 841.7,869.3 842.5,870.9 843.3,869.4 844.1,872.6 844.9,870.8 845.7,871.2 846.5,869.1 847.3,870.0 848.1,871.8 848.9,872.9 849.7,871.9 850.5,871.3 851.3,871.2 852.1,870.0 852.9,869.3 853.7,872.3 854.5,871.9 855.3,870.9 856.1,873.1 856.9,871.4 857.7,870.9 858.5,870.9 859.3,872.1 860.1,871.2 860.9,870.8 861.7,873.0 862.5,872.1 863.3,871.3 864.1,869.5 864.9,871.5 865.7,870.6 866.5,871.2 867.3,872.4 868.1,870.5 868.9,872.6 869.7,871.6 870.5,869.5 871.3,872.5 872.1,871.2 872.9,872.4 873.7,870.1 874.5,873.6 875.3,873.6 876.1,872.1 876.9,870.6 877.7,870.0 878.5,869.7 879.3,870.4 880.1,871.5 880.9,871.7 881.7,872.5 882.5,872.1 883.3,873.8 884.1,871.0 884.9,870.9 885.7,872.6 886.5,873.9 887.3,872.3 888.1,871.6 888.9,872.4 889.7,872.4 890.5,872.7 891.3,870.6 892.1,871.4 892.9,871.4 893.7,872.5 894.5,873.3 895.3,870.1 896.1,871.8 896.9,872.5 897.7,871.5 898.5,872.4 899.3,871.9 900.1,870.3 900.9,871.8 901.7,871.7 902.5,872.4 903.3,872.2 904.1,871.0 904.9,873.0 905.7,872.9 906.5,872.4 907.3,870.3 908.1,874.3 908.9,873.1 909.7,871.7 910.5,872.9 911.3,871.6 912.1,871.8 912.9,872.2 913.7,874.0 914.5,873.0 915.3,872.3 916.1,872.4 916.9,873.4 917.7,874.3 918.5,872.5 919.3,873.1 920.1,871.0 920.9,873.5 921.7,874.3 922.5,873.1 923.3,872.1 924.1,872.1 924.9,871.5 925.7,872.0 926.5,871.5 927.3,872.5 928.1,870.8 928.9,872.7 929.7,871.7 930.5,870.6 931.3,873.1 932.1,871.9 932.9,872.9 933.7,871.6 934.5,872.6 935.3,871.5 936.1,873.5 936.9,873.5 937.7,873.3 938.5,872.1 939.3,872.0 940.1,872.7 940.9,874.1 941.7,871.6 942.5,872.1 943.3,871.3 944.1,871.0 945.0,870.0 945.8,871.3 946.6,873.5 947.4,870.6 948.2,871.5 949.0,872.5 949.8,870.2 950.6,870.9 951.4,872.5 952.2,872.4 953.0,870.3 953.8,872.9 954.6,869.8 955.4,872.2 956.2,873.4 957.0,871.0 957.8,871.7 958.6,871.3 959.4,872.7 960.2,872.2 961.0,870.8 961.8,873.0 962.6,871.0 963.4,871.1 964.2,870.3 965.0,870.3 965.8,871.3 966.6,873.1 967.3,870.4 968.1,870.7 968.9,869.5 969.7,871.3 970.5,873.1 971.3,871.7 972.1,870.0 972.9,870.5 973.7,870.5 974.5,869.6 975.3,870.5 976.1,870.1 976.9,871.1 977.7,871.6 978.5,871.1 979.3,872.3 980.1,868.6 980.9,870.4 981.7,870.0 982.5,871.8 983.3,871.5 984.1,869.5 984.9,871.3 985.7,870.1 986.5,869.9 987.3,870.9 988.1,871.0 988.9,869.0 989.7,868.3 990.5,872.0 991.3,869.9 992.1,869.3 992.9,870.3 993.7,872.1 994.5,868.3 995.3,870.6 996.1,871.5 996.9,870.7 997.7,869.1 998.5,870.3 999.3,870.9 1000.1,870.1 1000.9,871.7 1001.7,869.7 1002.5,869.3 1003.3,872.0 1004.1,870.5 1004.9,870.6 1005.8,869.0 1006.6,869.2 1007.4,869.2 1008.2,869.8 1009.0,872.0 1009.8,872.1 1010.6,871.8 1011.4,870.2 1012.2,869.9 1013.0,869.7 1013.8,870.2 1014.6,869.3 1015.4,870.9 1016.2,872.2 1017.0,872.2 1017.8,869.3 1018.6,870.8 1019.4,871.3 1020.2,870.5 1021.0,869.6 1021.8,868.0 1022.6,867.9 1023.4,870.4 1024.2,868.8 1025.0,869.7 1025.7,870.6 1026.5,869.0 1027.3,870.2 1028.1,868.3 1028.9,867.6 1029.7,869.3 1030.5,867.7 1031.3,871.5 1032.1,869.6 1032.9,869.5 1033.7,870.4 1034.5,869.9 1035.3,868.9 1036.1,870.1 1036.9,869.2 1037.7,868.4 1038.5,868.5 1039.3,870.1 1040.1,869.7 1040.9,868.2 1041.7,869.5 1042.5,870.3 1043.3,868.1 1044.1,868.8 1044.9,869.7 1045.7,870.7 1046.5,869.9 1047.3,867.4 1048.1,868.1 1048.9,867.6 1049.7,868.9 1050.5,867.8 1051.3,868.8 1052.1,868.6 1052.9,868.6 1053.7,868.1 1054.5,866.4 1055.3,870.1 1056.1,869.2 1056.9,868.0 1057.7,868.5 1058.5,868.0 1059.3,867.8 1060.1,866.4 1060.9,868.6 1061.7,868.6 1062.5,866.8 1063.3,866.3 1064.1,868.6 1064.9,867.8 1065.7,866.3 1066.5,867.1 1067.3,867.1 1068.1,867.7 1068.8,867.5 1069.6,866.4 1070.4,868.5 1071.2,864.7 1071.9,864.9 1072.7,864.8 1073.5,867.2 1074.3,867.1 1075.1,866.4 1075.8,865.4 1076.6,865.7 1077.4,864.2 1078.2,864.4 1078.9,866.2 1079.7,864.2 1080.5,863.3 1081.3,863.5 1082.0,863.1 1082.8,863.5 1083.6,865.1 1084.3,864.2 1085.1,864.5 1085.8,862.5 1086.6,861.3 1087.3,862.3 1088.1,862.1 1088.8,860.1 1089.6,858.8 1090.3,860.9 1091.0,861.1 1091.8,859.0 1092.5,857.8 1093.3,860.0 1094.0,860.5 1094.8,857.8 1095.5,859.3 1096.2,858.9 1097.0,857.8 1097.7,858.6 1098.4,856.3 1099.1,857.4 1099.8,855.2 1100.4,854.9 1101.1,857.2 1101.8,855.5 1102.4,853.0 1103.1,855.3 1103.7,853.8 1104.4,851.2 1105.1,854.0 1105.7,852.7 1106.4,852.2 1107.1,851.7 1107.7,852.4 1108.4,850.1 1109.1,850.3 1109.7,850.9 1110.4,847.5 1111.0,847.3 1111.6,848.1 1112.3,846.9 1112.9,847.4 1113.6,847.7 1114.2,845.3 1114.8,845.9 1115.5,845.5 1116.1,845.7 1116.8,842.5 1117.4,843.2 1118.0,841.9 1118.7,841.3 1119.3,842.4 1120.0,842.8 1120.6,841.9 1121.2,841.9 1121.7,840.5 1122.2,837.7 1122.7,840.1 1123.2,837.8 1123.7,839.6 1124.2,836.4 1124.7,834.8 1125.2,833.9 1125.7,837.0 1126.2,834.1 1126.7,835.1 1127.2,832.8 1127.7,833.1 1128.2,833.0 1128.7,830.4 1129.2,831.8 1129.6,830.4 1130.1,829.3 1130.6,828.2 1131.0,827.5 1131.4,826.2 1131.9,825.3 1132.3,825.9 1132.8,825.2 1133.2,825.9 1133.7,823.9 1134.1,821.8 1134.6,823.3 1135.0,821.6 1135.4,821.9 1135.9,820.2 1136.3,820.8 1136.8,819.4 1137.2,820.9 1137.7,816.5 1138.1,817.3 1138.6,817.1 1139.0,814.3 1139.4,815.2 1139.9,812.9 1140.3,814.5 1140.8,812.5 1141.2,812.2 1141.7,812.7 1142.1,812.3 1142.5,810.6 1143.0,809.7 1143.4,808.7 1143.9,808.5 1144.3,807.7 1144.8,807.1 1145.2,807.8 1145.7,806.1 1146.1,806.9 1146.5,803.2 1147.0,804.3 1147.4,804.9 1147.8,802.7 1148.2,803.9 1148.6,802.3 1149.0,799.7 1149.5,800.5 1149.9,797.9 1150.3,798.7 1150.7,799.0 1151.1,798.3 1151.5,797.5 1151.9,795.9 1152.3,794.2 1152.8,794.9 1153.2,792.5 1153.6,793.1 1154.0,793.3 1154.4,792.8 1154.8,791.0 1155.2,791.3 1155.7,791.9 1156.2,789.2 1156.7,789.2 1157.2,787.4 1157.7,787.4 1158.2,785.7 1158.8,787.0 1159.3,785.8 1159.8,784.7 1160.3,783.7 1160.9,783.4 1161.4,781.2 1161.9,784.0 1162.4,783.5 1162.9,781.6 1163.5,778.7 1164.0,780.6 1164.4,779.9 1164.9,779.6 1165.3,778.1 1165.8,776.6 1166.2,777.8 1166.7,775.3 1167.1,773.7 1167.6,774.0 1168.0,773.6 1168.5,771.8 1168.9,772.6 1169.3,771.1 1169.8,770.6 1170.2,769.3 1170.7,769.2 1171.1,769.0 1171.6,769.3 1172.0,769.2 1172.5,767.6 1172.9,768.8 1173.3,768.2 1173.8,766.6 1174.2,764.4 1174.7,763.7 1175.1,762.0 1175.6,764.1 1176.2,761.6 1176.9,764.1 1177.7,762.2 1178.5,761.5 1179.2,762.0 1179.9,760.3 1180.4,760.6 1180.9,759.7 1181.4,758.8 1181.9,759.3 1182.4,758.8 1182.9,755.9 1183.3,757.1 1183.8,756.2 1184.3,754.5 1184.8,752.7 1185.3,754.6 1185.7,752.7 1186.2,752.3 1186.7,753.6 1187.2,751.9 1187.7,750.2 1188.1,750.9 1188.7,748.3 1189.3,751.0 1189.9,749.0 1190.5,746.5 1191.2,748.2 1191.8,748.5 1192.4,747.3 1193.1,745.7 1193.7,745.8 1194.3,746.1 1195.0,745.8 1195.6,744.5 1196.2,744.4 1196.9,742.0 1197.5,743.6 1198.1,742.1 1198.6,742.9 1199.1,741.3 1199.5,741.3 1200.0,739.3 1200.5,737.9 1201.0,738.7 1201.6,737.3 1202.2,736.8 1203.0,736.9 1203.8,736.8 1204.6,737.7 1205.4,738.7 1206.2,738.4 1207.0,738.7 1207.8,737.2 1208.5,736.8 1209.1,736.3 1209.6,735.4 1210.1,734.4 1210.6,734.8 1211.1,734.4 1211.6,731.1 1211.9,731.0 1212.2,732.4 1212.4,730.4 1212.5,731.4 1212.7,728.0 1212.9,727.8 1213.1,727.2 1213.5,728.0 1214.0,726.5 1214.6,726.8 1215.2,724.3 1215.9,726.5 1216.5,725.3 1217.1,724.1 1217.7,723.0 1218.4,721.7 1219.1,723.2 1219.8,724.0 1220.6,722.3 1221.4,721.2 1222.2,721.5 1223.0,721.4 1223.7,722.4 1224.4,722.5 1225.1,721.8 1225.8,723.6 1226.5,724.0 1227.2,724.4 1227.9,723.3 1228.6,723.9 1229.4,724.5 1230.2,722.9 1231.0,723.4 1231.7,724.4 1232.3,723.2 1232.8,723.4 1233.1,724.3 1233.4,726.7 1233.7,726.6 1234.0,727.7 1234.3,726.9 1234.5,729.0 1234.7,729.5 1234.9,730.3 1235.1,730.5 1235.3,731.5 1235.4,732.8 1235.6,734.5 1235.8,733.6 1235.9,734.0 1236.1,736.9 1236.3,736.2 1236.4,739.2 1236.5,739.1 1236.5,740.7 1236.6,738.0 1236.6,740.3 1236.7,740.2 1236.7,742.8 1236.8,740.9 1236.8,742.5 1236.8,742.8 1236.9,745.4 1236.9,744.6 1237.0,746.8 1237.0,747.7 1237.1,749.6 1237.1,750.4 1237.1,750.2 1237.2,750.7 1237.2,750.5 1237.3,753.9 1237.3,754.0 1237.3,754.8 1237.4,753.8 1237.4,756.2 1237.5,758.1 1237.5,758.4 1237.5,758.6 1237.6,759.7 1237.6,761.7 1237.7,760.8 1237.7,762.4 1238.0,761.1 1238.4,763.0 1239.0,761.2 1239.6,758.5 1240.2,758.6 1240.8,758.8 1241.4,758.2 1241.8,756.2 1242.0,758.1 1242.1,755.0 1242.1,755.8 1242.2,753.5 1242.2,755.1 1242.2,754.1 1242.3,753.0 1242.3,751.0 1242.3,752.2 1242.4,750.0 1242.4,749.1 1242.4,747.0 1242.5,748.2 1242.5,747.9 1242.5,746.6 1242.5,746.2 1242.6,745.5 1242.8,743.4 1243.3,745.6 1244.1,744.4 1244.9,743.1 1245.6,742.7 1246.2,743.4 1246.5,742.0 1246.6,743.1 1246.7,744.5 1246.8,745.1 1246.9,745.9 1247.0,746.1 1247.1,749.2 1247.2,750.7 1247.3,750.9 1247.4,751.2 1247.5,751.3 1247.7,751.7 1248.0,754.3 1248.2,754.0 1248.5,754.4 1248.7,756.0 1249.0,757.1 1249.2,757.2 1249.5,758.5 1249.7,756.5 1250.0,760.2 1250.2,758.0 1250.3,760.3 1250.3,761.9 1250.2,760.3 1250.2,764.7 1250.1,762.4 1250.1,764.6 1250.0,765.6 1249.9,766.6 1249.9,767.6 1249.8,769.9 1249.8,768.8 1249.7,771.1 1249.7,768.4 1249.6,770.3 1249.6,772.8 1249.5,771.7 1249.4,774.2 1249.5,774.3 1249.6,776.1 1249.9,776.5 1250.2,776.3 1250.5,778.1 1250.8,777.7 1251.2,776.7 1251.5,777.4 1252.0,780.1 1252.6,779.7 1253.4,780.3 1254.2,781.8 1255.0,781.0 1255.6,782.9 1256.1,778.6 1256.4,781.0 1256.5,778.1 1256.7,777.1 1256.8,779.1 1257.0,775.7 1257.1,775.2 1257.3,775.0 1257.5,774.6 1257.6,772.1 1257.8,772.8 1257.9,773.5 1258.0,770.0 1258.0,769.0 1258.0,768.7 1258.0,769.9 1258.0,766.6 1258.0,765.5 1258.0,767.8 1258.0,765.4 1258.1,763.5 1258.1,763.0 1258.1,761.9 1258.1,762.8 1258.1,759.7 1258.1,761.1 1258.1,760.7 1258.1,759.7 1258.1,760.5 1258.1,756.8 1258.1,756.4 1258.1,754.2 1258.2,756.5 1258.2,755.1 1258.2,754.2 1258.2,752.2 1258.2,753.4 1258.2,751.3 1258.2,750.4 1258.2,749.5 1258.2,748.0 1258.2,747.3 1258.2,746.5 1258.2,746.6 1258.3,745.2 1258.3,744.0 1258.5,742.5 1258.7,743.7 1259.0,743.5 1259.2,741.6 1259.5,740.2 1259.8,741.0 1260.1,739.8 1260.3,738.2 1260.6,738.3 1260.9,737.4 1261.3,737.5 1261.7,737.3 1262.2,737.7 1262.7,739.3 1263.3,740.0 1263.8,739.3 1264.3,739.7 1264.8,739.9 1265.2,740.9 1265.4,742.3 1265.5,743.1 1265.5,745.9 1265.5,746.3 1265.6,745.4 1265.6,745.9 1265.6,745.5 1265.6,747.3 1265.6,749.4 1265.7,749.3 1265.7,748.4 1265.7,751.2 1265.7,751.8 1265.8,752.1 1265.8,753.8 1265.8,755.3 1265.8,754.8 1265.8,756.1 1265.9,756.2 1265.9,757.8 1265.9,758.2 1265.9,759.8 1266.0,759.9 1266.0,761.4 1266.0,762.7 1266.0,762.1 1266.0,764.5 1266.1,764.0 1266.1,764.8 1266.1,765.4 1266.1,766.3 1266.2,766.1 1266.2,767.5 1266.3,770.0 1266.3,768.5 1266.4,772.1 1266.5,771.4 1266.6,772.2 1266.6,773.8 1266.7,773.5 1266.8,772.5 1266.9,773.9 1266.9,776.0 1267.0,777.8 1267.1,775.9 1267.1,776.9 1267.2,779.3 1267.3,781.8 1267.4,782.3 1267.4,781.7 1267.5,783.5 1267.6,783.4 1267.7,784.5 1267.7,784.1 1267.8,785.2 1267.9,784.8 1268.0,786.1 1268.1,787.2 1268.2,788.8 1268.2,788.6 1268.3,792.2 1268.4,790.4 1268.5,791.4 1268.6,792.6 1268.7,791.5 1268.7,792.2 1268.8,796.2 1268.9,795.5 1269.1,794.6 1269.3,797.3 1269.7,797.1 1270.2,798.1 1270.6,799.9 1271.1,800.3 1271.5,800.0 1271.9,803.3 1272.4,802.5 1272.8,802.6 1273.3,803.0 1273.9,804.0 1274.6,803.3 1275.3,803.9 1275.9,805.7 1276.6,803.5 1277.3,805.1 1278.0,807.2 1278.6,807.1 1279.3,806.5 1280.0,808.0 1280.7,808.0 1281.2,808.1 1281.7,807.8 1282.1,806.2 1282.5,805.7 1283.0,806.1 1283.4,806.9 1283.8,803.3 1284.2,804.7 1284.6,801.0 1285.0,802.6 1285.5,800.5 1286.1,801.0 1286.8,801.1 1287.5,800.1 1288.3,800.5 1289.0,799.7 1289.8,799.2 1290.5,799.2 1291.3,799.5 1292.0,798.1 1292.6,798.1 1292.9,798.5 1293.2,796.1 1293.4,797.2 1293.6,794.5 1293.8,793.2 1294.0,793.6 1294.2,793.2 1294.4,792.6 1294.6,792.4 1294.8,790.3 1295.0,788.0 1295.2,790.6 1295.4,787.9 1295.8,786.3 1296.3,786.1 1296.9,787.1 1297.5,784.3 1298.1,785.1 1298.7,784.1 1299.3,784.4 1299.9,782.8 1300.5,781.8 1301.0,781.4 1301.4,781.3 1301.7,781.3 1302.0,780.3 1302.3,780.9 1302.5,780.4 1302.8,778.7 1303.0,778.5 1303.3,777.3 1303.5,774.9 1303.8,775.1 1304.0,775.8 1304.4,774.1 1304.8,771.2 1305.3,773.3 1305.9,771.5 1306.4,770.6 1306.9,769.1 1307.4,770.2 1307.9,769.2 1308.4,770.9 1308.9,767.0 1309.4,767.5 1309.9,769.0 1310.4,766.3 1310.9,766.1 1311.5,765.3 1312.0,766.1 1312.5,765.6 1313.0,765.0 1313.5,763.1 1314.0,763.7 1314.4,762.3 1314.9,762.1 1315.3,759.8 1315.7,757.4 1316.1,756.7 1316.5,758.1 1316.9,756.6 1317.3,755.7 1317.7,757.0 1318.1,756.4 1318.5,755.2 1318.9,752.4 1319.3,754.0 1319.7,751.8 1320.0,751.5 1320.4,750.9 1320.8,750.6 1321.1,748.2 1321.5,748.6 1321.9,746.4 1322.2,746.4 1322.6,745.4 1323.0,745.8 1323.4,744.9 1323.9,746.1 1324.5,743.7 1325.2,744.0 1325.8,742.8 1326.5,743.7 1327.2,741.6 1327.9,741.0 1328.5,741.9 1329.2,742.4 1329.9,743.1 1330.5,744.3 1331.2,744.4 1331.9,744.7 1332.5,746.2 1333.2,744.8 1333.9,746.8 1334.5,745.6 1335.3,746.8 1336.0,746.5 1336.7,746.4 1337.5,748.2 1338.3,749.0 1339.0,747.7 1339.8,747.7 1340.5,747.9 1341.3,746.6 1342.1,749.5 1342.8,748.6 1343.6,749.6 1344.3,749.7 1345.0,747.6 1345.7,748.1 1346.4,746.7 1347.1,745.5 1347.8,745.9 1348.5,745.8 1349.2,745.5 1349.9,744.9 1350.6,744.4 1351.3,744.2 1352.1,744.9 1352.8,742.7 1353.5,743.5 1354.3,743.3 1355.0,743.8 1355.5,740.7 1355.8,743.4 1356.0,739.5 1356.2,741.6 1356.4,739.3 1356.7,738.3 1356.9,737.7 1357.1,737.4 1357.3,736.1 1357.6,737.8 1358.1,736.9 1358.6,735.8 1359.1,734.1 1359.7,733.1 1360.2,734.8 1360.7,732.2 1361.3,729.6 1361.8,732.6 1362.3,732.3 1362.8,728.5 1363.4,729.7 1364.0,728.4 1364.6,729.7 1365.4,726.1 1366.1,727.0 1366.8,726.9 1367.5,727.2 1368.2,725.5 1368.9,727.3 1369.7,724.7 1370.4,726.5 1371.1,727.1 1371.8,722.7 1372.5,724.8 1373.2,725.4 1373.9,722.2 1374.6,723.6 1375.3,722.7 1376.0,722.2 1376.7,721.0 1377.4,721.2 1378.1,720.7 1378.8,719.1 1379.6,718.8 1380.4,719.3 1381.2,719.3 1382.0,719.9 1382.8,720.7 1383.6,721.0 1384.4,719.9 1385.2,721.5 1385.9,720.8 1386.7,719.6 1387.4,721.0 1388.1,720.9 1388.7,721.6 1389.4,723.4 1390.1,720.3 1390.7,721.6 1391.4,721.9 1392.1,723.0 1392.8,721.6 1393.6,722.5 1394.4,721.9 1395.2,721.7 1396.0,722.5 1396.7,722.2 1397.4,724.1 1398.0,725.7 1398.6,725.1 1399.2,724.0 1399.8,727.4 1400.5,728.7 1401.1,727.9 1401.7,728.0 1402.3,727.6 1402.9,729.6 1403.5,730.6 1404.2,729.0 1405.0,731.3 1405.7,728.8 1406.5,728.1 1407.3,731.1 1408.1,729.9 1408.9,730.8 1409.7,727.5 1410.5,730.4 1411.2,730.3 1412.0,727.9 1412.7,728.9 1413.4,727.4 1414.0,727.0 1414.6,725.2 1415.1,726.8 1415.7,725.4 1416.3,723.8 1416.9,723.6 1417.5,721.9 1418.1,723.1 1418.7,722.7 1419.3,721.0 1419.9,720.4 1420.4,722.8 1420.9,720.9 1421.5,719.3 1422.0,717.0 1422.5,717.9 1423.0,715.8 1423.5,719.2 1424.0,717.9 1424.3,719.2 1424.5,719.1 1424.6,719.4 1424.8,719.8 1425.0,719.3 1425.1,721.0 1425.3,719.9 1425.5,722.5 1425.6,725.4 1425.8,723.0 1426.0,725.2 1426.1,726.5 1426.2,725.6 1426.3,729.3 1426.4,727.8 1426.5,728.7 1426.6,728.1 1426.7,729.4 1426.7,730.8 1426.8,730.6 1426.9,731.2 1427.0,734.6 1427.1,734.2 1427.2,733.8 1427.3,734.3 1427.8,734.8 1428.4,737.5 1429.2,737.0 1430.0,737.8 1430.8,737.0 1431.5,737.4 1432.3,737.3 1433.0,737.9 1433.6,736.7 1434.2,736.1 1434.8,736.8 1435.4,734.8 1436.0,735.0 1436.6,733.3 1437.2,733.6 1437.6,731.5 1437.8,732.2 1437.9,732.4 1438.0,730.4 1438.1,730.3 1438.1,729.7 1438.2,727.6 1438.3,726.9 1438.3,726.0 1438.4,727.0 1438.5,725.1 1438.5,725.3 1438.6,722.7 1438.7,721.9 1438.8,721.9 1438.9,722.1 1439.0,719.3 1439.1,719.0 1439.2,720.2 1439.4,717.3 1439.5,717.2 1439.6,716.0 1439.7,716.8 1439.9,714.5 1440.0,713.1 1440.1,714.5 1440.2,712.0 1440.4,711.9 1440.5,709.9 1440.6,708.5 1440.8,709.7 1440.9,708.1 1441.0,708.6 1441.1,706.6 1441.2,705.8 1441.3,707.3 1441.4,705.2 1441.5,703.2 1441.6,703.7 1441.7,701.5 1441.8,702.4 1441.9,701.7 1442.0,700.1 1442.0,698.8 1442.1,697.5 1442.1,696.9 1442.2,695.4 1442.2,695.6 1442.3,692.9 1442.3,695.2 1442.4,692.7 1442.5,692.3 1442.5,691.7 1442.6,691.2 1442.6,692.1 1442.7,687.3 1442.8,687.3 1442.9,687.6 1443.0,687.5 1443.1,684.7 1443.2,686.9 1443.4,682.7 1443.5,683.1 1443.6,682.9 1443.7,681.9 1443.8,681.6 1443.9,681.7 1444.0,680.0 1444.1,680.0 1444.2,679.2 1444.2,676.7 1444.3,676.6 1444.4,673.8 1444.4,674.6 1444.5,674.9 1444.6,675.4 1444.7,670.6 1444.7,672.0 1444.8,670.5 1444.9,668.9 1444.9,668.6 1445.0,668.7 1445.1,668.7 1445.1,666.3 1445.2,667.0 1445.2,664.4 1445.3,663.9 1445.3,664.1 1445.3,663.6 1445.4,663.0 1445.4,660.8 1445.4,661.2 1445.4,659.6 1445.5,660.2 1445.5,658.3 1445.5,658.3 1445.6,656.8 1445.6,655.5 1445.6,653.4 1445.7,652.6 1445.8,653.1 1446.0,652.8 1446.3,652.3 1446.5,650.6 1446.7,648.8 1446.9,650.0 1447.1,647.3 1447.4,648.1 1447.6,649.1 1447.8,646.8 1447.8,647.8 1447.9,644.9 1447.9,644.1 1447.9,644.5 1447.9,642.8 1447.9,642.6 1447.9,640.0 1447.9,639.7 1447.9,639.5 1448.0,638.1 1448.0,638.5 1448.0,638.8 1448.0,635.5 1448.0,635.3 1448.0,635.9 1448.0,633.3 1448.0,633.7 1448.1,632.2 1448.2,631.4 1448.3,631.8 1448.5,628.7 1448.6,630.1 1448.8,629.1 1448.9,627.9 1449.1,626.7 1449.3,627.4 1449.4,626.9 1449.6,625.2 1449.7,623.6 1449.9,622.0 1450.0,622.1 1450.2,621.0 1450.3,620.9 1450.5,618.4 1450.6,618.9 1450.8,617.5 1450.9,615.7 1451.1,617.0 1451.2,616.2 1451.4,616.1 1451.5,613.4 1451.7,614.0 1451.9,612.3 1452.1,610.6 1452.3,611.9 1452.5,610.5 1452.7,607.9 1452.9,610.7 1453.1,609.1 1453.3,606.8 1453.6,605.5 1453.8,605.3 1454.0,605.2 1454.1,606.0 1454.2,602.5 1454.3,601.0 1454.3,600.9 1454.3,600.8 1454.3,598.0 1454.3,598.1 1454.4,597.6 1454.4,597.9 1454.4,596.0 1454.4,594.6 1454.4,594.4 1454.5,593.7 1454.5,594.1 1454.5,593.5 1454.6,592.1 1454.7,591.2 1454.8,589.5 1455.0,591.6 1455.1,590.1 1455.2,587.4 1455.4,588.5 1455.5,586.2 1455.6,584.2 1455.8,583.3 1455.9,583.7 1456.1,584.8 1456.3,583.0 1456.5,581.5 1456.9,580.4 1457.2,578.6 1457.5,579.5 1457.8,579.5 1458.1,578.0 1458.5,579.5 1459.0,577.0 1459.7,576.2 1460.4,575.1 1461.0,577.6 1461.7,574.5 1462.4,574.3 1463.2,574.9 1463.9,576.0 1464.7,577.5 1465.4,575.6 1466.2,576.0 1467.0,575.7 1467.7,575.7 1468.5,578.2 1469.2,577.9 1469.8,577.0 1470.3,577.9 1470.9,580.6 1471.5,579.4 1472.0,581.9 1472.6,579.6 1473.2,579.0 1473.7,580.4 1474.2,581.9 1474.7,582.0 1475.2,582.1 1475.7,583.9 1476.2,584.2 1476.7,583.9 1477.1,587.6 1477.6,586.1 1478.1,587.9 1478.6,586.8 1479.1,589.8 1479.6,589.3 1480.2,587.6 1480.9,588.4 1481.7,589.9 1482.4,589.5 1483.2,589.7 1483.9,590.3 1484.7,591.9 1485.4,592.4 1486.2,592.5 1486.9,592.0 1487.6,590.6 1488.3,593.1 1489.0,593.6 1489.7,593.8 1490.4,596.1 1491.1,595.0 1491.8,595.7 1492.5,596.6 1493.2,595.7 1493.8,596.4 1494.2,598.4 1494.5,598.9 1494.7,597.4 1494.9,599.1 1495.1,600.2 1495.3,600.8 1495.5,600.5 1495.7,600.4 1495.9,603.1 1496.1,604.1 1496.3,605.6 1496.5,604.9 1496.7,605.5 1496.8,606.9 1497.0,607.6 1497.2,607.0 1497.4,608.7 1497.6,610.2 1497.8,610.1 1498.1,610.3 1498.3,610.5 1498.7,611.7 1499.0,613.4 1499.4,614.7 1499.8,614.0 1500.1,616.3 1500.5,616.6 1500.8,618.4 1501.2,619.1 1501.5,618.8 1501.9,619.1 1502.1,619.8 1502.3,620.7 1502.5,620.3 1502.7,622.2 1502.9,624.6 1503.1,625.5 1503.3,624.1 1503.5,625.3 1503.7,626.5 1503.8,626.7 1504.0,628.1 1504.2,629.7 1504.3,629.7 1504.5,630.9 1504.6,631.3 1504.8,630.9 1505.0,633.0 1505.1,635.4 1505.3,634.1 1505.4,635.6 1505.6,636.8 1505.7,637.1 1505.9,636.4 1506.1,638.9 1506.3,638.7 1506.4,639.0 1506.6,642.4 1506.8,641.3 1506.9,643.3 1507.1,643.1 1507.3,642.7 1507.5,643.2 1507.7,644.7 1507.8,646.2 1508.1,646.9 1508.3,649.4 1508.5,649.5 1508.7,647.5 1508.9,650.4 1509.1,649.7 1509.3,652.5 1509.6,652.1 1509.8,651.0 1510.0,655.5 1510.2,656.4 1510.4,657.1 1510.7,655.2 1510.9,656.1 1511.2,656.9 1511.4,658.8 1511.6,658.7 1511.9,658.9 1512.1,662.5 1512.4,661.3 1512.6,661.7 1512.8,661.7 1513.0,663.3 1513.2,662.4 1513.4,664.1 1513.6,666.5 1513.7,667.2 1513.9,668.1 1514.1,668.0 1514.3,670.3 1514.5,669.2 1514.7,670.0 1514.9,673.0 1515.1,674.0 1515.4,674.0 1515.6,672.3 1515.9,673.1 1516.1,674.8 1516.3,676.9 1516.6,677.9 1516.8,676.5 1517.1,680.2 1517.3,678.8 1517.6,678.8 1518.0,680.9 1518.3,680.1 1518.7,683.9 1519.1,682.7 1519.4,683.1 1519.8,684.7 1520.1,684.7 1520.5,684.9 1520.8,687.3 1521.3,687.9 1521.7,687.1 1522.2,687.8 1522.7,689.8 1523.3,691.1 1523.8,688.9 1524.3,691.8 1524.8,689.6 1525.3,691.4 1525.8,692.5 1526.3,693.5 1526.8,693.9 1527.4,694.1 1527.9,693.9 1528.4,696.6 1528.9,694.8 1529.4,696.4 1529.9,698.7 1530.5,697.4 1531.1,697.3 1531.8,698.0 1532.6,698.7 1533.4,698.4 1534.2,698.4 1535.0,699.6 1535.8,698.1 1536.6,698.5 1537.4,698.2 1538.1,697.7 1538.7,697.1 1539.4,696.4 1540.0,695.2 1540.7,694.9 1541.3,697.7 1542.0,694.0 1542.7,696.1 1543.3,692.9 1543.9,694.2 1544.6,693.1 1545.2,693.2 1545.8,693.8 1546.4,692.0 1547.0,693.3 1547.6,688.8 1548.2,688.2 1548.8,688.8 1549.4,687.2 1550.0,689.6 1550.6,689.3 1551.2,687.2 1551.8,686.1 1552.5,687.1 1553.3,686.4 1554.0,687.2 1554.8,687.0 1555.5,685.7 1556.3,684.8 1557.0,685.4 1557.8,684.3 1558.5,685.6 1559.2,683.6 1560.0,685.5 1560.7,683.4 1561.4,682.5 1562.1,684.1 1562.8,681.2 1563.5,681.6 1564.2,680.4 1564.9,683.2 1565.6,682.0 1566.3,680.7 1567.0,682.0 1567.7,679.4 1568.4,680.5 1569.1,678.5 1569.8,677.0 1570.5,678.8 1571.2,679.7 1571.9,677.5 1572.6,678.1 1573.3,675.9 1574.0,677.1 1574.6,677.6 1575.3,676.1 1576.0,674.6 1576.7,673.5 1577.4,674.9 1578.1,675.6 1578.8,671.4 1579.5,674.0 1580.2,674.0 1580.9,670.9 1581.6,670.1 1582.4,671.5 1583.1,670.3 1583.8,668.8 1584.6,669.4 1585.3,670.7 1586.0,670.5 1586.8,669.5 1587.5,669.0 1588.2,669.6 1589.0,667.6 1589.7,670.0 1590.4,667.5 1591.2,666.0 1591.9,665.9 1592.7,666.0 1593.4,664.7 1594.1,666.7 1594.8,666.5 1595.5,666.3 1596.3,665.5 1597.0,666.0 1597.7,664.9 1598.4,663.2 1599.1,664.7 1599.8,662.4 1600.6,663.7 1601.3,664.2 1602.0,663.1 1602.7,660.0 1603.4,661.4 1604.2,661.8 1604.9,661.3 1605.7,659.2 1606.4,660.6 1607.1,659.4 1607.9,660.2 1608.6,660.6 1609.4,660.8 1610.1,659.1 1610.9,657.0 1611.6,657.3 1612.3,658.3 1613.1,657.7 1613.8,659.0 1614.5,656.7 1615.2,656.9 1616.0,656.2 1616.7,658.1 1617.4,656.0 1618.1,656.0 1618.9,655.6 1619.6,653.2 1620.3,653.1 1621.0,655.3 1621.8,652.5 1622.5,651.6 1623.2,653.0 1624.0,651.6 1624.7,650.6 1625.5,651.0 1626.2,650.8 1627.0,650.9 1627.7,651.4 1628.5,651.6 1629.2,650.1 1630.0,650.2 1630.7,650.4 1631.5,649.7 1632.2,648.1 1633.0,650.6 1633.7,648.8 1634.5,649.6 1635.2,647.5 1636.0,648.8 1636.7,647.7 1637.5,648.5 1638.3,649.7 1639.0,650.1 1639.8,647.4 1640.6,649.4 1641.4,648.8 1642.2,648.3 1642.9,651.3 1643.7,649.4 1644.5,648.9 1645.3,648.1 1646.0,648.5 1646.8,648.3 1647.6,650.4 1648.4,651.7 1649.1,651.2 1649.9,650.2 1650.7,650.0 1651.5,652.9 1652.2,649.7 1653.0,653.7 1653.8,651.4 1654.5,652.3 1655.3,652.7 1656.1,653.5 1656.8,653.3 1657.6,652.8 1658.4,653.5 1659.1,652.2 1659.9,653.6 1660.7,654.4 1661.4,652.8 1662.2,655.6 1663.0,653.3 1663.7,657.1 1664.5,656.3 1665.3,654.0 1666.0,656.1 1666.8,657.1 1667.6,657.2 1668.3,656.2 1669.1,655.9 1669.9,656.6 1670.7,655.5 1671.4,655.3 1672.2,659.3 1673.0,657.0 1673.8,658.7 1674.6,659.2 1675.4,658.3 1676.2,658.0 1677.0,657.0 1677.8,657.0 1678.5,656.6 1679.3,658.1 1680.1,657.3 1680.9,657.5 1681.7,658.7 1682.5,658.7 1683.3,657.5 1684.0,657.3 1684.8,660.3 1685.6,656.3 1686.4,657.5 1687.1,658.7 1687.9,658.4 1688.7,659.0 1689.5,657.5 1690.2,656.1 1691.0,658.1 1691.8,656.7 1692.6,656.3 1693.4,656.2 1694.1,655.7 1694.9,657.7 1695.7,653.9 1696.5,655.6 1697.2,657.2 1698.0,653.9 1698.8,654.5 1699.6,654.9 1700.4,654.5 1701.2,653.7 1702.0,652.2 1702.7,653.5 1703.5,653.6 1704.3,652.9 1705.1,654.1 1705.9,653.1 1706.7,653.8 1707.4,652.3 1708.2,653.6 1709.0,651.2 1709.8,653.2 1710.6,653.5 1711.4,652.1 1712.2,651.9 1712.9,652.6 1713.7,653.5 1714.5,651.8 1715.3,651.3 1716.1,651.9 1716.9,649.6 1717.7,650.5 1718.5,651.8 1719.3,653.2 1720.1,652.0 1720.9,652.1 1721.7,649.9 1722.5,649.9 1723.3,652.8 1724.1,649.8 1724.9,648.6 1725.7,650.0 1726.4,651.0 1727.2,649.6 1728.0,650.8 1728.8,651.2 1729.6,651.7 1730.4,652.1 1731.2,651.4 1732.0,651.3 1732.8,650.2 1733.6,650.1 1734.4,651.5 1735.1,650.2 1735.9,649.9 1736.6,649.0 1737.4,649.4 1738.1,646.6 1738.9,646.4 1739.6,647.1 1740.4,645.6 1741.1,647.7 1741.9,646.3 1742.6,647.1 1743.4,646.8 1744.1,644.9 1744.9,645.7 1745.6,643.6 1746.4,644.1 1747.1,643.5 1747.9,642.5 1748.6,644.9 1749.4,644.0 1750.2,643.8 1751.0,644.2 1751.8,644.3 1752.5,642.9 1753.3,644.3 1754.1,643.3 1754.9,643.0 1755.7,643.0 1756.5,642.4 1757.2,644.3 1758.0,642.5 1758.8,643.3 1759.6,642.4 1760.4,639.8 1761.2,641.8 1762.0,641.8 1762.7,640.6 1763.5,640.3 1764.3,640.3 1765.1,641.6 1765.9,641.0 1766.7,638.6 1767.5,639.5 1768.2,638.3 1769.0,640.5 1769.8,640.9 1770.6,638.5 1771.4,641.2 1772.2,638.1 1773.0,639.9 1773.8,639.6 1774.6,637.8 1775.4,638.7 1776.2,639.1 1776.9,640.3 1777.7,637.8 1778.5,639.3 1779.3,638.0 1780.1,639.6 1780.9,638.5 1781.7,637.9 1782.5,639.4 1783.3,638.2 1784.1,636.9 1784.8,636.4 1785.6,636.1 1786.4,637.6 1787.2,636.2 1788.0,636.0 1788.8,636.0 1789.6,637.2 1790.4,635.8 1791.2,637.6 1791.9,637.5 1792.7,634.8 1793.5,636.3 1794.3,636.5 1795.1,635.3 1795.9,636.6 1796.7,635.1 1797.5,634.6 1798.3,633.8 1799.0,635.4 1799.8,635.9 1800.6,633.9 1801.4,633.0 1802.2,633.7 1803.0,633.9 1803.8,634.6 1804.6,634.5 1805.4,633.0 1806.2,633.1 1807.0,634.4 1807.8,635.1 1808.6,635.2 1809.4,635.6 1810.2,633.8 1811.0,636.0 1811.8,634.1 1812.6,633.1 1813.4,634.6 1814.2,635.4 1815.0,636.6 1815.8,636.7 1816.6,637.2 1817.4,635.6 1818.2,634.2 1819.0,637.5 1819.8,637.1 1820.6,635.7 1821.4,636.7 1822.2,635.1 1823.0,634.0 1823.8,635.5 1824.6,636.1 1825.4,636.0 1826.2,636.2 1827.0,635.4 1827.8,637.4 1828.6,637.4 1829.4,636.2 1830.2,638.2 1831.0,636.6 1831.8,637.7 1832.6,637.5 1833.3,637.9 1834.1,638.0 1834.9,637.5 1835.7,637.6 1836.5,635.8 1837.3,638.0 1838.1,637.7 1838.9,637.7 1839.7,638.3 1840.5,636.7 1841.3,638.6 1842.1,638.3 1842.9,636.3 1843.7,637.2 1844.5,639.5 1845.3,638.0 1846.1,637.5 1846.9,638.6 1847.7,637.7 1848.4,637.8 1849.2,638.0 1850.0,638.6 1850.8,638.5 1851.6,639.6 1852.3,639.7 1853.1,639.6 1853.9,640.3 1854.7,638.7 1855.4,642.0 1856.2,640.8 1857.0,641.0 1857.8,640.3 1858.6,643.0 1859.3,642.3 1860.1,641.3 1860.9,641.7 1861.7,642.4 1862.5,641.7 1863.2,641.4 1864.0,642.7 1864.8,643.5 1865.5,642.6 1866.3,642.3 1867.1,644.0 1867.9,644.0 1868.6,642.4 1869.4,643.5 1870.2,644.8 1870.9,642.3 1871.7,645.0 1872.5,642.7 1873.3,646.9 1874.0,646.3 1874.8,645.3 1875.6,645.3 1876.3,645.6 1877.1,645.2 1877.9,646.7 1878.6,646.3 1879.4,647.9 1880.2,647.2 1881.0,648.6 1881.7,648.4 1882.5,649.3 1883.3,645.7 1884.0,649.6 1884.8,647.8 1885.6,648.4 1886.3,649.4 1887.1,648.3 1887.9,649.1 1888.7,649.0 1889.4,648.0 1890.2,650.1 1891.0,648.5 1891.8,650.0 1892.5,650.9 1893.3,651.0 1894.1,649.5 1894.9,649.5 1895.6,652.0 1896.4,653.3 1897.2,652.8 1897.9,650.9 1898.7,652.5 1899.5,654.0 1900.3,653.3 1901.0,653.6 1901.8,653.5 1902.6,652.1 1903.4,653.7 1904.1,654.5 1904.9,653.5 1905.7,651.8 1906.5,652.0 1907.2,656.1 1908.0,656.0 1908.8,655.3 1909.6,654.1 1910.3,656.9 1911.1,654.7 1911.9,653.5 1912.7,657.2 1913.5,656.0 1914.2,656.5 1915.0,655.6 1915.8,654.9 1916.6,655.3 1917.4,654.6 1918.1,656.6 1918.9,656.5 1919.7,657.2 1920.5,658.4 1921.2,657.8 1922.0,656.6 1922.8,658.2 1923.6,658.6 1924.4,660.0 1925.1,658.0 1925.9,659.5 1926.7,657.9 1927.5,659.7 1928.3,659.3 1929.0,658.6 1929.8,658.3 1930.6,659.5 1931.4,659.7 1932.2,659.7 1932.9,659.8 1933.7,659.0 1934.5,660.8 1935.3,659.4 1936.1,660.9 1936.9,662.8 1937.6,660.6 1938.4,660.5 1939.2,659.8 1940.0,663.8 1940.8,662.3 1941.5,661.6 1942.3,661.8 1943.1,662.1 1943.9,663.4 1944.7,663.3 1945.4,661.3 1946.2,663.7 1947.0,661.4 1947.8,662.3 1948.6,663.1 1949.3,663.3 1950.1,665.3 1950.9,664.0 1951.7,664.6 1952.5,664.1 1953.3,666.0 1954.0,664.3 1954.8,664.1 1955.6,667.1 1956.4,664.7 1957.2,663.7 1957.9,666.5 1958.7,664.2 1959.5,666.2 1960.3,667.9 1961.1,666.7 1961.9,666.6 1962.6,667.1 1963.4,666.3 1964.2,667.1 1965.0,669.0 1965.8,666.1 1966.6,667.3 1967.4,667.5 1968.1,667.0 1968.9,667.3 1969.7,666.2 1970.5,668.0 1971.3,668.8 1972.1,667.5 1972.9,669.2 1973.7,668.8 1974.4,669.6 1975.2,668.3 1976.0,668.1 1976.8,668.7 1977.6,669.4 1978.4,668.6 1979.2,670.6 1979.9,670.8 1980.7,669.4 1981.5,669.5 1982.3,670.5 1983.1,671.1 1983.9,672.3 1984.7,672.7 1985.5,672.3 1986.2,671.3 1987.0,671.5 1987.8,672.7 1988.6,671.6 1989.4,673.8 1990.2,672.7 1991.0,670.5 1991.8,673.4 1992.5,673.0 1993.3,673.8 1994.1,672.1 1994.9,671.6 1995.7,671.1 1996.5,675.0 1997.3,674.3 1998.1,671.9 1998.9,671.9 1999.7,672.2 2000.4,673.3 2001.2,673.4 2002.0,673.2 2002.8,673.7 2003.6,673.7 2004.4,675.2 2005.2,673.9 2006.0,673.5 2006.8,675.4 2007.6,674.6 2008.3,675.0 2009.1,674.5 2009.9,675.8 2010.7,674.0 2011.5,675.2 2012.3,676.5 2013.1,676.3 2013.9,675.1 2014.7,676.1 2015.5,676.7 2016.2,677.7 2017.0,675.4 2017.8,675.4 2018.6,676.7 2019.4,676.3 2020.2,676.8 2021.0,675.6 2021.8,676.1 2022.6,676.5 2023.4,678.4 2024.2,677.9 2024.9,677.7 2025.7,678.6 2026.5,679.4 2027.3,676.3 2028.1,678.7 2028.9,677.0 2029.7,678.2 2030.5,679.2 2031.3,676.9 2032.1,679.2 2032.9,679.1 2033.7,678.5 2034.4,680.0 2035.2,678.0 2036.0,679.8 2036.8,678.0 2037.6,679.1 2038.4,678.9 2039.2,678.7 2040.0,680.4 2040.8,678.3 2041.6,679.6 2042.4,681.1 2043.2,680.6 2043.9,679.6 2044.7,680.6 2045.5,681.2 2046.3,679.7 2047.1,680.7 2047.9,682.0 2048.7,683.1 2049.5,681.5 2050.3,682.9 2051.1,682.6 2051.8,680.5 2052.6,682.6 2053.4,680.2 2054.2,681.0 2055.0,683.3 2055.8,682.8 2056.5,682.6 2057.3,683.6 2058.1,682.7 2058.9,681.9 2059.7,682.7 2060.5,682.8 2061.2,682.3 2062.0,684.2 2062.8,683.8 2063.6,684.4 2064.4,684.9 2065.2,685.4 2065.9,683.2 2066.7,686.2 2067.5,685.2 2068.3,684.7 2069.1,683.4 2069.9,685.5 2070.6,686.5 2071.4,684.2 2072.2,685.4 2073.0,686.4 2073.8,686.1 2074.6,688.6 2075.3,686.4 2076.1,687.1 2076.9,686.5 2077.7,686.3 2078.5,687.9 2079.2,688.2 2080.0,686.0 2080.8,688.4 2081.6,689.9 2082.3,687.5 2083.1,688.6 2083.9,690.9 2084.6,689.5 2085.4,690.6 2086.2,688.9 2086.9,690.3 2087.7,689.3 2088.5,689.4 2089.2,691.1 2090.0,691.5 2090.8,690.0 2091.5,693.2 2092.3,692.1 2093.1,691.9 2093.8,692.3 2094.6,692.4 2095.4,692.4 2096.1,691.7 2096.9,691.0 2097.7,692.0 2098.4,693.3 2099.2,693.5 2100.0,692.7 2100.7,692.9 2101.5,693.0 2102.2,693.6 2103.0,695.6 2103.7,697.2 2104.4,696.1 2105.1,696.2 2105.8,696.2 2106.5,695.9 2107.3,696.7 2108.0,697.6 2108.7,695.8 2109.4,697.9 2110.1,699.5 2110.8,700.7 2111.6,698.2 2112.3,701.0 2113.0,701.4 2113.7,702.0 2114.4,701.7 2115.1,702.9 2115.9,700.3 2116.6,701.2 2117.3,702.1 2118.0,702.2 2118.7,702.1 2119.4,702.1 2120.2,703.6 2120.9,704.6 2121.6,705.1 2122.4,703.0 2123.1,705.8 2123.9,706.0 2124.6,703.1 2125.4,703.4 2126.1,705.0 2126.9,705.6 2127.7,708.0 2128.4,706.6 2129.2,706.8 2129.9,706.4 2130.7,708.9 2131.4,709.5 2132.2,708.5 2132.9,708.8 2133.7,708.8 2134.4,708.2 2135.2,708.3 2135.9,709.2 2136.7,708.9 2137.4,710.7 2138.2,710.7 2139.0,708.5 2139.7,711.3 2140.5,711.3 2141.3,711.8 2142.1,710.6 2142.9,710.8 2143.7,709.8 2144.4,711.6 2145.2,711.5 2146.0,712.5 2146.8,712.1 2147.6,713.1 2148.4,712.9 2149.1,713.7 2149.9,714.0 2150.7,711.7 2151.5,712.9 2152.3,712.6 2153.1,712.2 2153.9,712.5 2154.7,714.3 2155.4,713.4 2156.2,714.7 2157.0,713.5 2157.8,715.5 2158.6,712.7 2159.4,714.1 2160.2,712.8 2161.0,713.8 2161.8,712.7 2162.6,713.4 2163.4,713.6 2164.2,713.8 2165.0,711.8 2165.8,713.0 2166.6,713.3 2167.4,715.7 2168.2,715.8 2169.0,713.9 2169.8,713.1 2170.6,714.6 2171.4,715.0 2172.2,715.4 2173.0,714.5 2173.8,713.9 2174.6,715.5 2175.4,711.9 2176.2,714.4 2177.0,712.9 2177.8,713.7 2178.6,712.5 2179.4,713.4 2180.2,713.3 2181.0,711.7 2181.8,715.6 2182.6,713.9 2183.4,712.4 2184.2,715.0 2185.0,712.9 2185.8,712.4 2186.6,714.1 2187.4,715.2 2188.1,712.9 2188.7,712.8 2189.3,712.6 2189.8,712.5 2190.4,711.0 2191.0,711.5 2191.6,710.8 2192.0,707.8 2192.3,709.0 2192.5,709.5 2192.7,707.6 2192.9,706.5 2193.2,704.6 2193.4,705.9 2193.5,703.5"/>
<polyline class="curve" stroke="#80e800" points="214.7,596.2 215.2,598.0 216.0,596.6 216.8,596.4 217.6,598.8 218.4,596.5 219.2,597.1 220.0,595.5 220.8,595.6 221.6,596.0 222.4,595.9 223.2,598.6 224.0,596.8 224.8,596.1 225.6,598.1 226.5,597.6 227.3,594.8 228.1,596.5 228.9,598.2 229.7,596.1 230.5,596.3 231.3,596.5 232.1,594.9 232.9,596.1 233.7,597.6 234.5,598.4 235.3,596.7 236.1,596.7 236.9,597.3 237.7,596.9 238.5,596.9 239.3,595.2 240.1,596.3 240.9,597.0 241.7,597.4 242.5,595.3 243.3,597.9 244.1,597.0 244.9,596.9 245.7,595.1 246.5,597.1 247.3,595.2 248.1,594.8 248.9,596.6 249.7,596.6 250.6,596.9 251.4,597.3 252.2,596.6 253.0,597.5 253.8,597.6 254.6,598.7 255.4,598.8 256.2,597.3 257.0,597.3 257.8,598.8 258.6,596.0 259.4,596.4 260.2,596.9 261.0,595.1 261.8,597.9 262.6,598.5 263.4,595.5 264.2,596.5 265.0,598.1 265.8,598.1 266.6,594.8 267.4,597.2 268.2,596.7 269.0,595.1 269.8,596.5 270.6,596.2 271.4,596.5 272.2,596.3 273.0,596.2 273.8,596.7 274.7,596.6 275.5,597.0 276.3,597.7 277.1,598.1 277.9,596.1 278.7,595.9 279.5,596.2 280.3,598.4 281.1,597.5 281.9,596.3 282.7,595.5 283.5,595.6 284.3,597.0 285.1,595.8 285.9,597.0 286.7,598.8 287.5,597.2 288.3,598.3 289.1,595.6 289.9,597.2 290.7,597.1 291.5,596.1 292.3,598.6 293.1,597.2 293.9,596.4 294.7,596.5 295.5,597.9 296.3,595.5 297.1,597.2 297.9,596.3 298.8,597.5 299.6,596.3 300.4,596.7 301.2,597.6 302.0,597.1 302.8,598.0 303.6,597.8 304.4,597.2 305.2,596.9 306.0,596.7 306.8,597.3 307.6,597.8 308.4,598.6 309.2,598.8 310.0,595.7 310.8,597.0 311.6,597.3 312.4,597.6 313.2,597.5 314.0,595.4 314.8,597.1 315.6,595.1 316.4,596.5 317.2,596.0 318.0,596.3 318.8,598.6 319.6,596.5 320.4,596.7 321.2,597.4 322.0,598.3 322.9,595.2 323.7,598.4 324.5,595.6 325.3,595.5 326.1,597.2 326.9,598.1 327.7,598.8 328.5,597.2 329.3,595.9 330.1,596.7 330.9,596.0 331.7,597.7 332.5,598.1 333.3,596.7 334.1,597.8 334.9,594.9 335.7,596.2 336.5,595.9 337.3,596.8 338.1,595.8 338.9,598.1 339.7,595.7 340.5,596.5 341.3,598.0 342.1,598.2 342.9,597.9 343.7,594.8 344.5,596.7 345.3,596.4 346.1,596.2 347.0,596.3 347.8,596.2 348.6,596.9 349.4,596.1 350.2,595.3 351.0,594.9 351.8,596.6 352.6,594.7 353.4,597.6 354.2,596.3 355.0,596.1 355.8,596.9 356.6,596.2 357.4,596.8 358.2,594.6 359.0,594.6 359.8,598.6 360.6,596.7 361.4,594.6 362.2,598.4 363.0,595.2 363.8,598.6 364.6,598.5 365.4,597.3 366.2,596.2 367.0,595.6 367.8,597.9 368.6,596.4 369.4,597.8 370.2,596.5 371.1,595.3 371.9,596.0 372.7,596.6 373.5,596.0 374.3,596.6 375.1,595.4 375.9,598.2 376.7,596.0 377.5,597.1 378.3,594.7 379.1,597.2 379.9,597.9 380.7,597.3 381.5,596.6 382.3,595.8 383.1,597.3 383.9,597.0 384.7,595.0 385.5,596.3 386.3,596.9 387.1,595.6 387.9,597.2 388.7,596.3 389.5,597.9 390.3,594.9 391.1,597.2 391.9,597.0 392.7,594.9 393.5,595.5 394.3,595.2 395.1,597.1 396.0,595.7 396.8,595.8 397.6,596.3 398.4,598.3 399.2,595.6 400.0,598.0 400.8,596.1 401.6,594.9 402.4,595.6 403.2,594.6 404.0,595.4 404.8,594.5 405.6,595.2 406.4,598.1 407.2,596.5 408.0,596.8 408.8,598.2 409.6,594.5 410.4,596.5 411.2,595.5 412.0,596.4 412.8,595.9 413.6,596.6 414.4,597.3 415.2,597.0 416.0,595.7 416.8,596.0 417.6,594.2 418.4,594.2 419.2,597.4 420.1,598.1 420.9,596.5 421.7,595.3 422.5,596.3 423.3,597.8 424.1,595.2 424.9,596.4 425.7,596.9 426.5,595.2 427.3,597.6 428.1,596.8 428.6,597.5"/>
<polyline class="curve" stroke="#80e800" points="421.2,595.8 421.3,596.6 421.5,600.1 421.7,599.1 421.9,601.1 422.0,601.1 422.2,601.9 422.4,601.4 422.6,604.2 422.9,604.8 423.4,602.6 424.1,604.7 424.9,605.6 425.7,604.0 426.5,603.4 427.3,602.9 428.1,605.0 428.9,603.9 429.7,604.5 430.5,602.9 431.3,602.2 432.1,602.6 432.9,603.5 433.7,604.2 434.5,604.7 435.3,604.2 436.1,604.3 436.9,605.0 437.7,603.7 438.5,604.0 439.3,602.4 440.1,604.2 440.9,602.7 441.7,603.7 442.5,604.4 443.3,604.8 444.1,604.4 444.9,604.5 445.7,604.6 446.5,604.0 447.3,604.6 448.1,604.7 448.9,604.5 449.7,602.4 450.5,605.8 451.3,604.0 452.1,603.1 452.9,605.3 453.7,604.3 454.5,603.0 455.3,603.7 456.1,604.6 456.9,604.0 457.7,605.2 458.5,603.6 459.3,602.2 460.1,605.1 460.9,602.6 461.7,602.2 462.5,602.7 463.3,604.2 464.1,602.4 464.9,603.3 465.7,604.5 466.5,604.7 467.3,604.5 468.1,603.2 468.9,604.0 469.7,605.3 470.5,604.2 471.3,604.8 472.1,604.1 472.9,602.2 473.7,603.0 474.5,604.5 475.3,603.2 476.1,602.8 476.9,604.6 477.7,603.3 478.5,605.2 479.3,603.3 480.1,604.5 480.9,603.1 481.7,604.9 482.5,603.8 483.3,604.4 484.1,603.1 484.9,604.1 485.7,603.9 486.5,604.6 487.3,604.0 488.1,603.9 488.9,605.4 489.7,604.5 490.5,605.3 491.3,603.1 492.1,606.0 492.9,604.8 493.7,604.3 494.5,603.2 495.3,603.0 496.1,604.3 496.9,604.5 497.7,604.1 498.5,605.0 499.3,603.1 500.1,604.4 500.9,603.9 501.7,605.3 502.5,602.8 503.3,603.3 504.1,604.6 504.9,604.4 505.7,603.6 506.5,604.0 507.3,604.6 508.1,603.7 508.9,606.2 509.7,603.2 510.5,605.2 511.3,602.2 512.1,604.6 512.9,603.0 513.7,604.3 514.5,604.2 515.3,603.4 516.1,603.5 516.9,602.9 517.7,602.9 518.5,604.0 519.3,602.2 520.1,604.0 520.9,602.8 521.7,604.4 522.5,604.0 523.3,604.6 524.1,604.1 524.9,604.5 525.7,603.7 526.5,603.9 527.3,604.6 528.1,605.3 528.9,604.3 529.7,603.1 530.5,602.2 531.3,603.8 532.1,604.4 532.9,604.0 533.7,605.2 534.5,604.8 535.3,603.8 536.1,602.6 536.9,604.0 537.7,603.3 538.5,602.3 539.3,604.1 540.1,603.7 540.9,604.7 541.7,602.2 542.5,602.2 543.3,603.5 544.1,605.3 544.9,604.1 545.7,603.8 546.5,603.8 547.3,603.4 548.1,602.4 548.9,603.7 549.7,602.9 550.5,602.2 551.3,605.2 552.1,602.6 552.9,604.0 553.7,605.4 554.5,603.5 555.3,603.6 556.1,603.5 556.9,604.8 557.7,604.4 558.5,604.7 559.3,602.2 560.1,604.1 560.9,603.3 561.7,604.0 562.5,602.3 563.3,603.7 564.1,603.9 564.9,603.8 565.7,604.0 566.5,602.8 567.3,605.2 568.1,604.9 568.9,602.9 569.7,604.3 570.5,604.5 571.4,604.3 572.2,602.4 573.0,604.4 573.8,604.9 574.6,602.2 575.4,604.6 576.2,606.1 577.0,603.7 577.8,605.6 578.6,606.2 579.4,604.1 580.2,605.3 581.0,605.5 581.8,603.4 582.6,604.2 583.4,604.9 584.2,604.9 585.0,604.2 585.8,603.9 586.6,605.9 587.4,606.2 588.2,604.8 589.0,605.0 589.8,603.4 590.6,603.4 591.4,603.8 592.2,604.9 593.0,605.3 593.8,604.5 594.6,603.5 595.4,604.0 596.2,604.8 597.0,604.2 597.8,603.6 598.6,606.2 599.4,602.8 600.2,603.6 601.0,605.9 601.8,604.6 602.6,605.7 603.4,604.6 604.2,603.3 605.0,603.7 605.8,602.8 606.6,604.4 607.4,604.8 608.2,603.2 609.0,604.3 609.8,603.1 610.6,602.2 611.4,602.2 612.2,604.7 613.0,605.9 613.8,606.2 614.6,603.2 615.4,605.4 616.2,604.3 617.0,603.7 617.8,602.2 618.6,604.7 619.4,603.9 620.2,604.0 621.0,605.2 621.8,604.4 622.6,602.5 623.4,605.6 624.2,602.3 625.0,604.2 625.8,603.9 626.6,605.9 627.4,603.1 628.2,602.2 629.0,604.3 629.8,602.6 630.6,602.2 631.4,603.0 632.2,603.9 633.0,602.8 633.8,605.4 634.6,602.4 635.4,602.7 636.2,603.0 637.0,604.1 637.8,604.6 638.6,603.4 639.4,604.4 640.2,602.6 641.0,604.8 641.8,603.8 642.6,603.9 643.4,605.0 644.2,604.7 645.0,603.3 645.8,603.4 646.6,604.8 647.4,605.6 648.2,602.9 649.0,604.3 649.8,603.2 650.6,606.2 651.4,605.3 652.2,602.7 653.0,605.5 653.8,603.1 654.6,603.7 655.4,604.9 656.2,606.2 657.0,603.5 657.8,605.5 658.6,604.0 659.4,603.3 660.2,603.0 661.0,603.6 661.8,603.7 662.6,604.1 663.4,605.1 664.2,604.4 665.0,606.1 665.8,606.1 666.6,604.7 667.4,604.0 668.2,605.1 669.0,603.5 669.8,605.1 670.6,604.6 671.4,605.6 672.2,602.8 673.0,604.9 673.8,605.7 674.6,604.2 675.4,604.2 676.2,603.8 677.0,602.4 677.8,603.3 678.6,604.6 679.4,605.8 680.2,602.4 681.0,603.9 681.8,605.6 682.6,604.0 683.4,604.0 684.2,604.3 685.0,603.3 685.8,602.2 686.6,604.6 687.4,605.1 688.2,606.2 689.0,605.1 689.8,602.2 690.6,604.3 691.4,603.5 692.2,604.9 693.0,605.3 693.8,603.0 694.6,605.3 695.4,604.8 696.2,605.0 697.0,604.3 697.8,604.7 698.6,603.3 699.4,604.5 700.2,605.2 701.0,603.7 701.8,605.3 702.6,603.0 703.4,604.3 704.2,604.8 705.0,605.6 705.8,603.9 706.6,606.2 707.4,604.7 708.2,603.3 709.0,602.5 709.8,603.0 710.6,603.8 711.4,604.7 712.2,604.3 713.0,606.2 713.8,605.5 714.6,604.7 715.4,606.2 716.2,603.9 717.0,603.6 717.8,604.2 718.6,604.5 719.4,604.6 720.2,605.8 721.0,605.6 721.8,604.3 722.6,603.2 723.4,602.5 724.2,605.4 725.0,606.2 725.8,605.3 726.6,604.3 727.4,604.0 728.2,603.3 729.0,604.2 729.8,603.2 730.6,605.1 731.4,602.2 732.2,603.6 733.0,604.1 733.8,603.2 734.6,603.7 735.4,604.4 736.2,604.3 737.0,603.1 737.8,604.7 738.6,603.8 739.4,604.6 740.2,602.9 741.0,604.3 741.8,602.4 742.6,602.2 743.4,603.4 744.2,603.4 745.0,606.0 745.8,604.4 746.6,605.9 747.4,606.2 748.2,603.1 749.0,604.9 749.8,604.3 750.6,602.6 751.4,604.3 752.2,604.0 753.0,602.7 753.8,604.9 754.6,604.6 755.4,604.3 756.2,604.5 757.0,604.9 757.8,605.0 758.6,602.2 759.4,604.8 760.2,602.9 761.0,605.3 761.8,603.9 762.6,603.9 763.4,604.4 764.2,606.2 765.0,606.0 765.8,604.1 766.6,604.4 767.4,605.3 768.2,604.4 769.0,604.0 769.8,603.4 770.6,605.8 771.4,602.9 772.2,602.8 773.0,603.1 773.8,603.6 774.6,604.0 775.5,603.7 776.3,605.3 777.1,602.2 777.9,603.2 778.7,605.5 779.5,603.9 780.3,604.4 781.1,605.4 781.9,603.8 782.7,605.1 783.5,604.0 784.3,602.9 785.1,603.6 785.9,604.2 786.7,605.6 787.5,605.3 788.3,605.0 789.1,604.7 789.9,604.0 790.7,604.6 791.5,604.3 792.3,604.5 793.1,606.2 793.9,604.7 794.7,604.2 795.5,604.5 796.3,604.2 797.1,603.3 797.9,603.9 798.7,604.7 799.5,604.3 800.3,604.0 801.1,603.3 801.9,603.2 802.7,603.6 803.5,604.1 804.3,603.5 805.1,605.1 805.9,605.7 806.7,602.2 807.5,605.6 808.3,604.3 809.1,604.1 809.9,604.8 810.7,602.5 811.5,604.4 812.3,602.9 813.1,603.8 813.9,603.4 814.7,605.1 815.5,604.7 816.3,604.5 817.1,604.8 817.9,605.6 818.7,604.9 819.5,604.7 820.3,605.8 821.1,604.3 821.9,604.0 822.7,605.2 823.5,604.9 824.3,605.6 825.1,603.2 825.9,603.4 826.7,604.1 827.5,605.0 828.3,604.7 829.1,604.1 829.9,603.8 830.7,603.8 831.5,603.7 832.3,602.2 833.1,604.1 833.9,602.3 834.7,603.5 835.5,604.2 836.3,605.5 837.1,603.7 837.9,604.8 838.7,606.2 839.5,604.4 840.3,603.2 841.1,605.4 841.9,605.2 842.7,604.0 843.5,606.2 844.3,604.3 845.1,604.6 845.9,604.5 846.7,603.0 847.5,603.7 848.3,604.3 849.1,605.0 849.9,604.8 850.7,604.4 851.5,602.3 852.3,604.4 853.1,604.2 853.9,605.6 854.7,604.5 855.5,605.8 856.3,604.8 857.1,604.5 857.9,603.9 858.7,604.6 859.5,603.8 860.3,605.2 861.1,602.4 861.9,603.6 862.7,604.2 863.5,602.5 864.3,604.8 865.1,605.2 865.9,604.3 866.7,603.7 867.5,603.3 868.3,603.5 869.1,604.2 869.9,605.0 870.7,604.4 871.5,602.6 872.3,604.0 873.1,604.2 873.9,604.6 874.7,603.3 875.5,604.3 876.3,604.7 877.1,604.0 877.9,605.4 878.7,604.2 879.5,604.8 880.3,603.8 881.1,604.7 881.9,602.3 882.7,606.1 883.5,603.9 884.3,604.6 885.1,602.7 885.9,606.2 886.7,603.1 887.5,603.2 888.3,603.4 889.1,603.2 889.9,602.6 890.7,603.4 891.5,605.4 892.3,604.7 893.1,605.5 893.9,605.1 894.7,604.0 895.5,604.8 896.3,604.6 897.1,603.0 897.9,603.8 898.7,604.6 899.5,603.6 900.3,604.1 901.1,602.9 901.9,605.3 902.7,603.5 903.5,602.5 904.3,604.9 905.1,605.1 905.9,604.2 906.7,604.3 907.5,604.6 908.3,604.2 909.1,604.4 909.9,604.1 910.7,605.7 911.5,603.9 912.3,602.2 913.1,603.9 913.9,605.8 914.7,603.3 915.5,602.5 916.3,603.5 917.1,605.7 917.9,602.8 918.7,604.3 919.5,601.7 920.3,603.5 921.1,602.5 921.9,605.4 922.7,602.1 923.5,603.0 924.3,602.6 925.1,605.1 925.9,605.5 926.7,603.2 927.5,603.5 928.3,602.9 929.1,603.6 929.9,602.5 930.7,601.4 931.5,603.1 932.3,602.9 933.1,602.8 933.9,602.7 934.7,602.0 935.5,603.8 936.3,603.6 937.1,603.1 937.9,602.7 938.7,602.3 939.5,601.8 940.3,604.1 941.1,604.4 941.9,601.9 942.7,602.5 943.5,601.6 944.3,603.3 945.1,604.4 945.9,602.9 946.7,603.8 947.5,600.9 948.3,600.9 949.1,603.6 949.9,601.3 950.7,602.2 951.5,602.0 952.3,604.3 953.1,601.7 953.9,601.0 954.7,604.5 955.5,602.9 956.3,603.1 957.1,601.3 957.9,603.8 958.7,603.8 959.5,603.1 960.3,602.3 961.1,603.6 961.9,602.8 962.7,602.3 963.5,600.8 964.3,602.6 965.1,604.3 965.9,602.5 966.7,603.1 967.5,602.0 968.3,601.4 969.1,601.8 969.9,600.5 970.7,600.8 971.5,600.3 972.3,602.2 973.1,603.4 973.9,599.9 974.7,601.5 975.5,601.1 976.3,601.7 977.1,601.6 977.9,601.2 978.7,602.1 979.5,601.9 980.3,602.0 981.1,600.4 981.9,602.5 982.7,600.9 983.5,601.2 984.3,601.3 985.1,600.9 985.9,601.2 986.7,602.3 987.5,602.5 988.3,601.7 989.1,601.6 989.9,599.5 990.7,601.0 991.5,599.2 992.3,599.1 993.1,599.5 993.9,603.0 994.7,601.1 995.5,599.3 996.3,601.4 997.1,601.9 997.9,601.2 998.7,601.6 999.5,599.7 1000.3,601.5 1001.1,598.7 1001.9,599.7 1002.7,600.6 1003.5,599.2 1004.3,599.7 1005.1,602.5 1005.9,599.1 1006.7,601.3 1007.5,598.4 1008.3,599.7 1009.1,602.4 1009.9,602.1 1010.7,599.4 1011.5,601.7 1012.3,599.7 1013.1,601.1 1013.9,600.8 1014.7,600.2 1015.5,600.2 1016.3,599.4 1017.1,601.5 1017.9,599.5 1018.7,598.8 1019.5,600.5 1020.3,599.2 1021.1,599.9 1021.9,600.2 1022.7,599.5 1023.5,599.0 1024.3,599.5 1025.1,599.3 1025.9,599.4 1026.7,598.8 1027.5,600.2 1028.3,600.2 1029.1,598.5 1029.9,597.7 1030.7,598.5 1031.5,597.6 1032.3,598.8 1033.1,599.7 1033.9,599.2 1034.7,598.9 1035.5,598.7 1036.3,600.8 1037.1,599.0 1037.9,598.7 1038.7,601.1 1039.5,597.3 1040.3,601.0 1041.1,599.6 1041.9,601.0 1042.7,601.0 1043.5,600.0 1044.3,598.5 1045.1,598.7 1045.9,598.0 1046.7,599.3 1047.5,600.3 1048.3,598.5 1049.1,600.7 1049.9,598.7 1050.7,597.3 1051.5,600.2 1052.3,599.3 1053.1,599.4 1053.9,596.9 1054.7,598.5 1055.5,598.0 1056.3,599.4 1057.1,599.3 1057.9,598.0 1058.7,598.7 1059.5,596.7 1060.3,598.0 1061.1,598.1 1061.9,598.4 1062.7,599.0 1063.5,596.9 1064.3,597.8 1065.1,599.7 1065.8,599.4 1066.6,599.0 1067.4,597.1 1068.2,596.1 1069.0,597.2 1069.8,596.3 1070.6,597.3 1071.4,597.5 1072.2,599.0 1073.0,596.8 1073.8,598.6 1074.6,598.9 1075.4,597.2 1076.2,596.8 1077.0,594.7 1077.8,597.2 1078.6,597.5 1079.4,598.4 1080.2,595.3 1081.0,596.4 1081.8,595.5 1082.6,595.1 1083.4,598.1 1084.2,595.6 1085.0,597.9 1085.8,593.9 1086.6,596.8 1087.4,595.2 1088.2,596.8 1088.9,595.4 1089.7,595.5 1090.5,595.6 1091.3,594.9 1092.1,595.0 1092.9,595.0 1093.7,595.7 1094.5,594.2 1095.3,594.0 1096.1,594.0 1096.9,593.7 1097.6,592.5 1098.4,593.1 1099.2,593.9 1100.0,593.9 1100.8,593.0 1101.6,593.9 1102.4,591.3 1103.2,593.3 1104.0,592.8 1104.8,592.7 1105.6,592.7 1106.3,592.4 1107.1,592.7 1107.8,593.0 1108.6,592.7 1109.3,592.1 1110.1,590.3 1110.8,589.7 1111.5,592.1 1112.3,588.4 1113.0,588.5 1113.7,588.8 1114.5,590.0 1115.2,589.3 1115.9,589.0 1116.7,587.7 1117.4,586.1 1118.1,589.1 1118.8,588.4 1119.5,586.3 1120.1,586.6 1120.8,585.3 1121.5,586.6 1122.1,586.6 1122.8,584.8 1123.4,582.2 1124.1,582.0 1124.7,584.8 1125.4,583.5 1126.0,581.1 1126.7,583.4 1127.4,579.9 1128.0,580.7 1128.7,579.2 1129.3,580.3 1129.9,580.0 1130.5,577.8 1131.0,578.4 1131.6,578.7 1132.2,579.2 1132.7,576.8 1133.3,576.2 1133.8,574.2 1134.4,574.7 1134.9,576.3 1135.5,574.1 1136.0,573.0 1136.6,572.5 1137.1,574.0 1137.7,571.6 1138.2,569.8 1138.8,569.5 1139.3,569.7 1139.9,569.3 1140.4,567.5 1141.0,568.8 1141.6,568.4 1142.2,568.8 1142.8,567.0 1143.4,564.2 1144.0,564.3 1144.6,565.1 1145.2,562.9 1145.8,563.8 1146.4,562.1 1147.0,562.6 1147.6,564.1 1148.2,559.8 1148.8,561.9 1149.4,562.5 1150.0,560.2 1150.6,560.6 1151.2,559.9 1151.8,558.4 1152.4,556.9 1153.0,555.8 1153.7,557.3 1154.3,557.9 1155.0,556.1 1155.6,554.7 1156.2,555.7 1156.9,554.1 1157.5,554.1 1158.2,554.6 1158.8,552.5 1159.5,553.5 1160.1,550.2 1160.7,552.5 1161.4,551.2 1162.0,549.1 1162.7,550.5 1163.3,549.9 1164.0,549.3 1164.6,547.3 1165.2,549.4 1165.9,546.9 1166.5,547.5 1167.2,547.0 1167.9,545.8 1168.7,547.4 1169.4,546.9 1170.1,545.6 1170.9,545.9 1171.6,544.5 1172.4,544.0 1173.1,546.5 1173.8,544.5 1174.6,544.2 1175.3,543.6 1176.1,544.0 1176.8,541.9 1177.5,540.7 1178.3,541.4 1179.0,541.6 1179.7,541.1 1180.5,540.8 1181.2,542.4 1182.0,540.4 1182.7,542.2 1183.4,540.2 1184.2,540.0 1184.8,540.1 1185.5,539.1 1186.2,538.4 1186.8,539.0 1187.5,537.7 1188.1,538.3 1188.8,536.7 1189.4,535.9 1190.1,535.3 1190.8,535.0 1191.4,534.6 1192.1,534.0 1192.7,534.9 1193.4,535.5 1194.0,533.5 1194.7,531.9 1195.3,531.9 1196.0,531.3 1196.7,529.5 1197.3,530.6 1198.0,530.7 1198.6,529.0 1199.3,527.8 1200.0,527.6 1200.6,529.9 1201.3,528.6 1202.0,526.8 1202.6,527.7 1203.3,525.6 1204.0,526.7 1204.6,524.0 1205.3,525.5 1206.0,525.5 1206.6,525.3 1207.3,523.6 1208.0,522.8 1208.7,523.9 1209.4,523.9 1210.2,522.2 1211.0,522.6 1211.7,521.2 1212.5,522.5 1213.3,520.2 1214.0,522.0 1214.8,520.2 1215.6,522.2 1216.4,522.0 1217.1,519.6 1217.9,520.3 1218.7,521.5 1219.5,520.5 1220.2,521.1 1221.0,522.4 1221.8,522.8 1222.6,524.1 1223.4,521.3 1224.1,524.4 1224.9,522.7 1225.7,521.9 1226.5,522.8 1227.3,524.6 1228.0,521.9 1228.8,523.8 1229.6,522.5 1230.4,522.4 1231.1,524.9 1231.9,523.7 1232.6,524.8 1233.3,522.9 1234.0,521.0 1234.7,523.8 1235.4,522.7 1236.1,521.9 1236.8,522.3 1237.5,522.8 1238.2,521.7 1239.0,518.6 1239.7,519.4 1240.4,520.1 1241.1,519.5 1241.8,519.2 1242.5,518.5 1243.2,516.4 1243.9,517.9 1244.6,516.7 1245.2,514.9 1245.8,517.4 1246.4,514.7 1247.0,515.9 1247.6,514.3 1248.3,514.4 1248.9,513.0 1249.5,514.6 1250.1,510.7 1250.7,511.9 1251.3,511.2 1251.9,511.8 1252.5,510.5 1253.1,508.7 1253.7,509.4 1254.3,508.6 1254.9,509.5 1255.5,508.3 1256.1,506.0 1256.6,506.7 1257.2,504.2 1257.7,505.5 1258.2,505.9 1258.7,505.9 1259.3,503.1 1259.8,502.1 1260.3,504.1 1260.9,503.9 1261.4,502.2 1261.9,500.7 1262.5,499.0 1263.0,499.6 1263.5,497.8 1264.1,496.7 1264.6,495.8 1265.1,497.9 1265.7,496.8 1266.2,494.0 1266.7,494.2 1267.3,493.5 1267.8,493.2 1268.3,492.0 1268.9,493.2 1269.4,491.8 1269.9,490.7 1270.4,489.2 1271.0,492.2 1271.5,489.4 1272.0,490.7 1272.6,489.1 1273.1,488.1 1273.6,487.3 1274.2,487.2 1274.7,487.3 1275.2,485.0 1275.8,485.9 1276.3,483.0 1276.8,483.9 1277.4,484.1 1277.9,484.1 1278.4,484.2 1279.0,480.7 1279.5,480.4 1280.1,480.1 1280.7,479.4 1281.3,477.8 1281.9,479.1 1282.5,478.3 1283.1,478.9 1283.8,476.8 1284.4,477.2 1285.0,476.3 1285.6,476.4 1286.2,474.9 1286.8,474.4 1287.4,473.4 1288.0,474.6 1288.6,472.8 1289.2,471.5 1289.8,470.2 1290.4,471.8 1290.9,469.7 1291.4,469.9 1292.0,469.0 1292.5,470.3 1293.0,467.3 1293.5,467.2 1294.0,468.6 1294.6,466.2 1295.1,466.5 1295.6,464.8 1296.1,466.5 1296.6,465.3 1297.2,463.5 1297.7,463.8 1298.2,462.0 1298.7,463.0 1299.2,459.3 1299.7,461.6 1300.3,459.8 1300.8,461.5 1301.3,460.5 1301.8,459.3 1302.4,459.4 1303.0,456.2 1303.6,456.9 1304.2,456.5 1304.9,453.8 1305.5,455.5 1306.1,456.3 1306.7,454.9 1307.3,453.6 1307.9,454.4 1308.6,452.9 1309.2,453.3 1309.8,450.6 1310.4,451.6 1311.0,450.7 1311.6,448.3 1312.3,448.4 1312.9,450.1 1313.5,448.0 1314.2,449.3 1314.8,448.4 1315.5,446.1 1316.1,445.1 1316.8,445.5 1317.5,445.1 1318.1,444.4 1318.8,445.0 1319.5,444.9 1320.1,446.0 1320.8,443.8 1321.5,443.6 1322.1,444.7 1322.8,443.8 1323.4,441.8 1324.1,441.0 1324.8,440.0 1325.5,441.2 1326.3,440.3 1327.0,439.6 1327.8,439.5 1328.6,440.1 1329.4,439.7 1330.2,439.9 1330.9,441.2 1331.7,439.8 1332.5,438.7 1333.3,440.6 1334.0,437.5 1334.8,438.5 1335.6,436.9 1336.4,438.9 1337.1,437.6 1337.9,439.3 1338.6,436.1 1339.4,434.8 1340.1,435.4 1340.9,435.7 1341.6,434.8 1342.4,436.8 1343.1,436.7 1343.9,434.7 1344.7,435.1 1345.4,433.7 1346.2,434.0 1346.9,433.5 1347.7,434.8 1348.4,433.3 1349.2,434.1 1349.9,434.4 1350.7,432.6 1351.3,432.2 1352.0,433.3 1352.6,431.7 1353.3,431.3 1353.9,429.5 1354.6,430.9 1355.2,430.7 1355.8,429.6 1356.5,429.1 1357.1,427.8 1357.8,429.0 1358.4,425.9 1359.0,427.3 1359.7,425.2 1360.3,424.4 1361.0,424.7 1361.6,425.1 1362.2,425.2 1362.9,423.9 1363.6,423.2 1364.2,424.8 1364.9,421.6 1365.6,421.6 1366.2,422.2 1366.9,420.9 1367.6,421.1 1368.2,418.2 1368.9,418.9 1369.6,417.8 1370.2,418.8 1370.9,417.8 1371.6,419.8 1372.2,417.6 1372.9,418.0 1373.6,416.5 1374.2,417.5 1374.9,414.9 1375.5,414.5 1376.0,415.1 1376.5,412.0 1377.0,412.2 1377.5,411.8 1378.0,411.6 1378.4,410.5 1378.9,409.0 1379.4,408.7 1379.9,409.8 1380.4,410.0 1380.9,407.3 1381.4,407.4 1381.9,407.8 1382.4,406.7 1382.9,407.4 1383.4,406.5 1383.9,403.2 1384.3,404.6 1384.8,403.4 1385.3,402.8 1385.7,403.0 1386.1,402.5 1386.5,401.4 1386.9,400.2 1387.3,398.8 1387.7,398.6 1388.1,397.6 1388.5,398.6 1388.8,396.3 1389.2,394.5 1389.6,394.0 1390.0,395.3 1390.4,395.1 1390.8,391.6 1391.2,390.1 1391.6,392.0 1392.0,390.5 1392.3,389.8 1392.7,388.4 1393.0,389.3 1393.2,388.2 1393.5,388.0 1393.8,384.5 1394.0,385.5 1394.3,384.0 1394.6,383.8 1394.8,382.2 1395.1,380.5 1395.4,381.6 1395.6,380.9 1395.9,380.3 1396.2,380.5 1396.5,378.6 1396.7,377.0 1397.0,377.7 1397.3,377.5 1397.5,376.1 1397.8,375.3 1398.1,374.1 1398.3,373.2 1398.6,371.1 1398.9,370.8 1399.1,370.3 1399.4,369.9 1399.7,369.2 1399.9,368.8 1400.1,366.1 1400.3,366.3 1400.6,367.7 1400.8,365.0 1401.0,365.3 1401.2,364.1 1401.4,362.3 1401.6,362.8 1401.8,361.6 1402.1,360.8 1402.3,361.5 1402.5,360.1 1402.7,358.3 1402.9,357.5 1403.1,359.3 1403.3,358.5 1403.6,356.5 1403.8,353.3 1404.0,354.6 1404.2,352.6 1404.4,353.7 1404.6,352.2 1404.8,351.3 1405.1,351.9 1405.3,348.1 1405.5,350.0 1405.7,348.1 1405.9,346.0 1406.1,347.6 1406.3,346.8 1406.6,346.0 1406.8,343.8 1407.0,342.6 1407.2,342.0 1407.4,343.9 1407.6,341.8 1407.8,340.7 1408.1,338.9 1408.3,339.6 1408.5,338.9 1408.7,335.3 1408.9,337.8 1409.1,333.8 1409.3,334.6 1409.6,333.6 1409.8,334.7 1410.0,333.7 1410.2,331.3 1410.4,332.1 1410.6,330.3 1410.8,329.6 1411.1,326.8 1411.3,328.5 1411.5,326.3 1411.7,327.0 1411.9,326.3 1412.1,323.9 1412.3,322.8 1412.6,324.1 1412.8,324.2 1413.0,322.7 1413.2,321.0 1413.4,321.4 1413.6,319.4 1413.8,319.3 1414.0,319.1 1414.2,317.9 1414.4,314.9 1414.6,316.3 1414.8,315.6 1414.9,313.7 1415.1,311.3 1415.3,312.1 1415.5,313.5 1415.7,313.0 1415.8,311.4 1416.0,310.8 1416.2,308.7 1416.4,308.1 1416.5,307.3 1416.7,304.9 1416.9,305.6 1417.1,305.4 1417.3,304.4 1417.4,303.6 1417.6,302.4 1417.8,301.5 1418.0,301.1 1418.1,299.7 1418.3,299.6 1418.5,298.3 1418.7,296.4 1418.9,297.6 1419.0,296.2 1419.2,294.1 1419.4,294.0 1419.6,294.3 1419.7,291.4 1419.9,292.9 1420.1,293.0 1420.3,290.3 1420.4,291.2 1420.6,289.4 1420.8,288.3 1421.0,288.4 1421.2,286.8 1421.3,286.2 1421.5,283.7 1421.7,285.7 1421.9,282.4 1422.1,282.0 1422.3,283.1 1422.5,281.7 1422.7,279.9 1422.9,279.9 1423.1,278.5 1423.3,278.1 1423.5,277.7 1423.7,277.1 1423.9,274.7 1424.1,275.8 1424.3,273.8 1424.4,273.9 1424.6,271.7 1424.8,271.1 1425.0,271.6 1425.2,268.6 1425.4,267.8 1425.6,268.0 1425.8,268.0 1426.0,267.2 1426.2,266.9 1426.4,265.7 1426.6,266.5 1426.8,263.0 1427.0,263.2 1427.2,263.9 1427.4,262.3 1427.6,260.4 1427.7,260.9 1427.9,259.2 1428.1,258.7 1428.3,257.3 1428.5,256.2 1428.8,254.7 1429.0,256.9 1429.3,256.2 1429.5,253.6 1429.8,251.5 1430.1,253.0 1430.3,250.0 1430.6,250.6 1430.8,250.7 1431.1,248.9 1431.3,250.1 1431.6,247.8 1431.8,246.8 1432.1,246.2 1432.3,246.2 1432.6,244.6 1432.8,243.5 1433.1,242.7 1433.3,242.2 1433.6,240.6 1433.8,239.4 1434.1,240.6 1434.5,240.3 1434.9,238.4 1435.3,238.5 1435.7,237.8 1436.1,237.4 1436.6,235.7 1437.0,235.2 1437.4,234.9 1437.8,234.7 1438.3,233.5 1438.7,235.1 1439.1,232.4 1439.5,233.3 1440.1,232.2 1440.7,229.8 1441.4,229.3 1442.1,232.1 1442.9,228.7 1443.6,227.9 1444.3,229.9 1445.1,228.8 1445.8,229.1 1446.4,229.0 1447.1,228.7 1447.8,229.3 1448.5,232.6 1449.2,231.8 1449.9,232.1 1450.5,230.5 1451.0,232.6 1451.3,233.0 1451.6,234.6 1451.9,235.7 1452.1,235.0 1452.4,236.3 1452.7,237.3 1453.0,238.4 1453.2,238.1 1453.5,237.4 1453.8,241.3 1454.1,239.5 1454.4,240.7 1454.6,242.7 1454.8,243.4 1455.0,245.9 1455.1,244.8 1455.2,247.2 1455.3,246.1 1455.4,248.5 1455.5,246.6 1455.6,248.7 1455.7,247.5 1455.8,248.9 1455.9,250.1 1456.0,251.2 1456.1,250.6 1456.2,251.8 1456.4,254.2 1456.5,255.3 1456.6,254.1 1456.7,257.8 1456.8,257.5 1456.9,258.2 1457.0,258.3 1457.1,260.9 1457.2,260.6 1457.3,259.5 1457.4,263.7 1457.5,263.4 1457.6,264.2 1457.7,262.5 1457.8,264.9 1457.9,265.9 1458.0,267.6 1458.1,268.4 1458.2,267.9 1458.3,269.2 1458.4,268.2 1458.5,270.9 1458.6,271.1 1458.7,272.9 1458.8,275.2 1458.9,275.4 1459.0,275.8 1459.1,275.8 1459.2,276.1 1459.3,277.4 1459.4,279.3 1459.4,277.0 1459.5,279.6 1459.6,280.6 1459.7,282.9 1459.8,283.2 1459.9,282.1 1460.0,284.4 1460.1,284.5 1460.2,285.1 1460.3,286.6 1460.4,286.9 1460.5,286.7 1460.5,286.4 1460.6,287.5 1460.7,288.6 1460.8,290.8 1460.9,291.6 1461.0,291.2 1461.1,292.9 1461.2,294.0 1461.3,295.3 1461.4,295.3 1461.5,296.2 1461.6,295.6 1461.7,297.3 1461.7,296.7 1461.8,301.4 1461.9,300.1 1462.0,302.1 1462.1,301.4 1462.2,303.6 1462.3,303.4 1462.4,305.4 1462.5,305.2 1462.6,306.3 1462.7,305.8 1462.8,306.2 1462.8,306.2 1462.9,309.9 1463.0,309.8 1463.1,310.0 1463.2,312.1 1463.3,311.8 1463.4,312.4 1463.4,315.3 1463.5,314.7 1463.6,315.3 1463.7,316.2 1463.8,315.1 1463.9,317.6 1464.0,316.9 1464.0,320.0 1464.1,319.7 1464.2,320.2 1464.3,319.9 1464.4,322.4 1464.5,324.1 1464.6,325.6 1464.6,323.9 1464.7,324.9 1464.8,326.0 1464.9,328.2 1465.0,327.2 1465.1,330.8 1465.2,331.3 1465.2,332.5 1465.3,332.5 1465.4,333.8 1465.5,333.5 1465.6,334.4 1465.7,335.6 1465.7,337.0 1465.8,335.6 1465.9,335.8 1466.0,338.7 1466.1,339.0 1466.2,338.0 1466.3,340.1 1466.3,340.9 1466.4,343.4 1466.5,342.2 1466.6,344.2 1466.7,343.6 1466.8,345.1 1466.9,346.4 1466.9,346.9 1467.0,347.7 1467.1,348.4 1467.2,349.3 1467.3,350.3 1467.4,350.9 1467.5,352.7 1467.6,350.3 1467.7,352.7 1467.8,353.9 1467.9,354.8 1468.0,356.0 1468.1,357.7 1468.2,354.9 1468.3,357.0 1468.4,358.9 1468.5,361.1 1468.6,359.2 1468.7,360.7 1468.8,361.3 1468.9,363.0 1469.0,361.1 1469.1,365.0 1469.2,365.4 1469.3,365.1 1469.4,368.0 1469.5,367.9 1469.6,365.9 1469.7,368.8 1469.8,370.5 1469.9,370.5 1470.0,369.8 1470.1,372.2 1470.2,373.5 1470.3,373.3 1470.4,373.5 1470.5,375.2 1470.6,376.6 1470.7,378.2 1470.8,377.9 1470.9,377.5 1471.0,377.5 1471.1,379.0 1471.2,381.0 1471.3,381.4 1471.4,381.2 1471.5,381.3 1471.6,385.2 1471.7,383.3 1471.8,384.8 1471.9,385.8 1472.0,387.4 1472.1,389.3 1472.2,389.9 1472.3,387.9 1472.4,390.3 1472.5,391.1 1472.6,391.4 1472.7,391.3 1472.9,392.1 1473.0,394.3 1473.1,395.0 1473.2,394.6 1473.3,397.9 1473.4,396.7 1473.5,398.8 1473.6,398.2 1473.7,399.2 1473.8,398.4 1473.9,399.9 1474.0,404.0 1474.2,403.6 1474.3,403.9 1474.4,404.0 1474.5,405.0 1474.6,407.5 1474.7,407.3 1474.8,407.6 1474.9,407.8 1475.0,407.1 1475.1,409.5 1475.2,410.1 1475.3,410.4 1475.5,410.3 1475.6,413.8 1475.7,414.1 1475.8,413.8 1475.9,413.9 1476.0,417.0 1476.1,415.9 1476.3,415.9 1476.4,418.7 1476.5,419.0 1476.7,419.1 1476.8,420.1 1476.9,421.3 1477.1,421.2 1477.2,421.8 1477.3,423.6 1477.5,424.9 1477.6,426.4 1477.7,426.0 1477.9,426.7 1478.0,426.1 1478.1,429.9 1478.3,429.6 1478.4,430.4 1478.5,431.6 1478.6,431.7 1478.8,432.5 1478.9,431.6 1479.0,433.5 1479.2,434.8 1479.3,436.4 1479.4,436.5 1479.6,436.5 1479.7,438.3 1479.8,439.2 1480.0,441.0 1480.1,441.6 1480.3,440.8 1480.5,444.3 1480.8,444.5 1481.1,443.2 1481.4,443.1 1481.6,444.2 1481.9,446.4 1482.2,446.0 1482.5,447.8 1482.7,448.3 1483.0,448.4 1483.3,450.4 1483.6,450.8 1483.8,450.6 1484.1,452.9 1484.4,454.8 1484.7,452.9 1484.9,453.0 1485.2,454.7 1485.5,454.5 1485.8,457.1 1486.1,458.8 1486.6,458.3 1487.0,459.0 1487.5,458.0 1487.9,461.0 1488.4,459.1 1488.9,460.9 1489.3,461.7 1489.8,463.2 1490.3,463.5 1490.7,463.3 1491.2,464.8 1491.7,463.9 1492.1,465.2 1492.6,466.0 1492.8,466.1 1492.7,466.6 1492.2,464.9 1491.8,465.6 1491.3,465.4 1490.9,464.1 1490.4,462.5 1490.0,462.7 1489.5,462.4 1489.0,460.9 1488.6,460.8 1488.1,461.3 1487.7,461.0 1487.2,460.0 1486.8,458.8 1486.3,456.2 1485.8,458.1 1485.6,457.8 1485.7,458.2 1486.0,458.7 1486.5,457.8 1486.9,459.0 1487.3,459.6 1487.7,459.9 1488.2,458.5 1488.6,460.5 1489.0,461.9 1489.4,461.3 1489.9,461.6 1490.3,463.0 1490.7,464.6 1491.1,464.5 1491.6,467.6 1492.0,465.8 1492.4,467.9 1492.8,467.6 1493.3,469.2 1493.7,468.7 1494.2,470.9 1494.8,470.0 1495.6,470.3 1496.3,472.0 1497.0,472.1 1497.7,470.7 1498.5,470.9 1499.2,474.3 1499.9,472.7 1500.6,471.8 1501.4,473.8 1502.1,474.1 1502.8,475.3 1503.5,474.6 1504.3,474.4 1505.0,475.4 1505.7,477.0 1506.4,476.0 1507.2,475.9 1507.9,476.3 1508.6,477.0 1509.3,476.8 1510.1,477.4 1510.8,476.7 1511.5,477.1 1512.2,477.9 1513.0,479.7 1513.7,480.3 1514.4,480.0 1515.1,479.5 1515.9,480.1 1516.6,478.8 1517.4,481.9 1518.1,480.2 1518.9,480.4 1519.6,481.3 1520.4,482.0 1521.1,482.0 1521.9,480.3 1522.6,483.5 1523.4,482.1 1524.2,482.2 1524.9,483.6 1525.7,485.0 1526.4,485.2 1527.2,484.7 1527.9,484.6 1528.7,485.5 1529.4,484.9 1530.2,485.7 1530.9,484.5 1531.7,487.4 1532.4,485.3 1533.2,486.5 1533.9,486.7 1534.7,487.5 1535.4,487.1 1536.2,486.8 1536.9,487.5 1537.7,488.2 1538.5,490.0 1539.3,490.2 1540.1,489.3 1540.9,488.6 1541.6,487.6 1542.4,488.6 1543.2,487.1 1544.0,487.2 1544.8,489.1 1545.6,490.5 1546.3,490.2 1547.1,489.2 1547.9,490.6 1548.7,490.2 1549.5,489.7 1550.2,490.5 1551.0,489.5 1551.8,490.8 1552.6,490.3 1553.4,490.7 1554.2,490.1 1554.9,492.3 1555.7,491.8 1556.5,493.0 1557.3,491.6 1558.1,490.9 1558.9,493.0 1559.7,490.9 1560.5,493.0 1561.3,492.4 1562.1,491.9 1562.9,494.0 1563.6,494.2 1564.4,493.3 1565.2,493.3 1566.0,491.9 1566.8,491.1 1567.6,492.9 1568.4,494.3 1569.2,494.3 1570.0,495.4 1570.8,493.2 1571.6,493.1 1572.4,493.4 1573.2,493.4 1574.0,495.6 1574.8,494.1 1575.6,493.3 1576.4,493.8 1577.2,495.0 1578.0,493.2 1578.8,494.6 1579.6,493.8 1580.4,495.5 1581.2,494.5 1582.0,493.9 1582.8,492.6 1583.6,495.5 1584.4,493.4 1585.2,495.6 1586.0,496.7 1586.8,494.0 1587.6,496.4 1588.4,493.3 1589.2,494.9 1590.0,495.0 1590.8,496.1 1591.6,496.4 1592.4,495.4 1593.2,494.9 1594.0,496.4 1594.8,495.3 1595.6,496.1 1596.4,497.2 1597.2,495.4 1598.0,495.5 1598.8,494.8 1599.6,494.7 1600.4,496.5 1601.2,494.2 1602.0,495.0 1602.8,496.5 1603.6,494.2 1604.4,497.1 1605.2,496.5 1606.0,495.2 1606.8,495.5 1607.6,494.7 1608.4,494.4 1609.1,495.2 1609.9,493.9 1610.7,494.2 1611.5,495.3 1612.3,495.6 1613.1,493.2 1613.9,494.4 1614.7,493.4 1615.5,496.0 1616.3,493.7 1617.1,494.4 1617.9,493.8 1618.7,494.1 1619.5,492.6 1620.3,493.0 1621.1,493.9 1621.9,493.8 1622.7,492.5 1623.5,492.9 1624.3,493.1 1625.1,494.7 1625.9,494.8 1626.7,491.2 1627.4,492.2 1628.2,491.7 1629.0,494.2 1629.8,492.1 1630.6,494.4 1631.4,492.1 1632.2,492.5 1633.0,492.5 1633.8,492.4 1634.5,491.2 1635.3,493.6 1636.1,490.8 1636.9,490.2 1637.7,491.4 1638.5,491.7 1639.3,491.9 1640.1,489.0 1640.9,490.0 1641.7,489.2 1642.4,491.7 1643.2,491.6 1644.0,490.8 1644.8,488.7 1645.6,489.5 1646.4,488.7 1647.2,488.2 1648.0,489.0 1648.8,490.4 1649.6,489.5 1650.4,490.5 1651.2,489.5 1652.0,490.2 1652.8,489.4 1653.6,488.3 1654.3,489.4 1655.1,488.8 1655.9,487.9 1656.7,489.0 1657.5,489.6 1658.3,486.8 1659.1,489.7 1659.9,488.7 1660.7,490.0 1661.5,487.0 1662.3,488.6 1663.1,487.7 1663.9,485.7 1664.6,487.9 1665.4,488.0 1666.2,485.6 1666.9,485.7 1667.7,485.8 1668.5,486.2 1669.2,485.5 1670.0,485.1 1670.8,486.2 1671.6,487.3 1672.3,484.2 1673.1,485.7 1673.9,484.6 1674.6,485.1 1675.4,484.8 1676.2,486.0 1676.9,485.2 1677.7,485.6 1678.5,482.8 1679.3,481.1 1680.0,482.3 1680.8,481.6 1681.6,482.7 1682.3,481.2 1683.1,480.9 1683.9,480.4 1684.6,480.6 1685.4,480.2 1686.1,481.6 1686.9,478.7 1687.6,482.4 1688.4,480.0 1689.1,480.6 1689.9,479.6 1690.6,477.3 1691.4,479.6 1692.1,480.6 1692.9,477.0 1693.6,477.3 1694.4,478.3 1695.1,476.2 1695.9,476.1 1696.6,475.5 1697.4,476.7 1698.1,477.1 1698.8,478.1 1699.6,476.4 1700.3,477.5 1701.1,475.1 1701.8,473.8 1702.6,473.9 1703.3,473.9 1704.1,473.9 1704.8,473.0 1705.6,475.0 1706.3,475.2 1706.9,474.3 1707.6,474.3 1708.3,472.8 1709.0,471.2 1709.6,471.6 1710.3,469.8 1711.0,470.9 1711.7,468.0 1712.3,471.0 1713.0,470.9 1713.7,466.7 1714.4,468.0 1715.0,467.0 1715.7,467.6 1716.4,465.9 1717.1,465.8 1717.7,465.1 1718.4,466.0 1719.1,463.5 1719.8,464.7 1720.4,465.5 1721.1,465.7 1721.8,461.9 1722.4,462.1 1723.1,461.9 1723.8,462.7 1724.4,462.4 1725.0,462.4 1725.6,459.9 1726.2,460.5 1726.9,459.1 1727.5,459.9 1728.1,459.3 1728.7,457.2 1729.3,457.3 1729.9,457.8 1730.6,456.6 1731.2,455.6 1731.8,455.3 1732.4,455.5 1733.0,455.3 1733.6,452.6 1734.3,453.7 1734.9,452.6 1735.5,451.2 1736.1,450.4 1736.7,452.3 1737.4,450.4 1738.1,450.9 1738.8,450.8 1739.6,449.4 1740.4,448.6 1741.1,450.3 1741.9,448.0 1742.7,449.3 1743.5,449.2 1744.2,449.1 1745.0,449.1 1745.8,448.8 1746.5,447.9 1747.3,449.5 1748.1,446.5 1748.8,448.1 1749.6,445.6 1750.4,445.5 1751.2,446.9 1751.9,447.5 1752.7,445.8 1753.5,448.7 1754.2,450.3 1755.0,450.1 1755.8,447.8 1756.5,447.9 1757.3,447.2 1758.1,448.7 1758.8,448.2 1759.6,451.1 1760.4,448.3 1761.2,451.6 1761.9,450.9 1762.7,451.3 1763.5,450.3 1764.3,450.4 1765.1,449.9 1765.9,449.2 1766.7,450.7 1767.4,450.6 1768.2,450.9 1769.0,451.4 1769.8,451.2 1770.6,452.6 1771.4,450.9 1772.2,452.1 1773.0,451.4 1773.8,451.3 1774.6,452.9 1775.3,452.6 1776.1,452.4 1776.9,452.7 1777.7,453.7 1778.5,454.1 1779.3,453.5 1780.1,452.7 1780.9,454.1 1781.7,453.2 1782.4,452.6 1783.2,453.8 1784.0,454.9 1784.8,454.7 1785.6,456.6 1786.3,455.4 1787.1,453.9 1787.9,453.2 1788.7,456.4 1789.4,457.6 1790.2,454.6 1791.0,455.4 1791.8,455.3 1792.6,457.2 1793.3,454.6 1794.1,456.9 1794.9,455.8 1795.7,456.3 1796.4,457.5 1797.2,457.0 1798.0,458.3 1798.8,458.9 1799.5,458.5 1800.3,457.2 1801.1,459.4 1801.9,457.9 1802.7,460.6 1803.4,457.8 1804.2,460.4 1805.0,459.9 1805.8,457.6 1806.6,458.5 1807.4,461.6 1808.1,462.0 1808.9,460.6 1809.7,459.4 1810.5,458.4 1811.3,459.6 1812.1,460.4 1812.9,460.4 1813.7,459.7 1814.5,460.8 1815.3,461.1 1816.0,459.3 1816.8,460.8 1817.6,460.1 1818.4,460.6 1819.2,461.0 1820.0,462.5 1820.8,462.2 1821.6,462.8 1822.4,463.5 1823.1,461.1 1823.9,462.4 1824.7,461.5 1825.5,461.4 1826.3,462.3 1827.1,462.5 1827.9,462.0 1828.7,463.2 1829.5,463.6 1830.3,462.7 1831.1,463.3 1831.9,463.7 1832.6,464.8 1833.4,464.2 1834.2,462.1 1835.0,463.3 1835.8,465.3 1836.6,464.5 1837.4,463.6 1838.2,466.4 1838.9,465.0 1839.7,464.1 1840.4,464.6 1841.2,463.7 1841.9,464.6 1842.6,463.1 1843.4,464.2 1844.1,462.1 1844.9,460.0 1845.6,461.3 1846.4,462.8 1847.1,461.5 1847.8,461.5 1848.6,458.6 1849.4,460.6 1850.1,459.5 1850.9,460.2 1851.7,460.7 1852.4,461.4 1853.2,460.3 1854.0,461.2 1854.8,461.7 1855.5,463.2 1856.3,461.8 1857.0,463.2 1857.7,462.0 1858.3,462.3 1858.8,463.7 1859.3,463.0 1859.8,466.4 1860.4,465.7 1860.9,466.1 1861.4,465.4 1862.0,466.7 1862.5,470.5 1863.2,470.5 1863.9,469.7 1864.7,470.2 1865.5,468.9 1866.2,469.2 1867.0,469.3 1867.8,471.0 1868.6,471.1 1869.4,470.9 1870.1,471.7 1870.9,470.7 1871.7,471.6 1872.5,470.0 1873.2,470.9 1874.0,472.4 1874.8,469.8 1875.6,473.9 1876.4,473.1 1877.1,474.1 1877.9,472.7 1878.7,472.6 1879.5,472.7 1880.3,472.7 1881.1,473.1 1881.9,472.9 1882.7,473.1 1883.5,474.1 1884.3,474.1 1885.1,474.4 1885.9,474.8 1886.6,474.0 1887.4,475.2 1888.2,472.7 1889.0,471.8 1889.8,472.5 1890.6,472.3 1891.4,473.5 1892.2,474.8 1893.0,474.8 1893.8,473.3 1894.6,474.2 1895.4,474.1 1896.2,473.8 1897.0,473.1 1897.8,475.3 1898.6,474.7 1899.4,476.6 1900.2,474.7 1901.0,474.5 1901.8,474.8 1902.6,475.1 1903.4,476.9 1904.2,475.0 1905.0,477.2 1905.8,476.4 1906.6,475.6 1907.4,474.6 1908.2,476.4 1909.0,475.4 1909.8,475.8 1910.6,476.0 1911.4,476.6 1912.2,475.7 1913.0,476.1 1913.8,476.0 1914.6,477.1 1915.3,474.1 1916.1,476.0 1916.9,476.0 1917.7,477.2 1918.5,475.3 1919.3,475.5 1920.1,477.7 1920.9,475.3 1921.7,478.0 1922.5,478.6 1923.3,476.6 1924.1,475.7 1924.9,476.8 1925.7,477.1 1926.5,475.3 1927.3,477.4 1928.1,477.3 1928.9,476.6 1929.7,477.7 1930.5,477.2 1931.3,477.4 1932.1,476.9 1932.9,476.1 1933.7,474.8 1934.5,475.9 1935.3,477.0 1936.1,476.1 1936.9,476.8 1937.7,476.2 1938.5,476.5 1939.3,475.0 1940.1,476.7 1940.9,476.0 1941.7,475.2 1942.5,476.1 1943.3,475.5 1944.1,477.3 1944.9,476.1 1945.7,476.8 1946.5,475.7 1947.3,475.8 1948.1,476.4 1948.9,477.8 1949.7,475.4 1950.5,477.5 1951.3,477.6 1952.1,475.5 1952.9,476.6 1953.7,475.7 1954.5,477.5 1955.3,475.6 1956.1,477.6 1956.9,475.8 1957.7,473.9 1958.5,475.5 1959.3,473.5 1960.1,473.5 1960.9,476.6 1961.7,474.7 1962.5,473.9 1963.3,475.7 1964.1,475.4 1964.9,476.4 1965.7,474.7 1966.5,475.6 1967.3,475.4 1968.1,473.6 1968.9,473.4 1969.7,475.2 1970.5,472.8 1971.3,473.5 1972.1,473.7 1972.9,475.3 1973.7,473.3 1974.5,473.7 1975.3,476.7 1976.1,474.1 1976.9,473.0 1977.7,474.5 1978.5,474.6 1979.3,475.5 1980.0,475.4 1980.8,477.1 1981.6,476.0 1982.4,475.3 1983.2,474.6 1984.0,475.6 1984.8,474.2 1985.6,475.5 1986.4,476.9 1987.2,476.5 1988.0,475.3 1988.8,475.6 1989.6,475.2 1990.3,476.3 1991.1,478.0 1991.9,478.3 1992.7,477.7 1993.4,476.9 1994.2,476.8 1995.0,479.8 1995.7,480.0 1996.5,478.4 1997.3,478.6 1998.1,476.6 1998.8,479.8 1999.6,478.0 2000.4,480.4 2001.2,480.2 2001.9,480.2 2002.7,479.6 2003.5,479.1 2004.3,480.3 2005.0,482.1 2005.8,479.6 2006.6,481.1 2007.3,480.2 2008.1,479.9 2008.9,482.1 2009.7,482.0 2010.5,482.2 2011.2,483.9 2012.0,481.6 2012.8,482.1 2013.6,482.9 2014.4,483.4 2015.2,484.0 2016.0,485.0 2016.7,481.5 2017.5,484.1 2018.3,485.0 2019.1,485.6 2019.9,483.6 2020.7,481.9 2021.4,482.1 2022.2,485.2 2023.0,483.6 2023.8,482.9 2024.6,484.5 2025.4,485.7 2026.2,485.7 2026.9,486.1 2027.7,484.5 2028.5,485.0 2029.3,486.1 2030.1,484.9 2030.9,486.4 2031.6,485.3 2032.4,485.8 2033.2,487.0 2034.0,486.5 2034.8,484.7 2035.6,488.7 2036.4,488.4 2037.1,487.1 2037.9,486.8 2038.7,487.4 2039.5,487.7 2040.3,488.9 2041.1,488.0 2041.9,489.2 2042.6,489.0 2043.4,487.6 2044.2,487.6 2045.0,490.8 2045.8,487.6 2046.6,491.1 2047.3,490.3 2048.1,490.4 2048.9,489.0 2049.7,489.1 2050.5,490.6 2051.3,489.4 2052.1,489.9 2052.8,491.5 2053.6,492.4 2054.4,491.3 2055.2,491.0 2056.0,491.3 2056.8,492.8 2057.6,489.9 2058.4,490.0 2059.2,491.3 2060.0,489.7 2060.7,493.6 2061.5,493.1 2062.3,493.3 2063.1,492.7 2063.9,492.3 2064.7,491.3 2065.5,493.1 2066.3,491.9 2067.1,492.3 2067.9,493.0 2068.7,493.1 2069.4,494.6 2070.2,493.6 2071.0,492.4 2071.8,491.4 2072.6,495.3 2073.4,493.4 2074.2,495.1 2075.0,495.9 2075.8,493.5 2076.6,494.6 2077.3,492.3 2078.1,494.3 2078.9,495.0 2079.7,496.0 2080.5,495.2 2081.3,495.4 2082.1,494.2 2082.9,495.4 2083.7,495.1 2084.5,495.5 2085.3,494.7 2086.1,497.5 2086.9,495.3 2087.6,495.1 2088.4,494.9 2089.2,495.7 2090.0,496.3 2090.8,495.1 2091.6,495.2 2092.4,497.0 2093.2,496.8 2094.0,494.9 2094.8,494.7 2095.6,495.8 2096.4,496.5 2097.2,498.6 2098.0,498.0 2098.8,498.9 2099.6,496.9 2100.3,498.0 2101.1,496.0 2101.9,498.1 2102.7,497.3 2103.5,498.7 2104.3,498.1 2105.1,498.7 2105.9,499.7 2106.7,498.9 2107.5,499.9 2108.3,496.4 2109.1,498.2 2109.9,499.3 2110.7,499.3 2111.5,498.4 2112.3,497.6 2113.0,498.2 2113.8,498.6 2114.6,497.9 2115.4,498.1 2116.2,499.8 2117.0,497.5 2117.8,498.0 2118.6,498.5 2119.4,500.1 2120.2,501.3 2121.0,498.1 2121.8,501.6 2122.6,500.9 2123.4,499.1 2124.2,500.3 2125.0,500.2 2125.8,499.4 2126.6,498.6 2127.4,499.4 2128.2,499.3 2129.0,501.1 2129.8,501.1 2130.6,500.8 2131.4,498.2 2132.2,500.9 2133.0,499.2 2133.8,502.1 2134.6,499.9 2135.4,498.5 2136.2,500.9 2137.0,502.2 2137.8,500.2 2138.6,499.4 2139.4,501.4 2140.2,501.9 2141.0,501.6 2141.8,502.3 2142.6,501.9 2143.4,502.7 2144.2,502.2 2145.0,499.9 2145.8,503.1 2146.6,500.8 2147.4,501.8 2148.2,501.7 2149.0,501.1 2149.8,502.6 2150.6,499.4 2151.4,501.7 2152.2,500.7 2153.0,501.4 2153.8,502.7 2154.6,501.9 2155.4,501.8 2156.2,500.6 2157.0,502.2 2157.8,500.5 2158.6,500.9 2159.4,501.2 2160.2,500.5 2161.0,501.1 2161.8,499.6 2162.6,500.3 2163.4,500.0 2164.2,502.6 2165.0,502.7 2165.8,503.0 2166.6,500.6 2167.4,502.6 2168.2,501.5 2169.0,500.8 2169.8,502.4 2170.6,501.1 2171.4,503.5 2172.2,502.8 2173.0,500.8 2173.8,501.6 2174.6,499.9 2175.4,501.1 2176.2,501.1 2177.0,503.5 2177.8,502.3 2178.6,501.5 2179.4,502.1 2180.2,503.0 2181.0,501.8 2181.8,503.5 2182.6,503.4 2183.4,502.4 2184.2,502.8 2185.0,502.1 2185.8,504.1 2186.6,502.4 2187.4,500.1 2188.2,503.4 2189.0,502.3 2189.8,503.8 2190.6,502.7 2191.4,501.2 2192.2,502.7 2193.0,501.4 2193.8,501.6 2194.6,502.2 2195.4,503.0 2196.2,502.7 2196.7,504.1"/>
<line x1="425.3" y1="182.8" x2="422.4" y2="1638" stroke="#000" stroke-width="7.5" stroke-dasharray="17.2 14.676"/>
<line x1="242.5" y1="130.8" x2="380.2" y2="130.8" stroke="#000" stroke-width="2.8"/><polygon points="206.7,131.4 244.5,121.4 244.5,141.4" fill="#000"/><polygon points="416.0,131.4 378.2,121.4 378.2,141.4" fill="#000"/>
<line x1="466.2" y1="130.8" x2="2154.1" y2="130.8" stroke="#000" stroke-width="2.8"/><polygon points="430.4,131.4 468.2,121.4 468.2,141.4" fill="#000"/><polygon points="2189.9,131.4 2152.1,121.4 2152.1,141.4" fill="#000"/>
<text class="big" transform="translate(20.0,79.0) scale(1,1.0)">Physisorption</text>
<text class="big" transform="translate(1120.0,79.8) scale(1,1.0)">Chemisorption</text>
<text class="big" transform="translate(907.0,1851.0) scale(1,1.0)">Temperature (°C)</text>
<text class="big" transform="translate(138.7,1183.0) rotate(-90) scale(1,1.0)">TCD signal (mV)</text>
<text class="big" transform="translate(223.0,559.0) scale(1,1.035)">20SA</text>
<text class="big" transform="translate(221.8,860.0) scale(1,1.035)">15SA</text>
<text class="big" transform="translate(228.0,1040.0) scale(1,1.035)">10SA</text>
<text class="big" transform="translate(241.4,1404.0) scale(1,1.035)">5SA</text>
<text class="big" transform="translate(232.0,1536.7) scale(1,1.035)">TC</text>
</svg></body></html>
